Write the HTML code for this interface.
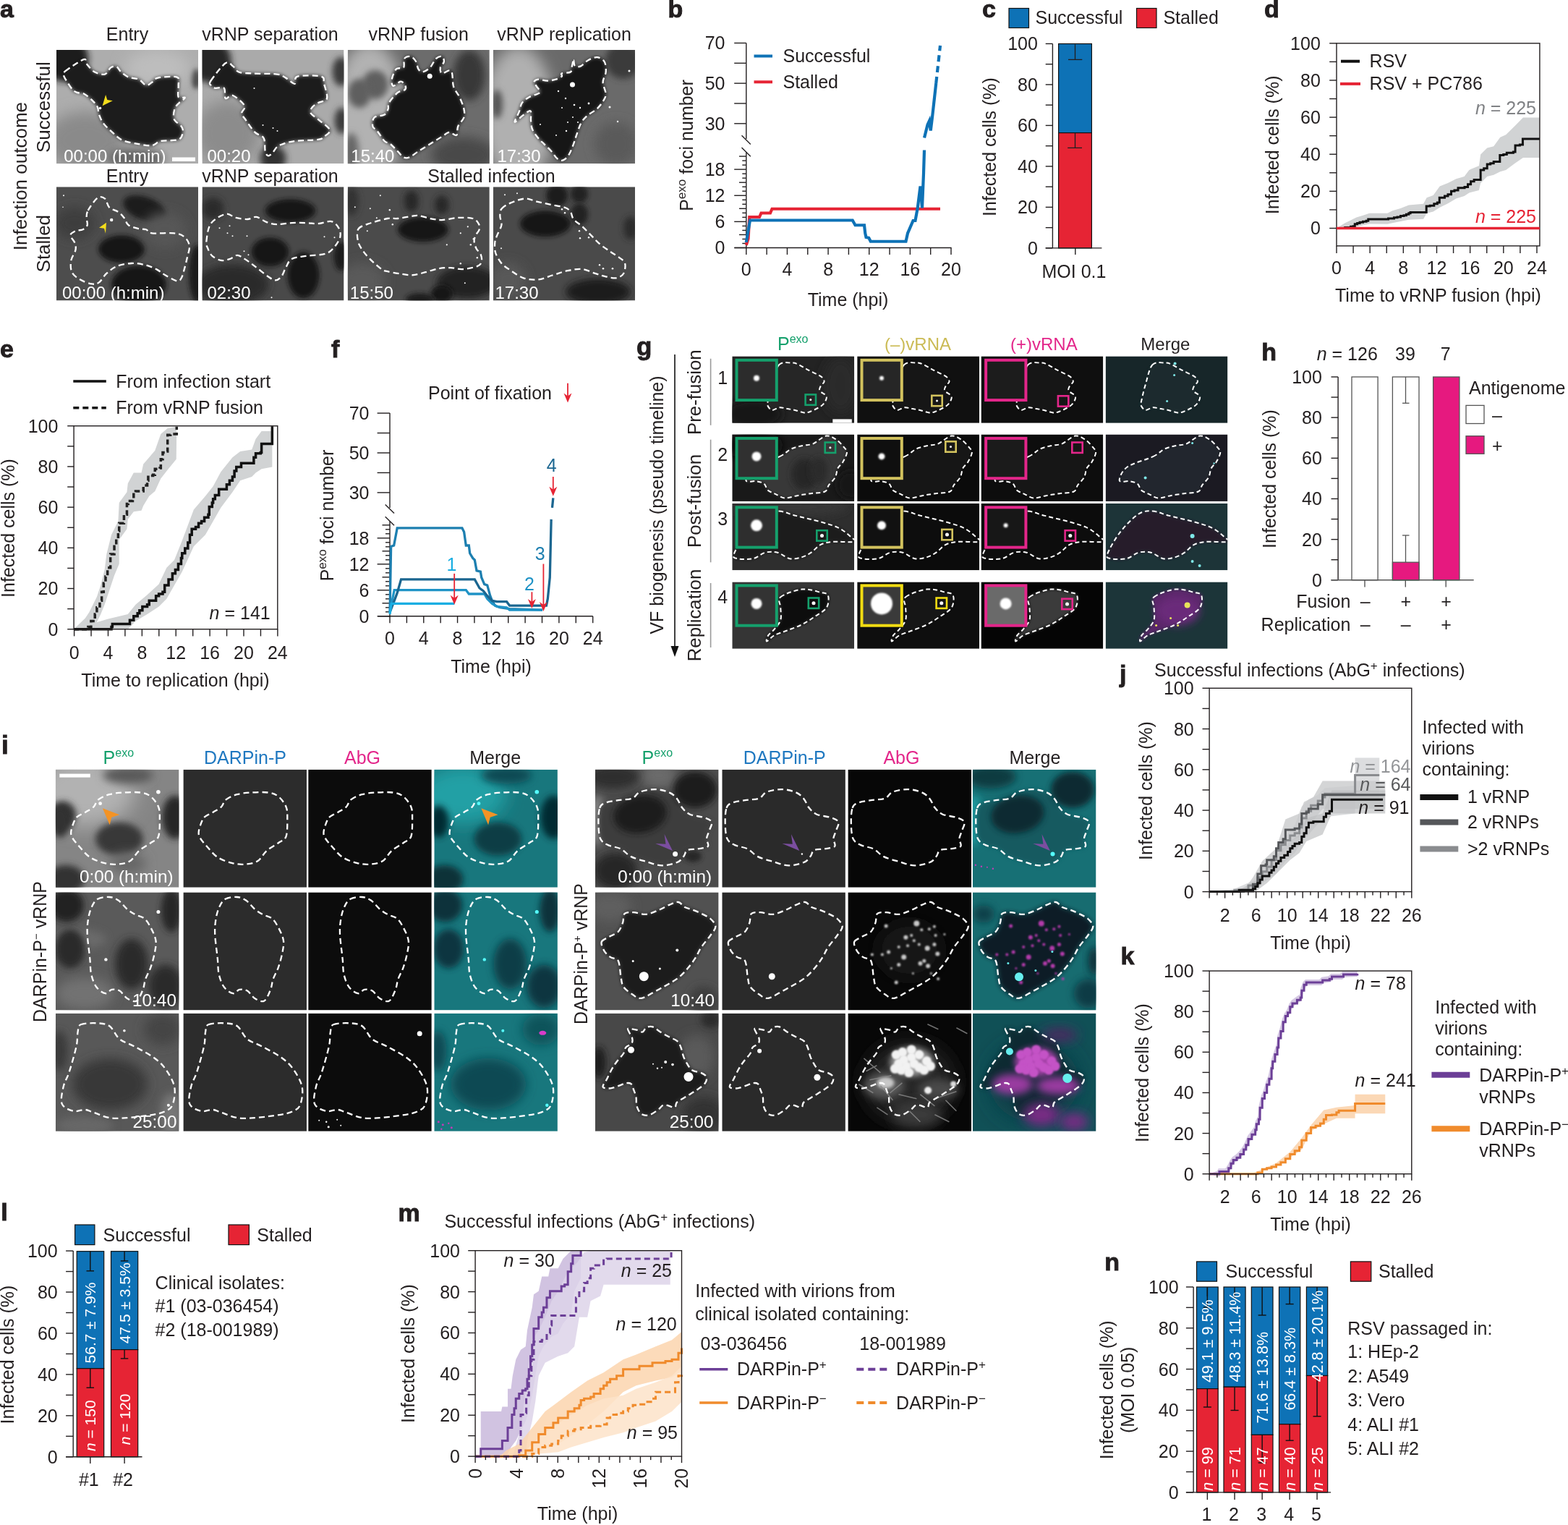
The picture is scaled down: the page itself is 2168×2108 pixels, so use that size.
<!DOCTYPE html>
<html><head><meta charset="utf-8"><title>Figure</title>
<style>html,body{margin:0;padding:0;background:#fff;width:2168px;height:2108px;overflow:hidden}svg{display:block}</style>
</head><body>
<svg width="2168" height="2108" viewBox="0 0 2168 2108" font-family='"Liberation Sans", Arial, Helvetica, sans-serif'><defs><filter id="bl2" x="-50%" y="-50%" width="200%" height="200%"><feGaussianBlur stdDeviation="1.0"/></filter><filter id="bl4" x="-50%" y="-50%" width="200%" height="200%"><feGaussianBlur stdDeviation="2.0"/></filter><filter id="bl5" x="-50%" y="-50%" width="200%" height="200%"><feGaussianBlur stdDeviation="2.5"/></filter><filter id="bl6" x="-50%" y="-50%" width="200%" height="200%"><feGaussianBlur stdDeviation="3.0"/></filter><filter id="bl8" x="-50%" y="-50%" width="200%" height="200%"><feGaussianBlur stdDeviation="4.0"/></filter><filter id="bl10" x="-50%" y="-50%" width="200%" height="200%"><feGaussianBlur stdDeviation="5.0"/></filter><filter id="bl12" x="-50%" y="-50%" width="200%" height="200%"><feGaussianBlur stdDeviation="6.0"/></filter><filter id="bl16" x="-50%" y="-50%" width="200%" height="200%"><feGaussianBlur stdDeviation="8.0"/></filter><filter id="bl20" x="-50%" y="-50%" width="200%" height="200%"><feGaussianBlur stdDeviation="10.0"/></filter><filter id="bl24" x="-50%" y="-50%" width="200%" height="200%"><feGaussianBlur stdDeviation="12.0"/></filter><filter id="bl28" x="-50%" y="-50%" width="200%" height="200%"><feGaussianBlur stdDeviation="14.0"/></filter><clipPath id="c1"><rect x="0" y="0" width="196" height="157.2"/></clipPath><clipPath id="c2"><rect x="0" y="0" width="196" height="157.2"/></clipPath><clipPath id="c3"><rect x="0" y="0" width="196" height="157.2"/></clipPath><clipPath id="c4"><rect x="0" y="0" width="196" height="157.2"/></clipPath><clipPath id="c5"><rect x="0" y="0" width="196" height="157.2"/></clipPath><clipPath id="c6"><rect x="0" y="0" width="196" height="157.2"/></clipPath><clipPath id="c7"><rect x="0" y="0" width="196" height="157.2"/></clipPath><clipPath id="c8"><rect x="0" y="0" width="196" height="157.2"/></clipPath><clipPath id="c9"><rect x="0" y="0" width="168.8" height="92.4"/></clipPath><clipPath id="c10"><rect x="0" y="0" width="168.8" height="92.4"/></clipPath><clipPath id="c11"><rect x="0" y="0" width="168.8" height="92.4"/></clipPath><clipPath id="c12"><rect x="0" y="0" width="168.8" height="92.4"/></clipPath><clipPath id="c13"><rect x="0" y="0" width="168.8" height="92.4"/></clipPath><clipPath id="c14"><rect x="0" y="0" width="168.8" height="92.4"/></clipPath><clipPath id="c15"><rect x="0" y="0" width="168.8" height="92.4"/></clipPath><clipPath id="c16"><rect x="0" y="0" width="168.8" height="92.4"/></clipPath><clipPath id="c17"><rect x="0" y="0" width="168.8" height="92.4"/></clipPath><clipPath id="c18"><rect x="0" y="0" width="168.8" height="92.4"/></clipPath><clipPath id="c19"><rect x="0" y="0" width="168.8" height="92.4"/></clipPath><clipPath id="c20"><rect x="0" y="0" width="168.8" height="92.4"/></clipPath><clipPath id="c21"><rect x="0" y="0" width="168.8" height="92.4"/></clipPath><clipPath id="c22"><rect x="0" y="0" width="168.8" height="92.4"/></clipPath><clipPath id="c23"><rect x="0" y="0" width="168.8" height="92.4"/></clipPath><clipPath id="c24"><rect x="0" y="0" width="168.8" height="92.4"/></clipPath><clipPath id="c25"><rect x="0" y="0" width="170.6" height="163"/></clipPath><clipPath id="c26"><rect x="0" y="0" width="170.6" height="163"/></clipPath><clipPath id="c27"><rect x="0" y="0" width="170.6" height="163"/></clipPath><clipPath id="c28"><rect x="0" y="0" width="170.6" height="163"/></clipPath><clipPath id="c29"><rect x="0" y="0" width="170.6" height="163"/></clipPath><clipPath id="c30"><rect x="0" y="0" width="170.6" height="163"/></clipPath><clipPath id="c31"><rect x="0" y="0" width="170.6" height="163"/></clipPath><clipPath id="c32"><rect x="0" y="0" width="170.6" height="163"/></clipPath><clipPath id="c33"><rect x="0" y="0" width="170.6" height="163"/></clipPath><clipPath id="c34"><rect x="0" y="0" width="170.6" height="163"/></clipPath><clipPath id="c35"><rect x="0" y="0" width="170.6" height="163"/></clipPath><clipPath id="c36"><rect x="0" y="0" width="170.6" height="163"/></clipPath><clipPath id="c37"><rect x="0" y="0" width="170.6" height="163"/></clipPath><clipPath id="c38"><rect x="0" y="0" width="170.6" height="163"/></clipPath><clipPath id="c39"><rect x="0" y="0" width="170.6" height="163"/></clipPath><clipPath id="c40"><rect x="0" y="0" width="170.6" height="163"/></clipPath><clipPath id="c41"><rect x="0" y="0" width="170.6" height="163"/></clipPath><clipPath id="c42"><rect x="0" y="0" width="170.6" height="163"/></clipPath><clipPath id="c43"><rect x="0" y="0" width="170.6" height="163"/></clipPath><clipPath id="c44"><rect x="0" y="0" width="170.6" height="163"/></clipPath><clipPath id="c45"><rect x="0" y="0" width="170.6" height="163"/></clipPath><clipPath id="c46"><rect x="0" y="0" width="170.6" height="163"/></clipPath><clipPath id="c47"><rect x="0" y="0" width="170.6" height="163"/></clipPath><clipPath id="c48"><rect x="0" y="0" width="170.6" height="163"/></clipPath></defs><rect width="2168" height="2108" fill="#fff"/><text x="0" y="24" font-size="34" fill="#231f20" font-weight="bold" stroke="#231f20" stroke-width="0.9">a</text>
<text x="176" y="56.1" font-size="25" fill="#231f20" text-anchor="middle">Entry</text>
<text x="373.5" y="56.1" font-size="25" fill="#231f20" text-anchor="middle">vRNP separation</text>
<text x="578.7" y="56.1" font-size="25" fill="#231f20" text-anchor="middle">vRNP fusion</text>
<text x="780" y="56.1" font-size="25" fill="#231f20" text-anchor="middle">vRNP replication</text>
<text x="176" y="252.2" font-size="25" fill="#231f20" text-anchor="middle">Entry</text>
<text x="373.5" y="252.2" font-size="25" fill="#231f20" text-anchor="middle">vRNP separation</text>
<text x="679.5" y="252.2" font-size="25" fill="#231f20" text-anchor="middle">Stalled infection</text>
<text transform="translate(68.6,148.2) rotate(-90)" x="0" y="0" font-size="26" fill="#231f20" text-anchor="middle">Successful</text>
<text transform="translate(68.6,336.7) rotate(-90)" x="0" y="0" font-size="26" fill="#231f20" text-anchor="middle">Stalled</text>
<text transform="translate(36.6,243.6) rotate(-90)" x="0" y="0" font-size="26" fill="#231f20" text-anchor="middle">Infection outcome</text>
<g transform="translate(78,69)"><g clip-path="url(#c1)">
<rect x="0" y="0" width="196" height="157.2" fill="#adadad"/>
<ellipse cx="40" cy="125" rx="55" ry="40" fill="#8a8a8a" filter="url(#bl20)"/>
<ellipse cx="110" cy="150" rx="40" ry="14" fill="#666" filter="url(#bl12)"/>
<ellipse cx="12" cy="12" rx="32" ry="32" fill="#1e1e1e" filter="url(#bl10)"/>
<ellipse cx="193" cy="40" rx="6" ry="14" fill="#444" filter="url(#bl6)"/>
<ellipse cx="140" cy="25" rx="45" ry="25" fill="#bdbdbd" filter="url(#bl20)"/>
<path d="M12.2,29.47 C16.77,25.75 32.69,14.91 37.6,13.21 C42.51,11.52 39.13,16.43 41.67,19.31 C44.21,22.19 48.61,28.12 52.85,30.49 C57.08,32.86 63.35,34.55 67.07,33.54 C70.8,32.52 72.49,26.08 75.2,24.39 C77.91,22.7 80.96,22.36 83.33,23.37 C85.7,24.39 86.72,28.12 89.43,30.49 C92.14,32.86 95.53,35.91 99.59,37.6 C103.66,39.3 109.76,38.79 113.82,40.65 C117.89,42.51 120.93,48.1 123.98,48.78 C127.03,49.46 129.4,46.41 132.11,44.72 C134.82,43.02 134.49,39.8 140.24,38.62 C146,37.43 161.92,35.91 166.67,37.6 C171.41,39.3 168.36,44.21 168.7,48.78 C169.04,53.35 167.17,62.16 168.7,65.04 C170.22,67.92 177.68,64.7 177.85,66.06 C178.01,67.41 172.09,70.63 169.72,73.17 C167.34,75.71 164.8,77.57 163.62,81.3 C162.43,85.03 161.08,91.46 162.6,95.53 C164.13,99.59 170.73,102.64 172.76,105.69 C174.8,108.74 175.47,110.77 174.8,113.82 C174.12,116.87 173.78,121.95 168.7,123.98 C163.62,126.02 150.41,124.66 144.31,126.02 C138.21,127.37 137.2,131.44 132.11,132.11 C127.03,132.79 120.6,131.27 113.82,130.08 C107.05,128.9 97.56,127.71 91.46,125 C85.37,122.29 81.64,117.72 77.24,113.82 C72.83,109.93 68.09,105.69 65.04,101.63 C61.99,97.56 60.3,93.16 58.94,89.43 C57.59,85.7 58.27,82.32 56.91,79.27 C55.56,76.22 53.86,74.19 50.81,71.14 C47.76,68.09 42.34,63.01 38.62,60.98 C34.89,58.94 31.17,59.96 28.46,58.94 C25.75,57.93 24.56,57.25 22.36,54.88 C20.16,52.51 17.28,47.93 15.24,44.72 C13.21,41.5 10.67,38.11 10.16,35.57 C9.65,33.03 7.62,33.2 12.2,29.47Z" fill="#1a1a1a" filter="url(#bl5)" opacity="1"/>
<path d="M12.2,29.47 C16.77,25.75 32.69,14.91 37.6,13.21 C42.51,11.52 39.13,16.43 41.67,19.31 C44.21,22.19 48.61,28.12 52.85,30.49 C57.08,32.86 63.35,34.55 67.07,33.54 C70.8,32.52 72.49,26.08 75.2,24.39 C77.91,22.7 80.96,22.36 83.33,23.37 C85.7,24.39 86.72,28.12 89.43,30.49 C92.14,32.86 95.53,35.91 99.59,37.6 C103.66,39.3 109.76,38.79 113.82,40.65 C117.89,42.51 120.93,48.1 123.98,48.78 C127.03,49.46 129.4,46.41 132.11,44.72 C134.82,43.02 134.49,39.8 140.24,38.62 C146,37.43 161.92,35.91 166.67,37.6 C171.41,39.3 168.36,44.21 168.7,48.78 C169.04,53.35 167.17,62.16 168.7,65.04 C170.22,67.92 177.68,64.7 177.85,66.06 C178.01,67.41 172.09,70.63 169.72,73.17 C167.34,75.71 164.8,77.57 163.62,81.3 C162.43,85.03 161.08,91.46 162.6,95.53 C164.13,99.59 170.73,102.64 172.76,105.69 C174.8,108.74 175.47,110.77 174.8,113.82 C174.12,116.87 173.78,121.95 168.7,123.98 C163.62,126.02 150.41,124.66 144.31,126.02 C138.21,127.37 137.2,131.44 132.11,132.11 C127.03,132.79 120.6,131.27 113.82,130.08 C107.05,128.9 97.56,127.71 91.46,125 C85.37,122.29 81.64,117.72 77.24,113.82 C72.83,109.93 68.09,105.69 65.04,101.63 C61.99,97.56 60.3,93.16 58.94,89.43 C57.59,85.7 58.27,82.32 56.91,79.27 C55.56,76.22 53.86,74.19 50.81,71.14 C47.76,68.09 42.34,63.01 38.62,60.98 C34.89,58.94 31.17,59.96 28.46,58.94 C25.75,57.93 24.56,57.25 22.36,54.88 C20.16,52.51 17.28,47.93 15.24,44.72 C13.21,41.5 10.67,38.11 10.16,35.57 C9.65,33.03 7.62,33.2 12.2,29.47Z" fill="none" stroke="#fff" stroke-width="2.3" stroke-dasharray="8 5"/>
<circle cx="60.5" cy="80.5" r="1.8" fill="#fff"/>
<path d="M63.6,77.2 L68.1,62 L70.3,69.1 L77.8,70.3 z" fill="#f3dd1c"/>
<text x="10.2" y="154.8" font-size="24" fill="#fff">00:00 (h:min)</text>
<rect x="160" y="148.5" width="32" height="5.5" fill="#fff"/>
</g></g>
<g transform="translate(279.5,69)"><g clip-path="url(#c2)">
<rect x="0" y="0" width="196" height="157.2" fill="#aaaaaa"/>
<ellipse cx="35" cy="115" rx="45" ry="45" fill="#8c8c8c" filter="url(#bl20)"/>
<ellipse cx="10" cy="15" rx="30" ry="30" fill="#262626" filter="url(#bl10)"/>
<ellipse cx="192" cy="30" rx="12" ry="20" fill="#3a3a3a" filter="url(#bl8)"/>
<ellipse cx="193" cy="98" rx="10" ry="18" fill="#3a3a3a" filter="url(#bl8)"/>
<ellipse cx="98" cy="150" rx="18" ry="18" fill="#333" filter="url(#bl10)"/>
<path d="M11.99,42.68 C15.38,37.6 27.24,21.68 32.32,18.29 C37.4,14.91 39.43,20.33 42.48,22.36 C45.53,24.39 46.21,28.79 50.61,30.49 C55.01,32.18 60.09,32.01 68.9,32.52 C77.71,33.03 95.66,32.52 103.46,33.54 C111.25,34.55 111.59,36.42 115.65,38.62 C119.72,40.82 125.14,47.09 127.85,46.75 C130.56,46.41 125.81,38.28 131.91,36.59 C138.01,34.89 158.33,34.89 164.43,36.59 C170.53,38.28 167.14,41.67 168.5,46.75 C169.85,51.83 173.92,62.67 172.56,67.07 C171.21,71.48 163.75,71.14 160.37,73.17 C156.98,75.2 153.93,76.9 152.24,79.27 C150.54,81.64 148.51,84.35 150.2,87.4 C151.9,90.45 157.99,93.67 162.4,97.56 C166.8,101.46 175.61,107.05 176.63,110.77 C177.64,114.5 171.21,117.72 168.5,119.92 C165.79,122.12 167.14,122.97 160.37,123.98 C153.59,125 135.98,125 127.85,126.02 C119.72,127.03 115.65,128.73 111.59,130.08 C107.52,131.44 105.83,132.11 103.46,134.15 C101.08,136.18 99.39,140.24 97.36,142.28 C95.33,144.31 92.95,146.68 91.26,146.34 C89.57,146 88.21,144.31 87.2,140.24 C86.18,136.18 87.53,126.36 85.16,121.95 C82.79,117.55 77.03,117.89 72.97,113.82 C68.9,109.76 63.82,101.96 60.77,97.56 C57.72,93.16 55.01,90.79 54.67,87.4 C54.34,84.01 60.77,81.3 58.74,77.24 C56.71,73.17 46.88,64.7 42.48,63.01 C38.08,61.31 34.35,68.77 32.32,67.07 C30.28,65.38 32.66,55.22 30.28,52.85 C27.91,50.47 21.14,53.52 18.09,52.85 C15.04,52.17 13.01,50.47 11.99,48.78 C10.98,47.09 8.6,47.76 11.99,42.68Z" fill="#1c1c1c" filter="url(#bl5)" opacity="1"/>
<path d="M11.99,42.68 C15.38,37.6 27.24,21.68 32.32,18.29 C37.4,14.91 39.43,20.33 42.48,22.36 C45.53,24.39 46.21,28.79 50.61,30.49 C55.01,32.18 60.09,32.01 68.9,32.52 C77.71,33.03 95.66,32.52 103.46,33.54 C111.25,34.55 111.59,36.42 115.65,38.62 C119.72,40.82 125.14,47.09 127.85,46.75 C130.56,46.41 125.81,38.28 131.91,36.59 C138.01,34.89 158.33,34.89 164.43,36.59 C170.53,38.28 167.14,41.67 168.5,46.75 C169.85,51.83 173.92,62.67 172.56,67.07 C171.21,71.48 163.75,71.14 160.37,73.17 C156.98,75.2 153.93,76.9 152.24,79.27 C150.54,81.64 148.51,84.35 150.2,87.4 C151.9,90.45 157.99,93.67 162.4,97.56 C166.8,101.46 175.61,107.05 176.63,110.77 C177.64,114.5 171.21,117.72 168.5,119.92 C165.79,122.12 167.14,122.97 160.37,123.98 C153.59,125 135.98,125 127.85,126.02 C119.72,127.03 115.65,128.73 111.59,130.08 C107.52,131.44 105.83,132.11 103.46,134.15 C101.08,136.18 99.39,140.24 97.36,142.28 C95.33,144.31 92.95,146.68 91.26,146.34 C89.57,146 88.21,144.31 87.2,140.24 C86.18,136.18 87.53,126.36 85.16,121.95 C82.79,117.55 77.03,117.89 72.97,113.82 C68.9,109.76 63.82,101.96 60.77,97.56 C57.72,93.16 55.01,90.79 54.67,87.4 C54.34,84.01 60.77,81.3 58.74,77.24 C56.71,73.17 46.88,64.7 42.48,63.01 C38.08,61.31 34.35,68.77 32.32,67.07 C30.28,65.38 32.66,55.22 30.28,52.85 C27.91,50.47 21.14,53.52 18.09,52.85 C15.04,52.17 13.01,50.47 11.99,48.78 C10.98,47.09 8.6,47.76 11.99,42.68Z" fill="none" stroke="#fff" stroke-width="2.3" stroke-dasharray="8 5"/>
<circle cx="72" cy="53" r="1" fill="#fff"/>
<circle cx="84" cy="104" r="1" fill="#fff"/>
<circle cx="98" cy="108" r="1" fill="#fff"/>
<circle cx="104" cy="112" r="1" fill="#fff"/>
<text x="7" y="154.8" font-size="24" fill="#fff">00:20</text>
</g></g>
<g transform="translate(480.8,69)"><g clip-path="url(#c3)">
<rect x="0" y="0" width="196" height="157.2" fill="#6c6c6c"/>
<ellipse cx="30" cy="85" rx="50" ry="95" fill="#b2b2b2" filter="url(#bl20)"/>
<ellipse cx="38" cy="48" rx="18" ry="20" fill="#5e5e5e" filter="url(#bl8)"/>
<ellipse cx="16" cy="60" rx="16" ry="20" fill="#5e5e5e" filter="url(#bl8)"/>
<ellipse cx="5" cy="140" rx="10" ry="25" fill="#666" filter="url(#bl10)"/>
<ellipse cx="168" cy="35" rx="22" ry="35" fill="#383838" filter="url(#bl12)"/>
<ellipse cx="160" cy="145" rx="45" ry="25" fill="#4a4a4a" filter="url(#bl16)"/>
<path d="M78.25,12.2 C79.95,9.65 84.69,8.47 87.4,9.15 C90.11,9.82 92.82,13.38 94.51,16.26 C96.21,19.14 96.04,24.05 97.56,26.42 C99.09,28.79 100.95,30.83 103.66,30.49 C106.37,30.15 110.77,27.44 113.82,24.39 C116.87,21.34 119.24,14.74 121.95,12.2 C124.66,9.65 128.22,8.47 130.08,9.15 C131.94,9.82 133.47,13.72 133.13,16.26 C132.79,18.8 128.56,21.68 128.05,24.39 C127.54,27.1 128.05,31.84 130.08,32.52 C132.11,33.2 137.87,28.46 140.24,28.46 C142.62,28.46 143.29,28.79 144.31,32.52 C145.33,36.25 144.65,45.39 146.34,50.81 C148.04,56.23 152.1,59.96 154.47,65.04 C156.84,70.12 159.55,76.56 160.57,81.3 C161.59,86.04 161.92,89.43 160.57,93.5 C159.21,97.56 154.13,101.63 152.44,105.69 C150.75,109.76 152.44,116.53 150.41,117.89 C148.37,119.24 143.63,113.48 140.24,113.82 C136.86,114.16 134.49,117.21 130.08,119.92 C125.68,122.63 119.24,126.69 113.82,130.08 C108.4,133.47 102.3,137.2 97.56,140.24 C92.82,143.29 88.75,147.02 85.37,148.37 C81.98,149.73 79.95,149.73 77.24,148.37 C74.53,147.02 72.15,143.29 69.11,140.24 C66.06,137.2 61.99,132.45 58.94,130.08 C55.89,127.71 53.86,129.07 50.81,126.02 C47.76,122.97 43.36,115.18 40.65,111.79 C37.94,108.4 35.23,108.74 34.55,105.69 C33.88,102.64 33.88,96.21 36.59,93.5 C39.3,90.79 47.59,91.46 50.81,89.43 C54.03,87.4 54.88,84.01 55.89,81.3 C56.91,78.59 54.71,76.9 56.91,73.17 C59.11,69.44 65.38,61.99 69.11,58.94 C72.83,55.89 77.57,56.57 79.27,54.88 C80.96,53.18 80.28,50.64 79.27,48.78 C78.25,46.92 75.88,43.53 73.17,43.7 C70.46,43.87 65.04,50.3 63.01,49.8 C60.98,49.29 60.3,44.55 60.98,40.65 C61.65,36.75 64.36,29.13 67.07,26.42 C69.78,23.71 75.37,26.76 77.24,24.39 C79.1,22.02 76.56,14.74 78.25,12.2Z" fill="#161616" filter="url(#bl5)" opacity="1"/>
<path d="M78.25,12.2 C79.95,9.65 84.69,8.47 87.4,9.15 C90.11,9.82 92.82,13.38 94.51,16.26 C96.21,19.14 96.04,24.05 97.56,26.42 C99.09,28.79 100.95,30.83 103.66,30.49 C106.37,30.15 110.77,27.44 113.82,24.39 C116.87,21.34 119.24,14.74 121.95,12.2 C124.66,9.65 128.22,8.47 130.08,9.15 C131.94,9.82 133.47,13.72 133.13,16.26 C132.79,18.8 128.56,21.68 128.05,24.39 C127.54,27.1 128.05,31.84 130.08,32.52 C132.11,33.2 137.87,28.46 140.24,28.46 C142.62,28.46 143.29,28.79 144.31,32.52 C145.33,36.25 144.65,45.39 146.34,50.81 C148.04,56.23 152.1,59.96 154.47,65.04 C156.84,70.12 159.55,76.56 160.57,81.3 C161.59,86.04 161.92,89.43 160.57,93.5 C159.21,97.56 154.13,101.63 152.44,105.69 C150.75,109.76 152.44,116.53 150.41,117.89 C148.37,119.24 143.63,113.48 140.24,113.82 C136.86,114.16 134.49,117.21 130.08,119.92 C125.68,122.63 119.24,126.69 113.82,130.08 C108.4,133.47 102.3,137.2 97.56,140.24 C92.82,143.29 88.75,147.02 85.37,148.37 C81.98,149.73 79.95,149.73 77.24,148.37 C74.53,147.02 72.15,143.29 69.11,140.24 C66.06,137.2 61.99,132.45 58.94,130.08 C55.89,127.71 53.86,129.07 50.81,126.02 C47.76,122.97 43.36,115.18 40.65,111.79 C37.94,108.4 35.23,108.74 34.55,105.69 C33.88,102.64 33.88,96.21 36.59,93.5 C39.3,90.79 47.59,91.46 50.81,89.43 C54.03,87.4 54.88,84.01 55.89,81.3 C56.91,78.59 54.71,76.9 56.91,73.17 C59.11,69.44 65.38,61.99 69.11,58.94 C72.83,55.89 77.57,56.57 79.27,54.88 C80.96,53.18 80.28,50.64 79.27,48.78 C78.25,46.92 75.88,43.53 73.17,43.7 C70.46,43.87 65.04,50.3 63.01,49.8 C60.98,49.29 60.3,44.55 60.98,40.65 C61.65,36.75 64.36,29.13 67.07,26.42 C69.78,23.71 75.37,26.76 77.24,24.39 C79.1,22.02 76.56,14.74 78.25,12.2Z" fill="none" stroke="#fff" stroke-width="2.3" stroke-dasharray="8 5"/>
<circle cx="113.4" cy="36.2" r="3.5" fill="#fff"/>
<text x="4.5" y="154.8" font-size="24" fill="#fff">15:40</text>
</g></g>
<g transform="translate(682,69)"><g clip-path="url(#c4)">
<rect x="0" y="0" width="196" height="157.2" fill="#6a6a6a"/>
<ellipse cx="35" cy="90" rx="50" ry="95" fill="#b0b0b0" filter="url(#bl20)"/>
<ellipse cx="180" cy="15" rx="25" ry="25" fill="#3a3a3a" filter="url(#bl10)"/>
<ellipse cx="5" cy="75" rx="8" ry="20" fill="#555" filter="url(#bl8)"/>
<ellipse cx="170" cy="130" rx="30" ry="30" fill="#5a5a5a" filter="url(#bl16)"/>
<path d="M110.98,14.23 C111.65,14.23 111.31,21 113.01,22.36 C114.7,23.71 118.09,23.71 121.14,22.36 C124.19,21 127.57,16.26 131.3,14.23 C135.03,12.2 139.77,9.82 143.5,10.16 C147.22,10.5 151.63,12.87 153.66,16.26 C155.69,19.65 156.03,25.75 155.69,30.49 C155.35,35.23 151.63,39.63 151.63,44.72 C151.63,49.8 155.69,56.57 155.69,60.98 C155.69,65.38 153.66,67.75 151.63,71.14 C149.59,74.53 147.22,77.91 143.5,81.3 C139.77,84.69 132.99,88.08 129.27,91.46 C125.54,94.85 123.51,97.22 121.14,101.63 C118.77,106.03 116.73,113.14 115.04,117.89 C113.35,122.63 112.67,125.68 110.98,130.08 C109.28,134.49 107.25,140.58 104.88,144.31 C102.51,148.04 99.46,151.42 96.75,152.44 C94.04,153.46 91.33,152.44 88.62,150.41 C85.91,148.37 83.54,143.63 80.49,140.24 C77.44,136.86 73.37,133.13 70.33,130.08 C67.28,127.03 64.91,125.34 62.2,121.95 C59.49,118.56 55.76,113.82 54.07,109.76 C52.37,105.69 52.37,101.63 52.03,97.56 C51.69,93.5 52.71,87.4 52.03,85.37 C51.36,83.33 50,84.35 47.97,85.37 C45.93,86.38 42.89,89.09 39.84,91.46 C36.79,93.83 30.35,100.61 29.67,99.59 C29,98.58 34.08,89.77 35.77,85.37 C37.47,80.96 37.47,76.56 39.84,73.17 C42.21,69.78 45.93,67.41 50,65.04 C54.07,62.67 62.53,61.31 64.23,58.94 C65.92,56.57 61.52,53.18 60.16,50.81 C58.81,48.44 55.76,46.41 56.1,44.72 C56.44,43.02 59.15,40.99 62.2,40.65 C65.24,40.31 70.33,42.68 74.39,42.68 C78.46,42.68 83.2,41.67 86.59,40.65 C89.97,39.63 93.36,37.94 94.72,36.59 C96.07,35.23 92.68,33.54 94.72,32.52 C96.75,31.5 104.54,32.18 106.91,30.49 C109.28,28.79 108.27,25.07 108.94,22.36 C109.62,19.65 110.3,14.23 110.98,14.23Z" fill="#141414" filter="url(#bl5)" opacity="1"/>
<path d="M110.98,14.23 C111.65,14.23 111.31,21 113.01,22.36 C114.7,23.71 118.09,23.71 121.14,22.36 C124.19,21 127.57,16.26 131.3,14.23 C135.03,12.2 139.77,9.82 143.5,10.16 C147.22,10.5 151.63,12.87 153.66,16.26 C155.69,19.65 156.03,25.75 155.69,30.49 C155.35,35.23 151.63,39.63 151.63,44.72 C151.63,49.8 155.69,56.57 155.69,60.98 C155.69,65.38 153.66,67.75 151.63,71.14 C149.59,74.53 147.22,77.91 143.5,81.3 C139.77,84.69 132.99,88.08 129.27,91.46 C125.54,94.85 123.51,97.22 121.14,101.63 C118.77,106.03 116.73,113.14 115.04,117.89 C113.35,122.63 112.67,125.68 110.98,130.08 C109.28,134.49 107.25,140.58 104.88,144.31 C102.51,148.04 99.46,151.42 96.75,152.44 C94.04,153.46 91.33,152.44 88.62,150.41 C85.91,148.37 83.54,143.63 80.49,140.24 C77.44,136.86 73.37,133.13 70.33,130.08 C67.28,127.03 64.91,125.34 62.2,121.95 C59.49,118.56 55.76,113.82 54.07,109.76 C52.37,105.69 52.37,101.63 52.03,97.56 C51.69,93.5 52.71,87.4 52.03,85.37 C51.36,83.33 50,84.35 47.97,85.37 C45.93,86.38 42.89,89.09 39.84,91.46 C36.79,93.83 30.35,100.61 29.67,99.59 C29,98.58 34.08,89.77 35.77,85.37 C37.47,80.96 37.47,76.56 39.84,73.17 C42.21,69.78 45.93,67.41 50,65.04 C54.07,62.67 62.53,61.31 64.23,58.94 C65.92,56.57 61.52,53.18 60.16,50.81 C58.81,48.44 55.76,46.41 56.1,44.72 C56.44,43.02 59.15,40.99 62.2,40.65 C65.24,40.31 70.33,42.68 74.39,42.68 C78.46,42.68 83.2,41.67 86.59,40.65 C89.97,39.63 93.36,37.94 94.72,36.59 C96.07,35.23 92.68,33.54 94.72,32.52 C96.75,31.5 104.54,32.18 106.91,30.49 C109.28,28.79 108.27,25.07 108.94,22.36 C109.62,19.65 110.3,14.23 110.98,14.23Z" fill="none" stroke="#fff" stroke-width="2.3" stroke-dasharray="8 5"/>
<circle cx="109.5" cy="48" r="3.5" fill="#fff"/>
<circle cx="188" cy="29" r="1.5" fill="#fff"/>
<circle cx="161" cy="79" r="1.5" fill="#fff"/>
<circle cx="172" cy="99" r="1.2" fill="#fff"/>
<circle cx="90" cy="57" r="1.2" fill="#fff"/>
<circle cx="100" cy="67" r="1.2" fill="#fff"/>
<circle cx="112" cy="76" r="1.3" fill="#fff"/>
<circle cx="120" cy="80" r="1.2" fill="#fff"/>
<circle cx="95" cy="80" r="1" fill="#fff"/>
<circle cx="132" cy="74" r="1.4" fill="#fff"/>
<circle cx="110" cy="93" r="1" fill="#fff"/>
<circle cx="103" cy="100" r="1" fill="#fff"/>
<circle cx="117" cy="100" r="1" fill="#fff"/>
<circle cx="65" cy="103" r="1" fill="#fff"/>
<circle cx="101" cy="112" r="1.2" fill="#fff"/>
<circle cx="87" cy="118" r="1" fill="#fff"/>
<text x="5.5" y="154.8" font-size="24" fill="#fff">17:30</text>
</g></g>
<g transform="translate(78,258.3)"><g clip-path="url(#c5)">
<rect x="0" y="0" width="196" height="157.2" fill="#4d4d4d"/>
<ellipse cx="25" cy="50" rx="28" ry="22" fill="#3c3c3c" filter="url(#bl16)"/>
<ellipse cx="122" cy="30" rx="31" ry="16" fill="#1c1c1c" filter="url(#bl6)" transform="rotate(20,122,30)"/>
<ellipse cx="90" cy="86" rx="32" ry="19" fill="#141414" filter="url(#bl6)"/>
<ellipse cx="114" cy="135" rx="38" ry="26" fill="#181818" filter="url(#bl6)"/>
<ellipse cx="195" cy="120" rx="12" ry="40" fill="#1c1c1c" filter="url(#bl6)"/>
<ellipse cx="150" cy="60" rx="30" ry="25" fill="#575757" filter="url(#bl16)"/>
<path d="M43.7,32.52 C46.24,27.95 53.01,17.95 56.91,15.24 C60.81,12.53 64.36,14.06 67.07,16.26 C69.78,18.46 70.12,25.41 73.17,28.46 C76.22,31.5 81.98,32.18 85.37,34.55 C88.75,36.92 91.12,39.63 93.5,42.68 C95.87,45.73 96.21,50.3 99.59,52.85 C102.98,55.39 109.76,56.91 113.82,57.93 C117.89,58.94 120.93,57.93 123.98,58.94 C127.03,59.96 125.68,63.18 132.11,64.02 C138.55,64.87 155.15,63.18 162.6,64.02 C170.05,64.87 173.27,66.23 176.83,69.11 C180.39,71.99 183.27,76.56 183.94,81.3 C184.62,86.04 182.08,92.14 180.89,97.56 C179.71,102.98 178.18,109.08 176.83,113.82 C175.47,118.56 174.46,123.31 172.76,126.02 C171.07,128.73 170.39,130.76 166.67,130.08 C162.94,129.4 155.15,124.66 150.41,121.95 C145.66,119.24 142.95,116.19 138.21,113.82 C133.47,111.45 127.71,109.08 121.95,107.72 C116.19,106.37 110.09,105.35 103.66,105.69 C97.22,106.03 89.09,107.38 83.33,109.76 C77.57,112.13 73.17,116.19 69.11,119.92 C65.04,123.64 62.33,129.74 58.94,132.11 C55.56,134.49 53.18,134.82 48.78,134.15 C44.38,133.47 37.09,130.76 32.52,128.05 C27.95,125.34 23.37,122.29 21.34,117.89 C19.31,113.48 19.48,106.71 20.33,101.63 C21.17,96.54 25.58,91.46 26.42,87.4 C27.27,83.33 26.59,80.62 25.41,77.24 C24.22,73.85 19.14,69.78 19.31,67.07 C19.48,64.36 23.54,62.33 26.42,60.98 C29.3,59.62 33.88,60.3 36.59,58.94 C39.3,57.59 41.84,55.56 42.68,52.85 C43.53,50.14 41.5,46.07 41.67,42.68 C41.84,39.3 41.16,37.09 43.7,32.52Z" fill="none" stroke="#fff" stroke-width="2.3" stroke-dasharray="8 5"/>
<circle cx="76.2" cy="45.7" r="2.2" fill="#fff"/>
<circle cx="10" cy="12" r="1" fill="#fff"/>
<circle cx="9" cy="28" r="0.8" fill="#fff"/>
<path d="M69,49.5 l-10,7 l7,1 l2,7 z" fill="#f3dd1c"/>
<text x="8" y="154.8" font-size="24" fill="#fff">00:00 (h:min)</text>
</g></g>
<g transform="translate(279.5,258.3)"><g clip-path="url(#c6)">
<rect x="0" y="0" width="196" height="157.2" fill="#494949"/>
<ellipse cx="15" cy="30" rx="15" ry="15" fill="#2c2c2c" filter="url(#bl10)"/>
<ellipse cx="122" cy="33" rx="35" ry="16" fill="#171717" filter="url(#bl6)"/>
<ellipse cx="94" cy="90" rx="26" ry="20" fill="#141414" filter="url(#bl6)"/>
<ellipse cx="140" cy="122" rx="22" ry="32" fill="#181818" filter="url(#bl6)"/>
<ellipse cx="42" cy="135" rx="50" ry="28" fill="#2a2a2a" filter="url(#bl12)"/>
<ellipse cx="192" cy="96" rx="10" ry="20" fill="#1a1a1a" filter="url(#bl6)"/>
<path d="M5.89,75.2 C6.57,69.44 7.59,57.08 11.99,50.81 C16.4,44.55 26.56,38.96 32.32,37.6 C38.08,36.25 41.46,41.5 46.54,42.68 C51.63,43.87 58.06,44.88 62.8,44.72 C67.55,44.55 70.6,40.99 75,41.67 C79.4,42.34 84.49,47.09 89.23,48.78 C93.97,50.47 97.7,51.66 103.46,51.83 C109.21,52 117.01,50.14 123.78,49.8 C130.56,49.46 138.01,49.63 144.11,49.8 C150.2,49.97 154.61,51.15 160.37,50.81 C166.12,50.47 173.92,46.75 178.66,47.76 C183.4,48.78 186.79,53.35 188.82,56.91 C190.85,60.47 191.87,64.7 190.85,69.11 C189.84,73.51 186.11,79.44 182.72,83.33 C179.34,87.23 176.96,90.45 170.53,92.48 C164.09,94.51 151.9,94.34 144.11,95.53 C136.31,96.71 128.52,96.88 123.78,99.59 C119.04,102.3 118.02,107.72 115.65,111.79 C113.28,115.85 111.92,121.1 109.55,123.98 C107.18,126.86 104.47,129.07 101.42,129.07 C98.37,129.07 96,127.2 91.26,123.98 C86.52,120.77 78.39,113.82 72.97,109.76 C67.55,105.69 62.8,102.13 58.74,99.59 C54.67,97.05 51.96,94.51 48.58,94.51 C45.19,94.51 42.14,98.41 38.41,99.59 C34.69,100.78 30.28,102.3 26.22,101.63 C22.15,100.95 17.07,98.24 14.02,95.53 C10.98,92.82 9.28,88.75 7.93,85.37 C6.57,81.98 5.22,80.96 5.89,75.2Z" fill="none" stroke="#fff" stroke-width="2.3" stroke-dasharray="8 5"/>
<circle cx="24" cy="57" r="1" fill="#fff"/>
<circle cx="38" cy="54" r="1" fill="#fff"/>
<circle cx="35" cy="64" r="1" fill="#fff"/>
<circle cx="42" cy="68" r="1" fill="#fff"/>
<circle cx="62" cy="68" r="1" fill="#fff"/>
<circle cx="169" cy="69" r="1" fill="#fff"/>
<circle cx="183" cy="70" r="1" fill="#fff"/>
<circle cx="64" cy="94" r="1" fill="#fff"/>
<circle cx="58" cy="89" r="1" fill="#fff"/>
<circle cx="96" cy="153" r="1" fill="#fff"/>
<text x="7" y="154.8" font-size="24" fill="#fff">02:30</text>
</g></g>
<g transform="translate(480.8,258.3)"><g clip-path="url(#c7)">
<rect x="0" y="0" width="196" height="157.2" fill="#4b4b4b"/>
<ellipse cx="20" cy="130" rx="32" ry="25" fill="#5a5a5a" filter="url(#bl16)"/>
<ellipse cx="5" cy="20" rx="10" ry="20" fill="#333" filter="url(#bl10)"/>
<ellipse cx="104" cy="59" rx="35" ry="17" fill="#141414" filter="url(#bl6)"/>
<ellipse cx="88" cy="20" rx="10" ry="15" fill="#262626" filter="url(#bl8)"/>
<ellipse cx="130" cy="25" rx="10" ry="13" fill="#262626" filter="url(#bl8)"/>
<ellipse cx="165" cy="132" rx="42" ry="22" fill="#222" filter="url(#bl10)"/>
<ellipse cx="130" cy="148" rx="15" ry="12" fill="#161616" filter="url(#bl6)"/>
<ellipse cx="100" cy="155" rx="20" ry="8" fill="#1e1e1e" filter="url(#bl6)"/>
<path d="M14.23,58.94 C16.26,55.05 19.65,54.37 26.42,51.83 C33.2,49.29 47.76,45.05 54.88,43.7 C61.99,42.34 63.69,44.21 69.11,43.7 C74.53,43.19 82.66,41.33 87.4,40.65 C92.14,39.97 93.16,39.13 97.56,39.63 C101.96,40.14 108.4,42.68 113.82,43.7 C119.24,44.72 123.64,45.9 130.08,45.73 C136.52,45.56 145.33,43.02 152.44,42.68 C159.55,42.34 168.02,42.34 172.76,43.7 C177.51,45.05 179.37,48.27 180.89,50.81 C182.42,53.35 182.59,56.23 181.91,58.94 C181.23,61.65 178.01,64.36 176.83,67.07 C175.64,69.78 174.63,72.15 174.8,75.2 C174.97,78.25 176.32,82.32 177.85,85.37 C179.37,88.41 182.76,90.45 183.94,93.5 C185.13,96.54 185.81,100.95 184.96,103.66 C184.11,106.37 183.27,108.06 178.86,109.76 C174.46,111.45 164.63,113.48 158.54,113.82 C152.44,114.16 147.7,111.96 142.28,111.79 C136.86,111.62 131.78,111.79 126.02,112.8 C120.26,113.82 113.82,116.36 107.72,117.89 C101.63,119.41 95.53,121.61 89.43,121.95 C83.33,122.29 76.9,120.77 71.14,119.92 C65.38,119.07 58.94,117.89 54.88,116.87 C50.81,115.85 50.81,116.7 46.75,113.82 C42.68,110.94 34.89,104 30.49,99.59 C26.08,95.19 23.04,91.46 20.33,87.4 C17.62,83.33 15.24,79.95 14.23,75.2 C13.21,70.46 12.2,62.84 14.23,58.94Z" fill="none" stroke="#fff" stroke-width="2.3" stroke-dasharray="8 5"/>
<circle cx="45" cy="12" r="1" fill="#fff"/>
<circle cx="10" cy="28" r="1" fill="#fff"/>
<circle cx="31" cy="30" r="1" fill="#fff"/>
<circle cx="58" cy="32" r="1.2" fill="#fff"/>
<circle cx="40" cy="43" r="1" fill="#fff"/>
<circle cx="62" cy="52" r="1.2" fill="#fff"/>
<circle cx="27" cy="61" r="1" fill="#fff"/>
<circle cx="166" cy="55" r="1.1" fill="#fff"/>
<circle cx="156" cy="64" r="1.1" fill="#fff"/>
<circle cx="174" cy="72" r="1.2" fill="#fff"/>
<circle cx="137" cy="80" r="1.1" fill="#fff"/>
<circle cx="170" cy="80" r="1.2" fill="#fff"/>
<circle cx="179" cy="98" r="1.2" fill="#fff"/>
<circle cx="156" cy="106" r="1.2" fill="#fff"/>
<circle cx="162" cy="133" r="1" fill="#fff"/>
<text x="3" y="154.8" font-size="24" fill="#fff">15:50</text>
</g></g>
<g transform="translate(682,258.3)"><g clip-path="url(#c8)">
<rect x="0" y="0" width="196" height="157.2" fill="#4a4a4a"/>
<ellipse cx="20" cy="130" rx="25" ry="25" fill="#595959" filter="url(#bl16)"/>
<ellipse cx="72" cy="51" rx="35" ry="18" fill="#121212" filter="url(#bl6)"/>
<ellipse cx="88" cy="12" rx="15" ry="15" fill="#1e1e1e" filter="url(#bl6)"/>
<ellipse cx="119" cy="10" rx="12" ry="12" fill="#222" filter="url(#bl6)"/>
<ellipse cx="119" cy="38" rx="12" ry="15" fill="#222" filter="url(#bl6)"/>
<ellipse cx="145" cy="145" rx="45" ry="18" fill="#1e1e1e" filter="url(#bl10)"/>
<ellipse cx="190" cy="57" rx="10" ry="16" fill="#2c2c2c" filter="url(#bl8)"/>
<path d="M11.38,30.49 C13.75,27.44 18.16,24.73 23.58,22.36 C29,19.99 37.8,16.6 43.9,16.26 C50,15.92 54.4,18.97 60.16,20.33 C65.92,21.68 72.02,23.04 78.46,24.39 C84.89,25.75 94.04,26.76 98.78,28.46 C103.52,30.15 104.88,31.84 106.91,34.55 C108.94,37.26 108.27,41.33 110.98,44.72 C113.69,48.1 119.11,51.15 123.17,54.88 C127.24,58.6 131.3,63.01 135.37,67.07 C139.43,71.14 143.16,75.54 147.56,79.27 C151.96,82.99 157.38,86.38 161.79,89.43 C166.19,92.48 170.6,94.85 173.98,97.56 C177.37,100.27 181.1,101.96 182.11,105.69 C183.13,109.42 182.11,116.53 180.08,119.92 C178.05,123.31 173.98,125.34 169.92,126.02 C165.85,126.69 160.43,125 155.69,123.98 C150.95,122.97 146.88,121.61 141.46,119.92 C136.04,118.22 129.61,114.5 123.17,113.82 C116.73,113.14 109.62,114.5 102.85,115.85 C96.07,117.21 89.3,119.92 82.52,121.95 C75.75,123.98 68.97,127.37 62.2,128.05 C55.42,128.73 48.64,128.39 41.87,126.02 C35.09,123.64 26.63,117.21 21.54,113.82 C16.46,110.43 14.43,109.42 11.38,105.69 C8.33,101.96 4.78,96.21 3.25,91.46 C1.73,86.72 1.9,81.3 2.24,77.24 C2.57,73.17 3.76,71.14 5.28,67.07 C6.81,63.01 10.7,57.25 11.38,52.85 C12.06,48.44 9.35,44.38 9.35,40.65 C9.35,36.92 9.01,33.54 11.38,30.49Z" fill="none" stroke="#fff" stroke-width="2.3" stroke-dasharray="8 5"/>
<circle cx="16" cy="11" r="1" fill="#fff"/>
<circle cx="33" cy="9" r="1" fill="#fff"/>
<circle cx="95" cy="31" r="1.2" fill="#fff"/>
<circle cx="99" cy="36" r="1.2" fill="#fff"/>
<circle cx="119" cy="61" r="1.2" fill="#fff"/>
<circle cx="120" cy="71" r="1.2" fill="#fff"/>
<circle cx="132" cy="70" r="1.2" fill="#fff"/>
<circle cx="11" cy="85" r="1" fill="#fff"/>
<circle cx="147" cy="108" r="1.2" fill="#fff"/>
<circle cx="152" cy="113" r="1.3" fill="#fff"/>
<circle cx="165" cy="113" r="1.3" fill="#fff"/>
<text x="2.5" y="154.8" font-size="24" fill="#fff">17:30</text>
</g></g>
<text x="923.5" y="23.5" font-size="34" fill="#231f20" font-weight="bold" stroke="#231f20" stroke-width="0.9">b</text>
<line x1="1031.8" y1="59.5" x2="1031.8" y2="192" stroke="#231f20" stroke-width="1.4" />
<line x1="1031.8" y1="210.4" x2="1031.8" y2="343.2" stroke="#231f20" stroke-width="1.4" />
<line x1="1025.5" y1="187.3" x2="1037.8" y2="199.4" stroke="#231f20" stroke-width="1.4" />
<line x1="1025.5" y1="204.1" x2="1037.8" y2="216.2" stroke="#231f20" stroke-width="1.4" />
<line x1="1015.2" y1="59.5" x2="1031.8" y2="59.5" stroke="#231f20" stroke-width="1.4" />
<text x="1002.5" y="68.45" font-size="25" fill="#231f20" text-anchor="end">70</text>
<line x1="1015.2" y1="87.33" x2="1031.8" y2="87.33" stroke="#231f20" stroke-width="1.4" />
<line x1="1015.2" y1="115.15" x2="1031.8" y2="115.15" stroke="#231f20" stroke-width="1.4" />
<text x="1002.5" y="124.1" font-size="25" fill="#231f20" text-anchor="end">50</text>
<line x1="1015.2" y1="142.98" x2="1031.8" y2="142.98" stroke="#231f20" stroke-width="1.4" />
<line x1="1015.2" y1="170.8" x2="1031.8" y2="170.8" stroke="#231f20" stroke-width="1.4" />
<text x="1002.5" y="179.75" font-size="25" fill="#231f20" text-anchor="end">30</text>
<line x1="1015.2" y1="342.5" x2="1031.8" y2="342.5" stroke="#231f20" stroke-width="1.4" />
<text x="1002.5" y="351.45" font-size="25" fill="#231f20" text-anchor="end">0</text>
<line x1="1026.3" y1="336.48" x2="1031.8" y2="336.48" stroke="#231f20" stroke-width="1.4" />
<line x1="1026.3" y1="330.46" x2="1031.8" y2="330.46" stroke="#231f20" stroke-width="1.4" />
<line x1="1022" y1="324.44" x2="1031.8" y2="324.44" stroke="#231f20" stroke-width="1.4" />
<line x1="1026.3" y1="318.42" x2="1031.8" y2="318.42" stroke="#231f20" stroke-width="1.4" />
<line x1="1026.3" y1="312.4" x2="1031.8" y2="312.4" stroke="#231f20" stroke-width="1.4" />
<line x1="1015.2" y1="306.38" x2="1031.8" y2="306.38" stroke="#231f20" stroke-width="1.4" />
<text x="1002.5" y="315.33" font-size="25" fill="#231f20" text-anchor="end">6</text>
<line x1="1026.3" y1="300.36" x2="1031.8" y2="300.36" stroke="#231f20" stroke-width="1.4" />
<line x1="1026.3" y1="294.34" x2="1031.8" y2="294.34" stroke="#231f20" stroke-width="1.4" />
<line x1="1022" y1="288.32" x2="1031.8" y2="288.32" stroke="#231f20" stroke-width="1.4" />
<line x1="1026.3" y1="282.3" x2="1031.8" y2="282.3" stroke="#231f20" stroke-width="1.4" />
<line x1="1026.3" y1="276.28" x2="1031.8" y2="276.28" stroke="#231f20" stroke-width="1.4" />
<line x1="1015.2" y1="270.26" x2="1031.8" y2="270.26" stroke="#231f20" stroke-width="1.4" />
<text x="1002.5" y="279.21" font-size="25" fill="#231f20" text-anchor="end">12</text>
<line x1="1026.3" y1="264.24" x2="1031.8" y2="264.24" stroke="#231f20" stroke-width="1.4" />
<line x1="1026.3" y1="258.22" x2="1031.8" y2="258.22" stroke="#231f20" stroke-width="1.4" />
<line x1="1022" y1="252.2" x2="1031.8" y2="252.2" stroke="#231f20" stroke-width="1.4" />
<line x1="1026.3" y1="246.18" x2="1031.8" y2="246.18" stroke="#231f20" stroke-width="1.4" />
<line x1="1026.3" y1="240.16" x2="1031.8" y2="240.16" stroke="#231f20" stroke-width="1.4" />
<line x1="1015.2" y1="234.14" x2="1031.8" y2="234.14" stroke="#231f20" stroke-width="1.4" />
<text x="1002.5" y="243.09" font-size="25" fill="#231f20" text-anchor="end">18</text>
<line x1="1026.3" y1="228.12" x2="1031.8" y2="228.12" stroke="#231f20" stroke-width="1.4" />
<line x1="1026.3" y1="222.1" x2="1031.8" y2="222.1" stroke="#231f20" stroke-width="1.4" />
<line x1="1022" y1="216.08" x2="1031.8" y2="216.08" stroke="#231f20" stroke-width="1.4" />
<line x1="1015.5" y1="342.5" x2="1315.5" y2="342.5" stroke="#231f20" stroke-width="1.4" />
<line x1="1031.8" y1="342.5" x2="1031.8" y2="352" stroke="#231f20" stroke-width="1.4" />
<text x="1031.8" y="381" font-size="25" fill="#231f20" text-anchor="middle">0</text>
<line x1="1060.12" y1="342.5" x2="1060.12" y2="352" stroke="#231f20" stroke-width="1.4" />
<line x1="1088.44" y1="342.5" x2="1088.44" y2="352" stroke="#231f20" stroke-width="1.4" />
<text x="1088.44" y="381" font-size="25" fill="#231f20" text-anchor="middle">4</text>
<line x1="1116.76" y1="342.5" x2="1116.76" y2="352" stroke="#231f20" stroke-width="1.4" />
<line x1="1145.08" y1="342.5" x2="1145.08" y2="352" stroke="#231f20" stroke-width="1.4" />
<text x="1145.08" y="381" font-size="25" fill="#231f20" text-anchor="middle">8</text>
<line x1="1173.4" y1="342.5" x2="1173.4" y2="352" stroke="#231f20" stroke-width="1.4" />
<line x1="1201.72" y1="342.5" x2="1201.72" y2="352" stroke="#231f20" stroke-width="1.4" />
<text x="1201.72" y="381" font-size="25" fill="#231f20" text-anchor="middle">12</text>
<line x1="1230.04" y1="342.5" x2="1230.04" y2="352" stroke="#231f20" stroke-width="1.4" />
<line x1="1258.36" y1="342.5" x2="1258.36" y2="352" stroke="#231f20" stroke-width="1.4" />
<text x="1258.36" y="381" font-size="25" fill="#231f20" text-anchor="middle">16</text>
<line x1="1286.68" y1="342.5" x2="1286.68" y2="352" stroke="#231f20" stroke-width="1.4" />
<line x1="1315" y1="342.5" x2="1315" y2="352" stroke="#231f20" stroke-width="1.4" />
<text x="1315" y="381" font-size="25" fill="#231f20" text-anchor="middle">20</text>
<text x="1172.5" y="422.5" font-size="25" fill="#231f20" text-anchor="middle">Time (hpi)</text>
<text transform="translate(957.5,201) rotate(-90)" x="0" y="0" font-size="25" fill="#231f20" text-anchor="middle">P<tspan dy="-10" font-size="17">exo</tspan><tspan dy="10"> foci number</tspan></text>
<line x1="1042.5" y1="77.5" x2="1068" y2="77.5" stroke="#0e72b6" stroke-width="4" />
<text x="1082.5" y="86.2" font-size="25" fill="#231f20">Successful</text>
<line x1="1042.5" y1="113.3" x2="1068" y2="113.3" stroke="#e62434" stroke-width="4" />
<text x="1082.5" y="121.8" font-size="25" fill="#231f20">Stalled</text>
<polyline points="1031.75,338.75 1034.5,330 1036.25,300 1050,300 1052.5,294.5 1065,294.5 1067.5,288.75 1300,288.75" stroke="#e62434" stroke-width="4.2" fill="none" stroke-linejoin="miter" stroke-linecap="butt" />
<polyline points="1031.75,335 1037,304.5 1178.75,304.5 1182.5,311.25 1195,311.25 1196.25,322.5 1197.5,328 1201.25,328.75 1203.75,333.75 1252.5,333.75 1255,322.5 1262.5,305 1265.5,305 1268.75,287.5 1272.5,257.5 1275,287.5 1277,240 1278,207.5" stroke="#0e72b6" stroke-width="4.2" fill="none" stroke-linejoin="miter" stroke-linecap="butt" />
<polyline points="1278,190.5 1282.5,172.5 1285,167 1286.75,180.5 1289.25,160 1294.25,115" stroke="#0e72b6" stroke-width="4.2" fill="none" stroke-linejoin="miter" stroke-linecap="butt" />
<polyline points="1294.25,115 1300,63" stroke="#0e72b6" stroke-width="4.2" fill="none" stroke-linejoin="miter" stroke-linecap="butt" stroke-dasharray="9 6" />
<text x="1358" y="23.7" font-size="34" fill="#231f20" font-weight="bold" stroke="#231f20" stroke-width="0.9">c</text>
<rect x="1395" y="11.5" width="27.5" height="27" fill="#0e72b6" stroke="#111" stroke-width="1.2" />
<text x="1431.5" y="33.4" font-size="25" fill="#231f20">Successful</text>
<rect x="1571.5" y="11.5" width="27.5" height="27" fill="#e62434" stroke="#111" stroke-width="1.2" />
<text x="1608.4" y="33.4" font-size="25" fill="#231f20">Stalled</text>
<line x1="1455.4" y1="60.5" x2="1455.4" y2="342.9" stroke="#231f20" stroke-width="1.4" />
<line x1="1445.7" y1="342.9" x2="1455.4" y2="342.9" stroke="#231f20" stroke-width="1.4" />
<text x="1434.9" y="351.85" font-size="25" fill="#231f20" text-anchor="end">0</text>
<line x1="1445.7" y1="314.65" x2="1455.4" y2="314.65" stroke="#231f20" stroke-width="1.4" />
<line x1="1445.7" y1="286.41" x2="1455.4" y2="286.41" stroke="#231f20" stroke-width="1.4" />
<text x="1434.9" y="295.36" font-size="25" fill="#231f20" text-anchor="end">20</text>
<line x1="1445.7" y1="258.16" x2="1455.4" y2="258.16" stroke="#231f20" stroke-width="1.4" />
<line x1="1445.7" y1="229.92" x2="1455.4" y2="229.92" stroke="#231f20" stroke-width="1.4" />
<text x="1434.9" y="238.87" font-size="25" fill="#231f20" text-anchor="end">40</text>
<line x1="1445.7" y1="201.67" x2="1455.4" y2="201.67" stroke="#231f20" stroke-width="1.4" />
<line x1="1445.7" y1="173.43" x2="1455.4" y2="173.43" stroke="#231f20" stroke-width="1.4" />
<text x="1434.9" y="182.38" font-size="25" fill="#231f20" text-anchor="end">60</text>
<line x1="1445.7" y1="145.18" x2="1455.4" y2="145.18" stroke="#231f20" stroke-width="1.4" />
<line x1="1445.7" y1="116.94" x2="1455.4" y2="116.94" stroke="#231f20" stroke-width="1.4" />
<text x="1434.9" y="125.89" font-size="25" fill="#231f20" text-anchor="end">80</text>
<line x1="1445.7" y1="88.69" x2="1455.4" y2="88.69" stroke="#231f20" stroke-width="1.4" />
<line x1="1445.7" y1="60.45" x2="1455.4" y2="60.45" stroke="#231f20" stroke-width="1.4" />
<text x="1434.9" y="69.4" font-size="25" fill="#231f20" text-anchor="end">100</text>
<rect x="1463.6" y="60.5" width="45.8" height="123.1" fill="#0e72b6" stroke="#111" stroke-width="1.2" />
<rect x="1463.6" y="183.6" width="45.8" height="159.3" fill="#e62434" stroke="#111" stroke-width="1.2" />
<line x1="1486.5" y1="61.4" x2="1486.5" y2="82.4" stroke="#231f20" stroke-width="1.3" />
<line x1="1477" y1="82.4" x2="1496.3" y2="82.4" stroke="#231f20" stroke-width="1.3" />
<line x1="1486.5" y1="183.6" x2="1486.5" y2="204.4" stroke="#231f20" stroke-width="1.3" />
<line x1="1476.2" y1="204.4" x2="1496" y2="204.4" stroke="#231f20" stroke-width="1.3" />
<line x1="1445.7" y1="342.9" x2="1523.4" y2="342.9" stroke="#231f20" stroke-width="1.4" />
<line x1="1486.8" y1="342.9" x2="1486.8" y2="352" stroke="#231f20" stroke-width="1.4" />
<text x="1485" y="384" font-size="25" fill="#231f20" text-anchor="middle">MOI 0.1</text>
<text transform="translate(1377,203) rotate(-90)" x="0" y="0" font-size="25" fill="#231f20" text-anchor="middle">Infected cells (%)</text>
<text x="1747.9" y="23.7" font-size="34" fill="#231f20" font-weight="bold" stroke="#231f20" stroke-width="0.9">d</text>
<polygon points="1847.96,315.52 1859.7,308.29 1866.48,304.91 1875.51,300.39 1884.55,297.68 1893.58,294.74 1918.43,294.74 1925.2,291.35 1936.49,287.97 1947.79,283.45 1968.11,281.87 1972.63,273.29 1981.67,269.9 1990.7,257.48 2001.99,252.96 2013.29,247.31 2024.58,243.92 2031.35,234.89 2044.91,229.24 2047.16,213.43 2056.2,204.4 2065.23,202.14 2074.27,189.72 2082.17,186.33 2094.59,173.91 2105.89,162.62 2128.92,162.62 2128.92,217.95 2105.89,217.95 2094.59,225.86 2082.17,234.89 2074.27,237.15 2065.23,241.67 2056.2,243.92 2047.16,252.96 2044.91,263.12 2031.35,266.51 2024.58,271.03 2013.29,274.42 2001.99,281.19 1990.7,286.84 1981.67,292.48 1972.63,294.74 1968.11,302.65 1947.79,303.78 1936.49,306.03 1925.2,308.29 1918.43,309.87 1893.58,309.42 1884.55,311.23 1875.51,313.49 1866.48,315.52 1859.7,315.52 1847.96,315.52" fill="#d1d3d4" />
<rect x="1848" y="59.85" width="280.9" height="280.05" fill="none" stroke="#231f20" stroke-width="1.4" />
<line x1="1838.2" y1="315.5" x2="1848" y2="315.5" stroke="#231f20" stroke-width="1.4" />
<text x="1825.8" y="324.45" font-size="25" fill="#231f20" text-anchor="end">0</text>
<line x1="1838.2" y1="289.94" x2="1848" y2="289.94" stroke="#231f20" stroke-width="1.4" />
<line x1="1838.2" y1="264.37" x2="1848" y2="264.37" stroke="#231f20" stroke-width="1.4" />
<text x="1825.8" y="273.32" font-size="25" fill="#231f20" text-anchor="end">20</text>
<line x1="1838.2" y1="238.81" x2="1848" y2="238.81" stroke="#231f20" stroke-width="1.4" />
<line x1="1838.2" y1="213.24" x2="1848" y2="213.24" stroke="#231f20" stroke-width="1.4" />
<text x="1825.8" y="222.19" font-size="25" fill="#231f20" text-anchor="end">40</text>
<line x1="1838.2" y1="187.67" x2="1848" y2="187.67" stroke="#231f20" stroke-width="1.4" />
<line x1="1838.2" y1="162.11" x2="1848" y2="162.11" stroke="#231f20" stroke-width="1.4" />
<text x="1825.8" y="171.06" font-size="25" fill="#231f20" text-anchor="end">60</text>
<line x1="1838.2" y1="136.54" x2="1848" y2="136.54" stroke="#231f20" stroke-width="1.4" />
<line x1="1838.2" y1="110.98" x2="1848" y2="110.98" stroke="#231f20" stroke-width="1.4" />
<text x="1825.8" y="119.93" font-size="25" fill="#231f20" text-anchor="end">80</text>
<line x1="1838.2" y1="85.41" x2="1848" y2="85.41" stroke="#231f20" stroke-width="1.4" />
<line x1="1838.2" y1="59.85" x2="1848" y2="59.85" stroke="#231f20" stroke-width="1.4" />
<text x="1825.8" y="68.8" font-size="25" fill="#231f20" text-anchor="end">100</text>
<line x1="1848" y1="339.9" x2="1848" y2="350" stroke="#231f20" stroke-width="1.4" />
<text x="1848" y="379.4" font-size="25" fill="#231f20" text-anchor="middle">0</text>
<line x1="1871.08" y1="339.9" x2="1871.08" y2="350" stroke="#231f20" stroke-width="1.4" />
<line x1="1894.16" y1="339.9" x2="1894.16" y2="350" stroke="#231f20" stroke-width="1.4" />
<text x="1894.16" y="379.4" font-size="25" fill="#231f20" text-anchor="middle">4</text>
<line x1="1917.24" y1="339.9" x2="1917.24" y2="350" stroke="#231f20" stroke-width="1.4" />
<line x1="1940.32" y1="339.9" x2="1940.32" y2="350" stroke="#231f20" stroke-width="1.4" />
<text x="1940.32" y="379.4" font-size="25" fill="#231f20" text-anchor="middle">8</text>
<line x1="1963.4" y1="339.9" x2="1963.4" y2="350" stroke="#231f20" stroke-width="1.4" />
<line x1="1986.48" y1="339.9" x2="1986.48" y2="350" stroke="#231f20" stroke-width="1.4" />
<text x="1986.48" y="379.4" font-size="25" fill="#231f20" text-anchor="middle">12</text>
<line x1="2009.56" y1="339.9" x2="2009.56" y2="350" stroke="#231f20" stroke-width="1.4" />
<line x1="2032.64" y1="339.9" x2="2032.64" y2="350" stroke="#231f20" stroke-width="1.4" />
<text x="2032.64" y="379.4" font-size="25" fill="#231f20" text-anchor="middle">16</text>
<line x1="2055.72" y1="339.9" x2="2055.72" y2="350" stroke="#231f20" stroke-width="1.4" />
<line x1="2078.8" y1="339.9" x2="2078.8" y2="350" stroke="#231f20" stroke-width="1.4" />
<text x="2078.8" y="379.4" font-size="25" fill="#231f20" text-anchor="middle">20</text>
<line x1="2101.88" y1="339.9" x2="2101.88" y2="350" stroke="#231f20" stroke-width="1.4" />
<line x1="2124.96" y1="339.9" x2="2124.96" y2="350" stroke="#231f20" stroke-width="1.4" />
<text x="2124.96" y="379.4" font-size="25" fill="#231f20" text-anchor="middle">24</text>
<polyline points="1847.96,315.52 1859.7,315.52 1859.7,315.52 1859.7,315.52 1859.7,314.39 1866.48,314.39 1866.48,314.39 1867.61,314.39 1867.61,313.26 1871,313.26 1871,312.81 1873.26,312.81 1873.26,309.87 1876.64,309.87 1876.64,308.52 1880.03,308.52 1880.03,307.16 1884.55,307.16 1884.55,306.26 1889.06,306.26 1889.06,305.36 1891.78,305.36 1891.78,303.1 1918.43,303.1 1918.43,303.1 1919.56,303.1 1919.56,301.97 1927.46,301.97 1927.46,300.84 1931.98,300.84 1931.98,299.94 1936.49,299.94 1936.49,298.58 1941.01,298.58 1941.01,297.68 1944.4,297.68 1944.4,296.32 1947.79,296.32 1947.79,294.74 1950.05,294.74 1950.05,293.61 1968.11,293.61 1968.11,293.61 1972.18,293.61 1972.18,285.03 1977.15,285.03 1977.15,284.13 1982.8,284.13 1982.8,281.87 1987.31,281.87 1987.31,280.06 1990.25,280.06 1990.25,273.29 1997.48,273.29 1997.48,271.03 2001.99,271.03 2001.99,268.77 2006.51,268.77 2006.51,264.25 2011.03,264.25 2011.03,263.12 2016,263.12 2016,259.73 2025.03,259.73 2025.03,258.61 2029.55,258.61 2029.55,254.77 2033.61,254.77 2033.61,250.7 2038.13,250.7 2038.13,248.44 2044.91,248.44 2044.91,248.44 2047.16,248.44 2047.16,234.89 2051.68,234.89 2051.68,232.63 2056.2,232.63 2056.2,226.99 2060.72,226.99 2060.72,225.86 2065.23,225.86 2065.23,223.6 2072.01,223.6 2072.01,223.6 2073.82,223.6 2073.82,214.56 2078.78,214.56 2078.78,213.43 2083.3,213.43 2083.3,211.18 2092.34,211.18 2092.34,210.05 2095.05,210.05 2095.05,201.01 2101.37,201.01 2101.37,199.88 2105.43,199.88 2105.43,191.98 2128.92,191.98 2128.92,191.98" stroke="#111" stroke-width="3" fill="none" stroke-linejoin="miter" stroke-linecap="butt" />
<line x1="1848" y1="315.5" x2="2128.9" y2="315.5" stroke="#e62434" stroke-width="3.5" />
<text x="1988.4" y="416.5" font-size="25" fill="#231f20" text-anchor="middle">Time to vRNP fusion (hpi)</text>
<text transform="translate(1767.7,200.4) rotate(-90)" x="0" y="0" font-size="25" fill="#231f20" text-anchor="middle">Infected cells (%)</text>
<line x1="1854" y1="84.7" x2="1880" y2="84.7" stroke="#111" stroke-width="4" />
<text x="1893.6" y="92.6" font-size="25" fill="#231f20">RSV</text>
<line x1="1853" y1="115.9" x2="1881" y2="115.9" stroke="#e62434" stroke-width="4" />
<text x="1893.6" y="124" font-size="25" fill="#231f20">RSV + PC786</text>
<text x="2124" y="158" font-size="25" fill="#808285" text-anchor="end"><tspan font-style="italic">n</tspan> = 225</text>
<text x="2124" y="308.3" font-size="25" fill="#e62434" text-anchor="end"><tspan font-style="italic">n</tspan> = 225</text>
<text x="0" y="494.2" font-size="34" fill="#231f20" font-weight="bold" stroke="#231f20" stroke-width="0.9">e</text>
<line x1="101.3" y1="527.1" x2="146.8" y2="527.1" stroke="#111" stroke-width="3.5" />
<text x="160.2" y="535.7" font-size="25" fill="#231f20">From infection start</text>
<line x1="101.3" y1="563.8" x2="146.8" y2="563.8" stroke="#111" stroke-width="3.5" stroke-dasharray="8 5"/>
<text x="160.2" y="572.4" font-size="25" fill="#231f20">From vRNP fusion</text>
<polygon points="102.05,869.74 117.86,854.47 123.22,846.43 128.57,835.72 133.93,825 139.29,808.93 144.64,787.5 147.32,766.07 154.02,739.29 163.39,720.54 164.73,695.09 175.45,680.36 176.79,668.31 184.82,653.57 195.54,653.57 198.22,641.52 206.25,632.14 214.29,622.77 222.32,600 231.7,591.97 244.29,589.82 244.29,589.82 243.75,634.82 231.7,649.56 222.32,661.61 214.29,679.02 206.25,685.72 198.22,699.11 195.54,705.81 184.82,707.15 176.79,717.86 175.45,731.25 164.73,745.98 164.73,779.47 158.04,795.54 150,819.65 144.64,835.72 139.29,849.11 133.93,859.83 128.57,865.18 123.22,869.74 117.86,869.74 102.05,869.74" fill="#d1d3d4" />
<polygon points="102.05,869.74 148.66,855.81 176.79,849.11 187.5,835.72 203.57,822.32 219.64,807.59 230.36,784.82 241.07,774.11 251.79,747.32 267.86,704.47 283.93,685.72 294.65,672.32 305.36,652.23 321.43,632.14 332.15,624.11 348.22,621.43 353.57,606.7 361.61,595.98 376.34,595.98 376.34,589.29 376.34,589.29 376.34,645.54 361.61,648.22 353.57,653.57 348.22,658.93 332.15,664.29 321.43,680.36 305.36,701.79 294.65,720.54 283.93,739.29 267.86,755.36 251.79,790.18 241.07,808.93 230.36,827.68 219.64,838.4 203.57,849.11 187.5,858.49 176.79,869.74 148.66,869.74 102.05,869.74" fill="#d1d3d4" />
<polyline points="102.05,869.74 117.86,869.74 117.86,869.74 121.88,869.74 121.88,866.52 125.89,866.52 125.89,858.49 131.25,858.49 131.25,849.11 133.93,849.11 133.93,839.74 137.95,839.74 137.95,830.36 140.63,830.36 140.63,818.31 143.3,818.31 143.3,806.25 145.98,806.25 145.98,796.88 148.66,796.88 148.66,784.82 152.68,784.82 152.68,766.07 158.04,766.07 158.04,755.36 160.72,755.36 160.72,744.65 163.39,744.65 163.39,733.93 164.73,733.93 164.73,723.22 171.43,723.22 171.43,711.16 175.45,711.16 175.45,696.43 177.32,696.43 177.32,692.41 183.48,692.41 183.48,691.07 184.82,691.07 184.82,680.36 187.5,680.36 187.5,679.02 196.88,679.02 196.88,679.02 198.22,679.02 198.22,670.98 203.57,670.98 203.57,664.29 204.91,664.29 204.91,657.59 211.61,657.59 211.61,656.25 214.29,656.25 214.29,648.22 220.98,648.22 220.98,646.88 222.32,646.88 222.32,634.82 225,634.82 225,625.45 230.36,625.45 230.36,624.11 231.7,624.11 231.7,610.72 231.7,610.72 231.7,601.34 235.72,601.34 235.72,600 243.75,600 243.75,600 244.29,600 244.29,589.82" stroke="#222" stroke-width="3.5" fill="none" stroke-linejoin="miter" stroke-linecap="butt" stroke-dasharray="7 4" />
<polyline points="102.05,869.74 148.66,869.74 148.66,869.74 154.02,869.74 154.02,866.52 155.36,866.52 155.36,862.5 176.79,862.5 176.79,862.5 179.47,862.5 179.47,857.15 184.82,857.15 184.82,851.79 190.18,851.79 190.18,847.77 192.86,847.77 192.86,843.75 196.88,843.75 196.88,838.4 203.57,838.4 203.57,835.72 206.25,835.72 206.25,830.36 214.29,830.36 214.29,830.36 215.63,830.36 215.63,823.66 219.64,823.66 219.64,820.99 225,820.99 225,818.31 227.68,818.31 227.68,808.93 233.04,808.93 233.04,800.9 238.39,800.9 238.39,792.86 242.41,792.86 242.41,787.5 246.43,787.5 246.43,779.47 250.45,779.47 250.45,771.43 251.79,771.43 251.79,764.73 255.81,764.73 255.81,758.04 259.82,758.04 259.82,750 262.5,750 262.5,739.29 265.18,739.29 265.18,731.25 270.54,731.25 270.54,728.57 274.56,728.57 274.56,723.22 278.57,723.22 278.57,720.54 282.59,720.54 282.59,715.18 287.95,715.18 287.95,711.16 289.29,711.16 289.29,700.45 293.31,700.45 293.31,695.09 294.65,695.09 294.65,689.73 297.32,689.73 297.32,684.38 302.68,684.38 302.68,676.34 310.72,676.34 310.72,676.34 313.4,676.34 313.4,669.64 317.41,669.64 317.41,664.29 321.43,664.29 321.43,658.93 324.11,658.93 324.11,650.89 326.79,650.89 326.79,645.54 332.15,645.54 332.15,645.54 333.49,645.54 333.49,640.18 348.22,640.18 348.22,640.18 350.9,640.18 350.9,632.14 353.57,632.14 353.57,626.79 360.27,626.79 360.27,625.45 361.61,625.45 361.61,613.39 376.34,613.39 376.34,613.39 376.34,613.39 376.34,589.29" stroke="#111" stroke-width="3.5" fill="none" stroke-linejoin="miter" stroke-linecap="butt" />
<rect x="102.1" y="588.75" width="281.7" height="280.95" fill="none" stroke="#231f20" stroke-width="1.4" />
<line x1="93.2" y1="869.7" x2="102.1" y2="869.7" stroke="#231f20" stroke-width="1.4" />
<text x="80.4" y="878.65" font-size="25" fill="#231f20" text-anchor="end">0</text>
<line x1="93.2" y1="841.61" x2="102.1" y2="841.61" stroke="#231f20" stroke-width="1.4" />
<line x1="93.2" y1="813.51" x2="102.1" y2="813.51" stroke="#231f20" stroke-width="1.4" />
<text x="80.4" y="822.46" font-size="25" fill="#231f20" text-anchor="end">20</text>
<line x1="93.2" y1="785.42" x2="102.1" y2="785.42" stroke="#231f20" stroke-width="1.4" />
<line x1="93.2" y1="757.32" x2="102.1" y2="757.32" stroke="#231f20" stroke-width="1.4" />
<text x="80.4" y="766.27" font-size="25" fill="#231f20" text-anchor="end">40</text>
<line x1="93.2" y1="729.23" x2="102.1" y2="729.23" stroke="#231f20" stroke-width="1.4" />
<line x1="93.2" y1="701.13" x2="102.1" y2="701.13" stroke="#231f20" stroke-width="1.4" />
<text x="80.4" y="710.08" font-size="25" fill="#231f20" text-anchor="end">60</text>
<line x1="93.2" y1="673.04" x2="102.1" y2="673.04" stroke="#231f20" stroke-width="1.4" />
<line x1="93.2" y1="644.94" x2="102.1" y2="644.94" stroke="#231f20" stroke-width="1.4" />
<text x="80.4" y="653.89" font-size="25" fill="#231f20" text-anchor="end">80</text>
<line x1="93.2" y1="616.85" x2="102.1" y2="616.85" stroke="#231f20" stroke-width="1.4" />
<line x1="93.2" y1="588.75" x2="102.1" y2="588.75" stroke="#231f20" stroke-width="1.4" />
<text x="80.4" y="597.7" font-size="25" fill="#231f20" text-anchor="end">100</text>
<line x1="102.6" y1="869.7" x2="102.6" y2="879.4" stroke="#231f20" stroke-width="1.4" />
<text x="102.6" y="910.7" font-size="25" fill="#231f20" text-anchor="middle">0</text>
<line x1="126.04" y1="869.7" x2="126.04" y2="879.4" stroke="#231f20" stroke-width="1.4" />
<line x1="149.48" y1="869.7" x2="149.48" y2="879.4" stroke="#231f20" stroke-width="1.4" />
<text x="149.48" y="910.7" font-size="25" fill="#231f20" text-anchor="middle">4</text>
<line x1="172.92" y1="869.7" x2="172.92" y2="879.4" stroke="#231f20" stroke-width="1.4" />
<line x1="196.36" y1="869.7" x2="196.36" y2="879.4" stroke="#231f20" stroke-width="1.4" />
<text x="196.36" y="910.7" font-size="25" fill="#231f20" text-anchor="middle">8</text>
<line x1="219.8" y1="869.7" x2="219.8" y2="879.4" stroke="#231f20" stroke-width="1.4" />
<line x1="243.24" y1="869.7" x2="243.24" y2="879.4" stroke="#231f20" stroke-width="1.4" />
<text x="243.24" y="910.7" font-size="25" fill="#231f20" text-anchor="middle">12</text>
<line x1="266.68" y1="869.7" x2="266.68" y2="879.4" stroke="#231f20" stroke-width="1.4" />
<line x1="290.12" y1="869.7" x2="290.12" y2="879.4" stroke="#231f20" stroke-width="1.4" />
<text x="290.12" y="910.7" font-size="25" fill="#231f20" text-anchor="middle">16</text>
<line x1="313.56" y1="869.7" x2="313.56" y2="879.4" stroke="#231f20" stroke-width="1.4" />
<line x1="337" y1="869.7" x2="337" y2="879.4" stroke="#231f20" stroke-width="1.4" />
<text x="337" y="910.7" font-size="25" fill="#231f20" text-anchor="middle">20</text>
<line x1="360.44" y1="869.7" x2="360.44" y2="879.4" stroke="#231f20" stroke-width="1.4" />
<line x1="383.88" y1="869.7" x2="383.88" y2="879.4" stroke="#231f20" stroke-width="1.4" />
<text x="383.88" y="910.7" font-size="25" fill="#231f20" text-anchor="middle">24</text>
<text x="242.5" y="949" font-size="25" fill="#231f20" text-anchor="middle">Time to replication (hpi)</text>
<text x="373.7" y="855.8" font-size="25" fill="#231f20" text-anchor="end"><tspan font-style="italic">n</tspan> = 141</text>
<text transform="translate(19.5,730) rotate(-90)" x="0" y="0" font-size="25" fill="#231f20" text-anchor="middle">Infected cells (%)</text>
<text x="458" y="494.2" font-size="34" fill="#231f20" font-weight="bold" stroke="#231f20" stroke-width="0.9">f</text>
<text x="592" y="552.3" font-size="25" fill="#231f20">Point of fixation</text>
<line x1="785" y1="529.8" x2="785" y2="548.6" stroke="#e62434" stroke-width="1.8" />
<polygon points="779.5,543.6 785,547.6 790.5,543.6 785,556.6" fill="#e62434" />
<line x1="539" y1="571.1" x2="539" y2="702.1" stroke="#231f20" stroke-width="1.4" />
<line x1="539" y1="720.5" x2="539" y2="852.5" stroke="#231f20" stroke-width="1.4" />
<line x1="532.7" y1="697.4" x2="545" y2="709.5" stroke="#231f20" stroke-width="1.4" />
<line x1="532.7" y1="714.2" x2="545" y2="726.3" stroke="#231f20" stroke-width="1.4" />
<line x1="521.6" y1="571.1" x2="539" y2="571.1" stroke="#231f20" stroke-width="1.4" />
<text x="510.5" y="580.05" font-size="25" fill="#231f20" text-anchor="end">70</text>
<line x1="521.6" y1="598.55" x2="539" y2="598.55" stroke="#231f20" stroke-width="1.4" />
<line x1="521.6" y1="626" x2="539" y2="626" stroke="#231f20" stroke-width="1.4" />
<text x="510.5" y="634.95" font-size="25" fill="#231f20" text-anchor="end">50</text>
<line x1="521.6" y1="653.45" x2="539" y2="653.45" stroke="#231f20" stroke-width="1.4" />
<line x1="521.6" y1="680.9" x2="539" y2="680.9" stroke="#231f20" stroke-width="1.4" />
<text x="510.5" y="689.85" font-size="25" fill="#231f20" text-anchor="end">30</text>
<line x1="521.6" y1="851.8" x2="539" y2="851.8" stroke="#231f20" stroke-width="1.4" />
<text x="510.5" y="860.75" font-size="25" fill="#231f20" text-anchor="end">0</text>
<line x1="533" y1="845.8" x2="539" y2="845.8" stroke="#231f20" stroke-width="1.4" />
<line x1="533" y1="839.8" x2="539" y2="839.8" stroke="#231f20" stroke-width="1.4" />
<line x1="528.5" y1="833.8" x2="539" y2="833.8" stroke="#231f20" stroke-width="1.4" />
<line x1="533" y1="827.8" x2="539" y2="827.8" stroke="#231f20" stroke-width="1.4" />
<line x1="533" y1="821.8" x2="539" y2="821.8" stroke="#231f20" stroke-width="1.4" />
<line x1="521.6" y1="815.8" x2="539" y2="815.8" stroke="#231f20" stroke-width="1.4" />
<text x="510.5" y="824.75" font-size="25" fill="#231f20" text-anchor="end">6</text>
<line x1="533" y1="809.8" x2="539" y2="809.8" stroke="#231f20" stroke-width="1.4" />
<line x1="533" y1="803.8" x2="539" y2="803.8" stroke="#231f20" stroke-width="1.4" />
<line x1="528.5" y1="797.8" x2="539" y2="797.8" stroke="#231f20" stroke-width="1.4" />
<line x1="533" y1="791.8" x2="539" y2="791.8" stroke="#231f20" stroke-width="1.4" />
<line x1="533" y1="785.8" x2="539" y2="785.8" stroke="#231f20" stroke-width="1.4" />
<line x1="521.6" y1="779.8" x2="539" y2="779.8" stroke="#231f20" stroke-width="1.4" />
<text x="510.5" y="788.75" font-size="25" fill="#231f20" text-anchor="end">12</text>
<line x1="533" y1="773.8" x2="539" y2="773.8" stroke="#231f20" stroke-width="1.4" />
<line x1="533" y1="767.8" x2="539" y2="767.8" stroke="#231f20" stroke-width="1.4" />
<line x1="528.5" y1="761.8" x2="539" y2="761.8" stroke="#231f20" stroke-width="1.4" />
<line x1="533" y1="755.8" x2="539" y2="755.8" stroke="#231f20" stroke-width="1.4" />
<line x1="533" y1="749.8" x2="539" y2="749.8" stroke="#231f20" stroke-width="1.4" />
<line x1="521.6" y1="743.8" x2="539" y2="743.8" stroke="#231f20" stroke-width="1.4" />
<text x="510.5" y="752.75" font-size="25" fill="#231f20" text-anchor="end">18</text>
<line x1="533" y1="737.8" x2="539" y2="737.8" stroke="#231f20" stroke-width="1.4" />
<line x1="533" y1="731.8" x2="539" y2="731.8" stroke="#231f20" stroke-width="1.4" />
<line x1="528.5" y1="725.8" x2="539" y2="725.8" stroke="#231f20" stroke-width="1.4" />
<line x1="522.4" y1="851.8" x2="819.7" y2="851.8" stroke="#231f20" stroke-width="1.4" />
<line x1="539" y1="851.8" x2="539" y2="861.2" stroke="#231f20" stroke-width="1.4" />
<text x="539" y="890.6" font-size="25" fill="#231f20" text-anchor="middle">0</text>
<line x1="562.39" y1="851.8" x2="562.39" y2="861.2" stroke="#231f20" stroke-width="1.4" />
<line x1="585.78" y1="851.8" x2="585.78" y2="861.2" stroke="#231f20" stroke-width="1.4" />
<text x="585.78" y="890.6" font-size="25" fill="#231f20" text-anchor="middle">4</text>
<line x1="609.17" y1="851.8" x2="609.17" y2="861.2" stroke="#231f20" stroke-width="1.4" />
<line x1="632.56" y1="851.8" x2="632.56" y2="861.2" stroke="#231f20" stroke-width="1.4" />
<text x="632.56" y="890.6" font-size="25" fill="#231f20" text-anchor="middle">8</text>
<line x1="655.95" y1="851.8" x2="655.95" y2="861.2" stroke="#231f20" stroke-width="1.4" />
<line x1="679.34" y1="851.8" x2="679.34" y2="861.2" stroke="#231f20" stroke-width="1.4" />
<text x="679.34" y="890.6" font-size="25" fill="#231f20" text-anchor="middle">12</text>
<line x1="702.73" y1="851.8" x2="702.73" y2="861.2" stroke="#231f20" stroke-width="1.4" />
<line x1="726.12" y1="851.8" x2="726.12" y2="861.2" stroke="#231f20" stroke-width="1.4" />
<text x="726.12" y="890.6" font-size="25" fill="#231f20" text-anchor="middle">16</text>
<line x1="749.51" y1="851.8" x2="749.51" y2="861.2" stroke="#231f20" stroke-width="1.4" />
<line x1="772.9" y1="851.8" x2="772.9" y2="861.2" stroke="#231f20" stroke-width="1.4" />
<text x="772.9" y="890.6" font-size="25" fill="#231f20" text-anchor="middle">20</text>
<line x1="796.29" y1="851.8" x2="796.29" y2="861.2" stroke="#231f20" stroke-width="1.4" />
<line x1="819.68" y1="851.8" x2="819.68" y2="861.2" stroke="#231f20" stroke-width="1.4" />
<text x="819.68" y="890.6" font-size="25" fill="#231f20" text-anchor="middle">24</text>
<text x="679" y="929.5" font-size="25" fill="#231f20" text-anchor="middle">Time (hpi)</text>
<text transform="translate(460.8,712.5) rotate(-90)" x="0" y="0" font-size="25" fill="#231f20" text-anchor="middle">P<tspan dy="-10" font-size="17">exo</tspan><tspan dy="10"> foci number</tspan></text>
<polyline points="539.02,846.43 540.63,755.36 544.64,754.02 549.2,729.91 638.93,729.91 641.61,735.27 644.29,754.02 648.31,754.02 649.64,764.73 653.66,771.43 656.34,774.11 659.02,788.84 664.38,790.18 665.72,798.22 669.73,807.59 673.75,808.93 677.77,823.66 680.45,830.36 684.47,837.06 691.16,839.74 704.56,841.61 750.09,843.22" stroke="#1d7fb0" stroke-width="3.3" fill="none" stroke-linejoin="miter" stroke-linecap="butt" />
<polyline points="539.02,846.43 545.18,815.63 644.29,815.63 648.31,820.99 669.73,820.99 673.75,827.68 680.45,834.38 687.15,838.4 700.54,839.74 704.56,843.22 750.09,843.22" stroke="#1f93c6" stroke-width="3.3" fill="none" stroke-linejoin="miter" stroke-linecap="butt" />
<polyline points="539.02,846.43 545.18,830.36 549.2,819.65 554.55,800.9 656.34,800.9 663.04,812.95 668.39,816.97 673.75,823.66 680.45,830.36 687.15,831.7 700.54,831.7 704.56,837.06 755.45,837.06 757.32,827.68 760.27,798.22 762.15,717.86" stroke="#1b6690" stroke-width="3.3" fill="none" stroke-linejoin="miter" stroke-linecap="butt" />
<polyline points="763.49,701.79 764.82,688.39" stroke="#1b6690" stroke-width="3.3" fill="none" stroke-linejoin="miter" stroke-linecap="butt" />
<polyline points="539.02,849.11 541.16,834.38 628.22,834.38" stroke="#1aaee2" stroke-width="3.3" fill="none" stroke-linejoin="miter" stroke-linecap="butt" />
<text x="624.5" y="788.8" font-size="25" fill="#1aaee2" text-anchor="middle">1</text>
<text x="732" y="815.6" font-size="25" fill="#1f93c6" text-anchor="middle">2</text>
<text x="746.7" y="774" font-size="25" fill="#1d7fb0" text-anchor="middle">3</text>
<text x="762.8" y="652.2" font-size="25" fill="#1b6690" text-anchor="middle">4</text>
<line x1="628.2" y1="792.9" x2="628.2" y2="827.7" stroke="#e62434" stroke-width="1.8" />
<polygon points="622.7,822.7 628.2,826.7 633.7,822.7 628.2,835.7" fill="#e62434" />
<line x1="735.4" y1="818.3" x2="735.4" y2="833" stroke="#e62434" stroke-width="1.8" />
<polygon points="729.9,828 735.4,832 740.9,828 735.4,841" fill="#e62434" />
<line x1="751.4" y1="779.5" x2="751.4" y2="837" stroke="#e62434" stroke-width="1.8" />
<polygon points="745.9,832 751.4,836 756.9,832 751.4,845" fill="#e62434" />
<line x1="764.8" y1="659" x2="764.8" y2="677.7" stroke="#e62434" stroke-width="1.8" />
<polygon points="759.3,672.7 764.8,676.7 770.3,672.7 764.8,685.7" fill="#e62434" />
<text x="880" y="490.5" font-size="35" fill="#231f20" font-weight="bold" stroke="#231f20" stroke-width="0.9">g</text>
<text x="1075" y="483.5" font-size="25" fill="#15a06c">P<tspan dy="-10" font-size="16">exo</tspan></text>
<text x="1223" y="483.5" font-size="24" fill="#cbbb55">(–)vRNA</text>
<text x="1397" y="483.5" font-size="24" fill="#e3268a">(+)vRNA</text>
<text x="1577.3" y="483.5" font-size="24" fill="#231f20">Merge</text>
<line x1="933" y1="490" x2="933" y2="900" stroke="#111" stroke-width="1.6" />
<polygon points="927.5,893 938.5,893 933,908" fill="#111" />
<text transform="translate(917.4,698) rotate(-90)" x="0" y="0" font-size="25" fill="#231f20" text-anchor="middle">VF biogenesis (pseudo timeline)</text>
<text transform="translate(969,542.2) rotate(-90)" x="0" y="0" font-size="25.8" fill="#231f20" text-anchor="middle">Pre-fusion</text>
<text transform="translate(969,692.5) rotate(-90)" x="0" y="0" font-size="25.8" fill="#231f20" text-anchor="middle">Post-fusion</text>
<text transform="translate(969,850.5) rotate(-90)" x="0" y="0" font-size="25.8" fill="#231f20" text-anchor="middle">Replication</text>
<line x1="982.6" y1="495.8" x2="982.6" y2="587.8" stroke="#9a9a9a" stroke-width="1.6" />
<line x1="982.6" y1="607.7" x2="982.6" y2="777.3" stroke="#9a9a9a" stroke-width="1.6" />
<line x1="982.6" y1="806" x2="982.6" y2="895" stroke="#9a9a9a" stroke-width="1.6" />
<text x="999.3" y="530.5" font-size="25" fill="#231f20" text-anchor="middle">1</text>
<text x="999.3" y="636.5" font-size="25" fill="#231f20" text-anchor="middle">2</text>
<text x="999.3" y="725.5" font-size="25" fill="#231f20" text-anchor="middle">3</text>
<text x="999.3" y="833.6" font-size="25" fill="#231f20" text-anchor="middle">4</text>
<g transform="translate(1012.3,492.4)"><g clip-path="url(#c9)">
<rect x="0" y="0" width="168.8" height="92.4" fill="#232323"/>
<ellipse cx="30" cy="80" rx="40" ry="20" fill="#161616" filter="url(#bl12)"/>
<ellipse cx="150" cy="40" rx="25" ry="40" fill="#2a2a2a" filter="url(#bl16)"/>
<path d="M64.7,11.9 C69.15,6.77 77.37,9.35 81.7,9.2 C86.03,9.05 86.82,9.37 90.7,11 C94.58,12.63 99.65,16.17 105,19 C110.35,21.83 119.08,25.32 122.8,28 C126.52,30.68 127.3,33.02 127.3,35.1 C127.3,37.18 123.85,38.4 122.8,40.5 C121.75,42.6 119.8,45.32 121,47.7 C122.2,50.08 128.67,52.42 130,54.8 C131.33,57.18 130.2,59.62 129,62 C127.8,64.38 126.22,66.72 122.8,69.1 C119.38,71.48 112.37,74.82 108.5,76.3 C104.63,77.78 103.18,78.3 99.6,78 C96.02,77.7 90.87,75.38 87,74.5 C83.13,73.62 79.97,73.3 76.4,72.7 C72.83,72.1 69.18,70.6 65.6,70.9 C62.02,71.2 57.73,75.1 54.9,74.5 C52.07,73.9 49.5,69.38 48.6,67.3 C47.7,65.22 48.43,66.55 49.5,62 C50.57,57.45 52.47,48.35 55,40 C57.53,31.65 60.25,17.03 64.7,11.9Z" fill="#262626" filter="url(#bl4)" opacity="1"/>
<path d="M64.7,11.9 C69.15,6.77 77.37,9.35 81.7,9.2 C86.03,9.05 86.82,9.37 90.7,11 C94.58,12.63 99.65,16.17 105,19 C110.35,21.83 119.08,25.32 122.8,28 C126.52,30.68 127.3,33.02 127.3,35.1 C127.3,37.18 123.85,38.4 122.8,40.5 C121.75,42.6 119.8,45.32 121,47.7 C122.2,50.08 128.67,52.42 130,54.8 C131.33,57.18 130.2,59.62 129,62 C127.8,64.38 126.22,66.72 122.8,69.1 C119.38,71.48 112.37,74.82 108.5,76.3 C104.63,77.78 103.18,78.3 99.6,78 C96.02,77.7 90.87,75.38 87,74.5 C83.13,73.62 79.97,73.3 76.4,72.7 C72.83,72.1 69.18,70.6 65.6,70.9 C62.02,71.2 57.73,75.1 54.9,74.5 C52.07,73.9 49.5,69.38 48.6,67.3 C47.7,65.22 48.43,66.55 49.5,62 C50.57,57.45 52.47,48.35 55,40 C57.53,31.65 60.25,17.03 64.7,11.9Z" fill="none" stroke="#fff" stroke-width="2" stroke-dasharray="6 4"/>
<rect x="6.2" y="5.4" width="55.3" height="55.3" fill="#2c2c2c" stroke="#15a06c" stroke-width="4"/>
<circle cx="33.7" cy="30.4" r="4" fill="#fff" filter="url(#bl2)"/>
<rect x="101.3" y="53" width="14.4" height="14.4" fill="none" stroke="#15a06c" stroke-width="2.6"/>
<circle cx="108.5" cy="60.2" r="1.5" fill="#fff"/>
<rect x="139" y="87" width="26.5" height="5.4" fill="#fff"/>
</g></g>
<g transform="translate(1185.2,492.4)"><g clip-path="url(#c10)">
<rect x="0" y="0" width="168.8" height="92.4" fill="#101010"/>
<path d="M64.7,11.9 C69.15,6.77 77.37,9.35 81.7,9.2 C86.03,9.05 86.82,9.37 90.7,11 C94.58,12.63 99.65,16.17 105,19 C110.35,21.83 119.08,25.32 122.8,28 C126.52,30.68 127.3,33.02 127.3,35.1 C127.3,37.18 123.85,38.4 122.8,40.5 C121.75,42.6 119.8,45.32 121,47.7 C122.2,50.08 128.67,52.42 130,54.8 C131.33,57.18 130.2,59.62 129,62 C127.8,64.38 126.22,66.72 122.8,69.1 C119.38,71.48 112.37,74.82 108.5,76.3 C104.63,77.78 103.18,78.3 99.6,78 C96.02,77.7 90.87,75.38 87,74.5 C83.13,73.62 79.97,73.3 76.4,72.7 C72.83,72.1 69.18,70.6 65.6,70.9 C62.02,71.2 57.73,75.1 54.9,74.5 C52.07,73.9 49.5,69.38 48.6,67.3 C47.7,65.22 48.43,66.55 49.5,62 C50.57,57.45 52.47,48.35 55,40 C57.53,31.65 60.25,17.03 64.7,11.9Z" fill="#141414" filter="url(#bl4)" opacity="1"/>
<path d="M64.7,11.9 C69.15,6.77 77.37,9.35 81.7,9.2 C86.03,9.05 86.82,9.37 90.7,11 C94.58,12.63 99.65,16.17 105,19 C110.35,21.83 119.08,25.32 122.8,28 C126.52,30.68 127.3,33.02 127.3,35.1 C127.3,37.18 123.85,38.4 122.8,40.5 C121.75,42.6 119.8,45.32 121,47.7 C122.2,50.08 128.67,52.42 130,54.8 C131.33,57.18 130.2,59.62 129,62 C127.8,64.38 126.22,66.72 122.8,69.1 C119.38,71.48 112.37,74.82 108.5,76.3 C104.63,77.78 103.18,78.3 99.6,78 C96.02,77.7 90.87,75.38 87,74.5 C83.13,73.62 79.97,73.3 76.4,72.7 C72.83,72.1 69.18,70.6 65.6,70.9 C62.02,71.2 57.73,75.1 54.9,74.5 C52.07,73.9 49.5,69.38 48.6,67.3 C47.7,65.22 48.43,66.55 49.5,62 C50.57,57.45 52.47,48.35 55,40 C57.53,31.65 60.25,17.03 64.7,11.9Z" fill="none" stroke="#fff" stroke-width="2" stroke-dasharray="6 4"/>
<rect x="6.3" y="5.4" width="55.3" height="55.3" fill="#262626" stroke="#d2c25e" stroke-width="4"/>
<circle cx="33.8" cy="30.4" r="3" fill="#fff" filter="url(#bl2)"/>
<rect x="103.1" y="54.4" width="14.4" height="14.4" fill="none" stroke="#d2c25e" stroke-width="2.6"/>
<circle cx="110.3" cy="61.6" r="1.5" fill="#fff"/>
</g></g>
<g transform="translate(1356.5,492.4)"><g clip-path="url(#c11)">
<rect x="0" y="0" width="168.8" height="92.4" fill="#0f0f0f"/>
<path d="M64.7,11.9 C69.15,6.77 77.37,9.35 81.7,9.2 C86.03,9.05 86.82,9.37 90.7,11 C94.58,12.63 99.65,16.17 105,19 C110.35,21.83 119.08,25.32 122.8,28 C126.52,30.68 127.3,33.02 127.3,35.1 C127.3,37.18 123.85,38.4 122.8,40.5 C121.75,42.6 119.8,45.32 121,47.7 C122.2,50.08 128.67,52.42 130,54.8 C131.33,57.18 130.2,59.62 129,62 C127.8,64.38 126.22,66.72 122.8,69.1 C119.38,71.48 112.37,74.82 108.5,76.3 C104.63,77.78 103.18,78.3 99.6,78 C96.02,77.7 90.87,75.38 87,74.5 C83.13,73.62 79.97,73.3 76.4,72.7 C72.83,72.1 69.18,70.6 65.6,70.9 C62.02,71.2 57.73,75.1 54.9,74.5 C52.07,73.9 49.5,69.38 48.6,67.3 C47.7,65.22 48.43,66.55 49.5,62 C50.57,57.45 52.47,48.35 55,40 C57.53,31.65 60.25,17.03 64.7,11.9Z" fill="#121212" filter="url(#bl4)" opacity="1"/>
<path d="M64.7,11.9 C69.15,6.77 77.37,9.35 81.7,9.2 C86.03,9.05 86.82,9.37 90.7,11 C94.58,12.63 99.65,16.17 105,19 C110.35,21.83 119.08,25.32 122.8,28 C126.52,30.68 127.3,33.02 127.3,35.1 C127.3,37.18 123.85,38.4 122.8,40.5 C121.75,42.6 119.8,45.32 121,47.7 C122.2,50.08 128.67,52.42 130,54.8 C131.33,57.18 130.2,59.62 129,62 C127.8,64.38 126.22,66.72 122.8,69.1 C119.38,71.48 112.37,74.82 108.5,76.3 C104.63,77.78 103.18,78.3 99.6,78 C96.02,77.7 90.87,75.38 87,74.5 C83.13,73.62 79.97,73.3 76.4,72.7 C72.83,72.1 69.18,70.6 65.6,70.9 C62.02,71.2 57.73,75.1 54.9,74.5 C52.07,73.9 49.5,69.38 48.6,67.3 C47.7,65.22 48.43,66.55 49.5,62 C50.57,57.45 52.47,48.35 55,40 C57.53,31.65 60.25,17.03 64.7,11.9Z" fill="none" stroke="#fff" stroke-width="2" stroke-dasharray="6 4"/>
<rect x="6.6" y="5.4" width="55.3" height="55.3" fill="#1c1c1c" stroke="#e3268a" stroke-width="4"/>
<rect x="106.4" y="54.9" width="14.4" height="14.4" fill="none" stroke="#e3268a" stroke-width="2.6"/>
</g></g>
<g transform="translate(1528.6,492.4)"><g clip-path="url(#c12)">
<rect x="0" y="0" width="168.8" height="92.4" fill="#172629"/>
<path d="M64.7,11.9 C69.15,6.77 77.37,9.35 81.7,9.2 C86.03,9.05 86.82,9.37 90.7,11 C94.58,12.63 99.65,16.17 105,19 C110.35,21.83 119.08,25.32 122.8,28 C126.52,30.68 127.3,33.02 127.3,35.1 C127.3,37.18 123.85,38.4 122.8,40.5 C121.75,42.6 119.8,45.32 121,47.7 C122.2,50.08 128.67,52.42 130,54.8 C131.33,57.18 130.2,59.62 129,62 C127.8,64.38 126.22,66.72 122.8,69.1 C119.38,71.48 112.37,74.82 108.5,76.3 C104.63,77.78 103.18,78.3 99.6,78 C96.02,77.7 90.87,75.38 87,74.5 C83.13,73.62 79.97,73.3 76.4,72.7 C72.83,72.1 69.18,70.6 65.6,70.9 C62.02,71.2 57.73,75.1 54.9,74.5 C52.07,73.9 49.5,69.38 48.6,67.3 C47.7,65.22 48.43,66.55 49.5,62 C50.57,57.45 52.47,48.35 55,40 C57.53,31.65 60.25,17.03 64.7,11.9Z" fill="#1c2a2e" filter="url(#bl4)" opacity="1"/>
<path d="M64.7,11.9 C69.15,6.77 77.37,9.35 81.7,9.2 C86.03,9.05 86.82,9.37 90.7,11 C94.58,12.63 99.65,16.17 105,19 C110.35,21.83 119.08,25.32 122.8,28 C126.52,30.68 127.3,33.02 127.3,35.1 C127.3,37.18 123.85,38.4 122.8,40.5 C121.75,42.6 119.8,45.32 121,47.7 C122.2,50.08 128.67,52.42 130,54.8 C131.33,57.18 130.2,59.62 129,62 C127.8,64.38 126.22,66.72 122.8,69.1 C119.38,71.48 112.37,74.82 108.5,76.3 C104.63,77.78 103.18,78.3 99.6,78 C96.02,77.7 90.87,75.38 87,74.5 C83.13,73.62 79.97,73.3 76.4,72.7 C72.83,72.1 69.18,70.6 65.6,70.9 C62.02,71.2 57.73,75.1 54.9,74.5 C52.07,73.9 49.5,69.38 48.6,67.3 C47.7,65.22 48.43,66.55 49.5,62 C50.57,57.45 52.47,48.35 55,40 C57.53,31.65 60.25,17.03 64.7,11.9Z" fill="none" stroke="#fff" stroke-width="2" stroke-dasharray="6 4"/>
<circle cx="96" cy="10" r="2" fill="#7ee8e8"/>
<circle cx="95" cy="26" r="1.5" fill="#7ee8e8"/>
<circle cx="85" cy="62" r="1.5" fill="#7ee8e8"/>
</g></g>
<g transform="translate(1012.3,600.5)"><g clip-path="url(#c13)">
<rect x="0" y="0" width="168.8" height="92.4" fill="#191919"/>
<ellipse cx="30" cy="15" rx="40" ry="20" fill="#101010" filter="url(#bl12)"/>
<ellipse cx="165" cy="70" rx="20" ry="20" fill="#141414" filter="url(#bl10)"/>
<path d="M65.6,30.7 C74.22,26.53 76.33,22.53 81.7,20 C87.07,17.47 92.73,16.7 97.8,15.5 C102.87,14.3 106.73,15.03 112.1,12.8 C117.47,10.57 124.63,2.98 130,2.1 C135.37,1.22 140.13,4.82 144.3,7.5 C148.47,10.18 152.62,15.22 155,18.2 C157.38,21.18 158.9,22.12 158.6,25.4 C158.3,28.68 155.28,34.33 153.2,37.9 C151.12,41.47 147.88,43.23 146.1,46.8 C144.32,50.37 144.58,55.42 142.5,59.3 C140.42,63.18 135.98,66.82 133.6,70.1 C131.22,73.38 132.38,77.07 128.2,79 C124.02,80.93 114.75,80.8 108.5,81.7 C102.25,82.6 96.65,83.35 90.7,84.4 C84.75,85.45 77.87,88.3 72.8,88 C67.73,87.7 64.18,84.4 60.3,82.6 C56.42,80.8 52.18,79.58 49.5,77.2 C46.82,74.82 46.87,70.38 44.2,68.3 C41.53,66.22 37.67,65.45 33.5,64.7 C29.33,63.95 19.78,67.08 19.2,63.8 C18.62,60.52 22.27,50.52 30,45 C37.73,39.48 56.98,34.87 65.6,30.7Z" fill="#383838" filter="url(#bl4)" opacity="1"/>
<ellipse cx="100" cy="55" rx="18" ry="22" fill="#262626" filter="url(#bl8)"/>
<ellipse cx="120" cy="50" rx="12" ry="18" fill="#2a2a2a" filter="url(#bl8)"/>
<path d="M65.6,30.7 C74.22,26.53 76.33,22.53 81.7,20 C87.07,17.47 92.73,16.7 97.8,15.5 C102.87,14.3 106.73,15.03 112.1,12.8 C117.47,10.57 124.63,2.98 130,2.1 C135.37,1.22 140.13,4.82 144.3,7.5 C148.47,10.18 152.62,15.22 155,18.2 C157.38,21.18 158.9,22.12 158.6,25.4 C158.3,28.68 155.28,34.33 153.2,37.9 C151.12,41.47 147.88,43.23 146.1,46.8 C144.32,50.37 144.58,55.42 142.5,59.3 C140.42,63.18 135.98,66.82 133.6,70.1 C131.22,73.38 132.38,77.07 128.2,79 C124.02,80.93 114.75,80.8 108.5,81.7 C102.25,82.6 96.65,83.35 90.7,84.4 C84.75,85.45 77.87,88.3 72.8,88 C67.73,87.7 64.18,84.4 60.3,82.6 C56.42,80.8 52.18,79.58 49.5,77.2 C46.82,74.82 46.87,70.38 44.2,68.3 C41.53,66.22 37.67,65.45 33.5,64.7 C29.33,63.95 19.78,67.08 19.2,63.8 C18.62,60.52 22.27,50.52 30,45 C37.73,39.48 56.98,34.87 65.6,30.7Z" fill="none" stroke="#fff" stroke-width="2" stroke-dasharray="6 4"/>
<rect x="6.2" y="5.4" width="55.3" height="55.3" fill="#303030" stroke="#15a06c" stroke-width="4"/>
<circle cx="33.7" cy="30.4" r="6.5" fill="#fff" filter="url(#bl2)"/>
<rect x="128.4" y="11" width="14.4" height="14.4" fill="none" stroke="#15a06c" stroke-width="2.6"/>
<circle cx="135.6" cy="18.2" r="1.5" fill="#fff"/>
</g></g>
<g transform="translate(1185.2,600.5)"><g clip-path="url(#c14)">
<rect x="0" y="0" width="168.8" height="92.4" fill="#0b0b0b"/>
<path d="M65.6,30.7 C74.22,26.53 76.33,22.53 81.7,20 C87.07,17.47 92.73,16.7 97.8,15.5 C102.87,14.3 106.73,15.03 112.1,12.8 C117.47,10.57 124.63,2.98 130,2.1 C135.37,1.22 140.13,4.82 144.3,7.5 C148.47,10.18 152.62,15.22 155,18.2 C157.38,21.18 158.9,22.12 158.6,25.4 C158.3,28.68 155.28,34.33 153.2,37.9 C151.12,41.47 147.88,43.23 146.1,46.8 C144.32,50.37 144.58,55.42 142.5,59.3 C140.42,63.18 135.98,66.82 133.6,70.1 C131.22,73.38 132.38,77.07 128.2,79 C124.02,80.93 114.75,80.8 108.5,81.7 C102.25,82.6 96.65,83.35 90.7,84.4 C84.75,85.45 77.87,88.3 72.8,88 C67.73,87.7 64.18,84.4 60.3,82.6 C56.42,80.8 52.18,79.58 49.5,77.2 C46.82,74.82 46.87,70.38 44.2,68.3 C41.53,66.22 37.67,65.45 33.5,64.7 C29.33,63.95 19.78,67.08 19.2,63.8 C18.62,60.52 22.27,50.52 30,45 C37.73,39.48 56.98,34.87 65.6,30.7Z" fill="#171717" filter="url(#bl4)" opacity="1"/>
<path d="M65.6,30.7 C74.22,26.53 76.33,22.53 81.7,20 C87.07,17.47 92.73,16.7 97.8,15.5 C102.87,14.3 106.73,15.03 112.1,12.8 C117.47,10.57 124.63,2.98 130,2.1 C135.37,1.22 140.13,4.82 144.3,7.5 C148.47,10.18 152.62,15.22 155,18.2 C157.38,21.18 158.9,22.12 158.6,25.4 C158.3,28.68 155.28,34.33 153.2,37.9 C151.12,41.47 147.88,43.23 146.1,46.8 C144.32,50.37 144.58,55.42 142.5,59.3 C140.42,63.18 135.98,66.82 133.6,70.1 C131.22,73.38 132.38,77.07 128.2,79 C124.02,80.93 114.75,80.8 108.5,81.7 C102.25,82.6 96.65,83.35 90.7,84.4 C84.75,85.45 77.87,88.3 72.8,88 C67.73,87.7 64.18,84.4 60.3,82.6 C56.42,80.8 52.18,79.58 49.5,77.2 C46.82,74.82 46.87,70.38 44.2,68.3 C41.53,66.22 37.67,65.45 33.5,64.7 C29.33,63.95 19.78,67.08 19.2,63.8 C18.62,60.52 22.27,50.52 30,45 C37.73,39.48 56.98,34.87 65.6,30.7Z" fill="none" stroke="#fff" stroke-width="2" stroke-dasharray="6 4"/>
<rect x="6.3" y="5.4" width="55.3" height="55.3" fill="#0f0f0f" stroke="#d2c25e" stroke-width="4"/>
<circle cx="33.8" cy="30.4" r="4.5" fill="#fff" filter="url(#bl2)"/>
<rect x="122.1" y="9.8" width="14.4" height="14.4" fill="none" stroke="#d2c25e" stroke-width="2.6"/>
<circle cx="129.3" cy="17" r="1.5" fill="#fff"/>
</g></g>
<g transform="translate(1356.5,600.5)"><g clip-path="url(#c15)">
<rect x="0" y="0" width="168.8" height="92.4" fill="#0d0d0d"/>
<path d="M65.6,30.7 C74.22,26.53 76.33,22.53 81.7,20 C87.07,17.47 92.73,16.7 97.8,15.5 C102.87,14.3 106.73,15.03 112.1,12.8 C117.47,10.57 124.63,2.98 130,2.1 C135.37,1.22 140.13,4.82 144.3,7.5 C148.47,10.18 152.62,15.22 155,18.2 C157.38,21.18 158.9,22.12 158.6,25.4 C158.3,28.68 155.28,34.33 153.2,37.9 C151.12,41.47 147.88,43.23 146.1,46.8 C144.32,50.37 144.58,55.42 142.5,59.3 C140.42,63.18 135.98,66.82 133.6,70.1 C131.22,73.38 132.38,77.07 128.2,79 C124.02,80.93 114.75,80.8 108.5,81.7 C102.25,82.6 96.65,83.35 90.7,84.4 C84.75,85.45 77.87,88.3 72.8,88 C67.73,87.7 64.18,84.4 60.3,82.6 C56.42,80.8 52.18,79.58 49.5,77.2 C46.82,74.82 46.87,70.38 44.2,68.3 C41.53,66.22 37.67,65.45 33.5,64.7 C29.33,63.95 19.78,67.08 19.2,63.8 C18.62,60.52 22.27,50.52 30,45 C37.73,39.48 56.98,34.87 65.6,30.7Z" fill="#131313" filter="url(#bl4)" opacity="1"/>
<path d="M65.6,30.7 C74.22,26.53 76.33,22.53 81.7,20 C87.07,17.47 92.73,16.7 97.8,15.5 C102.87,14.3 106.73,15.03 112.1,12.8 C117.47,10.57 124.63,2.98 130,2.1 C135.37,1.22 140.13,4.82 144.3,7.5 C148.47,10.18 152.62,15.22 155,18.2 C157.38,21.18 158.9,22.12 158.6,25.4 C158.3,28.68 155.28,34.33 153.2,37.9 C151.12,41.47 147.88,43.23 146.1,46.8 C144.32,50.37 144.58,55.42 142.5,59.3 C140.42,63.18 135.98,66.82 133.6,70.1 C131.22,73.38 132.38,77.07 128.2,79 C124.02,80.93 114.75,80.8 108.5,81.7 C102.25,82.6 96.65,83.35 90.7,84.4 C84.75,85.45 77.87,88.3 72.8,88 C67.73,87.7 64.18,84.4 60.3,82.6 C56.42,80.8 52.18,79.58 49.5,77.2 C46.82,74.82 46.87,70.38 44.2,68.3 C41.53,66.22 37.67,65.45 33.5,64.7 C29.33,63.95 19.78,67.08 19.2,63.8 C18.62,60.52 22.27,50.52 30,45 C37.73,39.48 56.98,34.87 65.6,30.7Z" fill="none" stroke="#fff" stroke-width="2" stroke-dasharray="6 4"/>
<rect x="6.6" y="5.4" width="55.3" height="55.3" fill="#1b1b1b" stroke="#e3268a" stroke-width="4"/>
<rect x="125.8" y="11" width="14.4" height="14.4" fill="none" stroke="#e3268a" stroke-width="2.6"/>
</g></g>
<g transform="translate(1528.6,600.5)"><g clip-path="url(#c16)">
<rect x="0" y="0" width="168.8" height="92.4" fill="#1b1a22"/>
<path d="M65.6,30.7 C74.22,26.53 76.33,22.53 81.7,20 C87.07,17.47 92.73,16.7 97.8,15.5 C102.87,14.3 106.73,15.03 112.1,12.8 C117.47,10.57 124.63,2.98 130,2.1 C135.37,1.22 140.13,4.82 144.3,7.5 C148.47,10.18 152.62,15.22 155,18.2 C157.38,21.18 158.9,22.12 158.6,25.4 C158.3,28.68 155.28,34.33 153.2,37.9 C151.12,41.47 147.88,43.23 146.1,46.8 C144.32,50.37 144.58,55.42 142.5,59.3 C140.42,63.18 135.98,66.82 133.6,70.1 C131.22,73.38 132.38,77.07 128.2,79 C124.02,80.93 114.75,80.8 108.5,81.7 C102.25,82.6 96.65,83.35 90.7,84.4 C84.75,85.45 77.87,88.3 72.8,88 C67.73,87.7 64.18,84.4 60.3,82.6 C56.42,80.8 52.18,79.58 49.5,77.2 C46.82,74.82 46.87,70.38 44.2,68.3 C41.53,66.22 37.67,65.45 33.5,64.7 C29.33,63.95 19.78,67.08 19.2,63.8 C18.62,60.52 22.27,50.52 30,45 C37.73,39.48 56.98,34.87 65.6,30.7Z" fill="#22282e" filter="url(#bl4)" opacity="1"/>
<path d="M65.6,30.7 C74.22,26.53 76.33,22.53 81.7,20 C87.07,17.47 92.73,16.7 97.8,15.5 C102.87,14.3 106.73,15.03 112.1,12.8 C117.47,10.57 124.63,2.98 130,2.1 C135.37,1.22 140.13,4.82 144.3,7.5 C148.47,10.18 152.62,15.22 155,18.2 C157.38,21.18 158.9,22.12 158.6,25.4 C158.3,28.68 155.28,34.33 153.2,37.9 C151.12,41.47 147.88,43.23 146.1,46.8 C144.32,50.37 144.58,55.42 142.5,59.3 C140.42,63.18 135.98,66.82 133.6,70.1 C131.22,73.38 132.38,77.07 128.2,79 C124.02,80.93 114.75,80.8 108.5,81.7 C102.25,82.6 96.65,83.35 90.7,84.4 C84.75,85.45 77.87,88.3 72.8,88 C67.73,87.7 64.18,84.4 60.3,82.6 C56.42,80.8 52.18,79.58 49.5,77.2 C46.82,74.82 46.87,70.38 44.2,68.3 C41.53,66.22 37.67,65.45 33.5,64.7 C29.33,63.95 19.78,67.08 19.2,63.8 C18.62,60.52 22.27,50.52 30,45 C37.73,39.48 56.98,34.87 65.6,30.7Z" fill="none" stroke="#fff" stroke-width="2" stroke-dasharray="6 4"/>
<circle cx="120" cy="12" r="1.5" fill="#7ee8e8"/>
<circle cx="55" cy="60" r="2" fill="#7ee8e8"/>
<circle cx="150" cy="40" r="1.2" fill="#7ee8e8"/>
</g></g>
<g transform="translate(1012.3,695.9)"><g clip-path="url(#c17)">
<rect x="0" y="0" width="168.8" height="92.4" fill="#2e2e2e"/>
<ellipse cx="80" cy="5" rx="80" ry="12" fill="#383838" filter="url(#bl12)"/>
<path d="M64.9,10.6 C72.1,10.93 78.68,14.53 88.2,17 C97.72,19.47 112.12,22.58 122,25.4 C131.88,28.22 140.42,30.37 147.5,33.9 C154.58,37.43 160.97,43.42 164.5,46.6 C168.03,49.78 172.95,51.93 168.7,53 C164.45,54.07 146.78,52.3 139,53 C131.22,53.7 126.93,54.73 122,57.2 C117.07,59.67 113.62,64.97 109.4,67.8 C105.18,70.63 101.65,72.78 96.7,74.2 C91.75,75.62 85.37,77.37 79.7,76.3 C74.03,75.23 68.35,69.22 62.7,67.8 C57.05,66.38 51.45,66.38 45.8,67.8 C40.15,69.22 35.17,74.88 28.8,76.3 C22.43,77.72 11.98,77.35 7.6,76.3 C3.22,75.25 0.43,76.05 2.5,70 C4.57,63.95 12.92,49.17 20,40 C27.08,30.83 37.52,19.9 45,15 C52.48,10.1 57.7,10.27 64.9,10.6Z" fill="#1a1a1a" filter="url(#bl4)" opacity="1"/>
<path d="M64.9,10.6 C72.1,10.93 78.68,14.53 88.2,17 C97.72,19.47 112.12,22.58 122,25.4 C131.88,28.22 140.42,30.37 147.5,33.9 C154.58,37.43 160.97,43.42 164.5,46.6 C168.03,49.78 172.95,51.93 168.7,53 C164.45,54.07 146.78,52.3 139,53 C131.22,53.7 126.93,54.73 122,57.2 C117.07,59.67 113.62,64.97 109.4,67.8 C105.18,70.63 101.65,72.78 96.7,74.2 C91.75,75.62 85.37,77.37 79.7,76.3 C74.03,75.23 68.35,69.22 62.7,67.8 C57.05,66.38 51.45,66.38 45.8,67.8 C40.15,69.22 35.17,74.88 28.8,76.3 C22.43,77.72 11.98,77.35 7.6,76.3 C3.22,75.25 0.43,76.05 2.5,70 C4.57,63.95 12.92,49.17 20,40 C27.08,30.83 37.52,19.9 45,15 C52.48,10.1 57.7,10.27 64.9,10.6Z" fill="none" stroke="#fff" stroke-width="2" stroke-dasharray="6 4"/>
<rect x="6.2" y="5.4" width="55.3" height="55.3" fill="#2e2e2e" stroke="#15a06c" stroke-width="4"/>
<circle cx="33.7" cy="30.4" r="8" fill="#fff" filter="url(#bl2)"/>
<rect x="117" y="37.3" width="14.4" height="14.4" fill="none" stroke="#15a06c" stroke-width="2.6"/>
<circle cx="124.2" cy="44.5" r="2.5" fill="#fff"/>
</g></g>
<g transform="translate(1185.2,695.9)"><g clip-path="url(#c18)">
<rect x="0" y="0" width="168.8" height="92.4" fill="#0b0b0b"/>
<path d="M64.9,10.6 C72.1,10.93 78.68,14.53 88.2,17 C97.72,19.47 112.12,22.58 122,25.4 C131.88,28.22 140.42,30.37 147.5,33.9 C154.58,37.43 160.97,43.42 164.5,46.6 C168.03,49.78 172.95,51.93 168.7,53 C164.45,54.07 146.78,52.3 139,53 C131.22,53.7 126.93,54.73 122,57.2 C117.07,59.67 113.62,64.97 109.4,67.8 C105.18,70.63 101.65,72.78 96.7,74.2 C91.75,75.62 85.37,77.37 79.7,76.3 C74.03,75.23 68.35,69.22 62.7,67.8 C57.05,66.38 51.45,66.38 45.8,67.8 C40.15,69.22 35.17,74.88 28.8,76.3 C22.43,77.72 11.98,77.35 7.6,76.3 C3.22,75.25 0.43,76.05 2.5,70 C4.57,63.95 12.92,49.17 20,40 C27.08,30.83 37.52,19.9 45,15 C52.48,10.1 57.7,10.27 64.9,10.6Z" fill="#0d0d0d" filter="url(#bl4)" opacity="1"/>
<path d="M64.9,10.6 C72.1,10.93 78.68,14.53 88.2,17 C97.72,19.47 112.12,22.58 122,25.4 C131.88,28.22 140.42,30.37 147.5,33.9 C154.58,37.43 160.97,43.42 164.5,46.6 C168.03,49.78 172.95,51.93 168.7,53 C164.45,54.07 146.78,52.3 139,53 C131.22,53.7 126.93,54.73 122,57.2 C117.07,59.67 113.62,64.97 109.4,67.8 C105.18,70.63 101.65,72.78 96.7,74.2 C91.75,75.62 85.37,77.37 79.7,76.3 C74.03,75.23 68.35,69.22 62.7,67.8 C57.05,66.38 51.45,66.38 45.8,67.8 C40.15,69.22 35.17,74.88 28.8,76.3 C22.43,77.72 11.98,77.35 7.6,76.3 C3.22,75.25 0.43,76.05 2.5,70 C4.57,63.95 12.92,49.17 20,40 C27.08,30.83 37.52,19.9 45,15 C52.48,10.1 57.7,10.27 64.9,10.6Z" fill="none" stroke="#fff" stroke-width="2" stroke-dasharray="6 4"/>
<rect x="6.3" y="5.4" width="55.3" height="55.3" fill="#111111" stroke="#d2c25e" stroke-width="4"/>
<circle cx="33.8" cy="30.4" r="6" fill="#fff" filter="url(#bl2)"/>
<rect x="117.1" y="36" width="14.4" height="14.4" fill="none" stroke="#d2c25e" stroke-width="2.6"/>
<circle cx="124.3" cy="43.2" r="2.5" fill="#fff"/>
</g></g>
<g transform="translate(1356.5,695.9)"><g clip-path="url(#c19)">
<rect x="0" y="0" width="168.8" height="92.4" fill="#0c0c0c"/>
<path d="M64.9,10.6 C72.1,10.93 78.68,14.53 88.2,17 C97.72,19.47 112.12,22.58 122,25.4 C131.88,28.22 140.42,30.37 147.5,33.9 C154.58,37.43 160.97,43.42 164.5,46.6 C168.03,49.78 172.95,51.93 168.7,53 C164.45,54.07 146.78,52.3 139,53 C131.22,53.7 126.93,54.73 122,57.2 C117.07,59.67 113.62,64.97 109.4,67.8 C105.18,70.63 101.65,72.78 96.7,74.2 C91.75,75.62 85.37,77.37 79.7,76.3 C74.03,75.23 68.35,69.22 62.7,67.8 C57.05,66.38 51.45,66.38 45.8,67.8 C40.15,69.22 35.17,74.88 28.8,76.3 C22.43,77.72 11.98,77.35 7.6,76.3 C3.22,75.25 0.43,76.05 2.5,70 C4.57,63.95 12.92,49.17 20,40 C27.08,30.83 37.52,19.9 45,15 C52.48,10.1 57.7,10.27 64.9,10.6Z" fill="#0e0e0e" filter="url(#bl4)" opacity="1"/>
<path d="M64.9,10.6 C72.1,10.93 78.68,14.53 88.2,17 C97.72,19.47 112.12,22.58 122,25.4 C131.88,28.22 140.42,30.37 147.5,33.9 C154.58,37.43 160.97,43.42 164.5,46.6 C168.03,49.78 172.95,51.93 168.7,53 C164.45,54.07 146.78,52.3 139,53 C131.22,53.7 126.93,54.73 122,57.2 C117.07,59.67 113.62,64.97 109.4,67.8 C105.18,70.63 101.65,72.78 96.7,74.2 C91.75,75.62 85.37,77.37 79.7,76.3 C74.03,75.23 68.35,69.22 62.7,67.8 C57.05,66.38 51.45,66.38 45.8,67.8 C40.15,69.22 35.17,74.88 28.8,76.3 C22.43,77.72 11.98,77.35 7.6,76.3 C3.22,75.25 0.43,76.05 2.5,70 C4.57,63.95 12.92,49.17 20,40 C27.08,30.83 37.52,19.9 45,15 C52.48,10.1 57.7,10.27 64.9,10.6Z" fill="none" stroke="#fff" stroke-width="2" stroke-dasharray="6 4"/>
<rect x="6.6" y="5.4" width="55.3" height="55.3" fill="#171717" stroke="#e3268a" stroke-width="4"/>
<circle cx="34.1" cy="30.4" r="3" fill="#fff" filter="url(#bl2)"/>
<rect x="116.1" y="37.3" width="14.4" height="14.4" fill="none" stroke="#e3268a" stroke-width="2.6"/>
<circle cx="123.3" cy="44.5" r="2.5" fill="#fff"/>
</g></g>
<g transform="translate(1528.6,695.9)"><g clip-path="url(#c20)">
<rect x="0" y="0" width="168.8" height="92.4" fill="#1d3438"/>
<path d="M64.9,10.6 C72.1,10.93 78.68,14.53 88.2,17 C97.72,19.47 112.12,22.58 122,25.4 C131.88,28.22 140.42,30.37 147.5,33.9 C154.58,37.43 160.97,43.42 164.5,46.6 C168.03,49.78 172.95,51.93 168.7,53 C164.45,54.07 146.78,52.3 139,53 C131.22,53.7 126.93,54.73 122,57.2 C117.07,59.67 113.62,64.97 109.4,67.8 C105.18,70.63 101.65,72.78 96.7,74.2 C91.75,75.62 85.37,77.37 79.7,76.3 C74.03,75.23 68.35,69.22 62.7,67.8 C57.05,66.38 51.45,66.38 45.8,67.8 C40.15,69.22 35.17,74.88 28.8,76.3 C22.43,77.72 11.98,77.35 7.6,76.3 C3.22,75.25 0.43,76.05 2.5,70 C4.57,63.95 12.92,49.17 20,40 C27.08,30.83 37.52,19.9 45,15 C52.48,10.1 57.7,10.27 64.9,10.6Z" fill="#261d2c" filter="url(#bl4)" opacity="1"/>
<path d="M64.9,10.6 C72.1,10.93 78.68,14.53 88.2,17 C97.72,19.47 112.12,22.58 122,25.4 C131.88,28.22 140.42,30.37 147.5,33.9 C154.58,37.43 160.97,43.42 164.5,46.6 C168.03,49.78 172.95,51.93 168.7,53 C164.45,54.07 146.78,52.3 139,53 C131.22,53.7 126.93,54.73 122,57.2 C117.07,59.67 113.62,64.97 109.4,67.8 C105.18,70.63 101.65,72.78 96.7,74.2 C91.75,75.62 85.37,77.37 79.7,76.3 C74.03,75.23 68.35,69.22 62.7,67.8 C57.05,66.38 51.45,66.38 45.8,67.8 C40.15,69.22 35.17,74.88 28.8,76.3 C22.43,77.72 11.98,77.35 7.6,76.3 C3.22,75.25 0.43,76.05 2.5,70 C4.57,63.95 12.92,49.17 20,40 C27.08,30.83 37.52,19.9 45,15 C52.48,10.1 57.7,10.27 64.9,10.6Z" fill="none" stroke="#fff" stroke-width="2" stroke-dasharray="6 4"/>
<circle cx="120" cy="45" r="3" fill="#7ee8e8"/>
<circle cx="120" cy="80" r="2" fill="#7ee8e8"/>
<circle cx="130" cy="86" r="2" fill="#7ee8e8"/>
</g></g>
<g transform="translate(1012.3,804.4)"><g clip-path="url(#c21)">
<rect x="0" y="0" width="168.8" height="92.4" fill="#353535"/>
<path d="M67,20.8 C71.93,16.57 87.43,11.27 96.6,10.2 C105.77,9.13 116,12.98 122,14.4 C128,15.82 131.18,15.17 132.6,18.7 C134.02,22.23 133.67,30.67 130.5,35.6 C127.33,40.53 119.25,44.42 113.6,48.3 C107.95,52.18 102.97,55.72 96.6,58.9 C90.23,62.08 81.75,64.93 75.4,67.4 C69.05,69.87 63.08,71.23 58.5,73.7 C53.92,76.17 49.32,82.2 47.9,82.2 C46.48,82.2 48.23,76.52 50,73.7 C51.77,70.88 55.67,68.83 58.5,65.3 C61.33,61.77 65.58,57.45 67,52.5 C68.42,47.55 67,40.88 67,35.6 C67,30.32 62.07,25.03 67,20.8Z" fill="#111111" filter="url(#bl4)" opacity="1"/>
<path d="M67,20.8 C71.93,16.57 87.43,11.27 96.6,10.2 C105.77,9.13 116,12.98 122,14.4 C128,15.82 131.18,15.17 132.6,18.7 C134.02,22.23 133.67,30.67 130.5,35.6 C127.33,40.53 119.25,44.42 113.6,48.3 C107.95,52.18 102.97,55.72 96.6,58.9 C90.23,62.08 81.75,64.93 75.4,67.4 C69.05,69.87 63.08,71.23 58.5,73.7 C53.92,76.17 49.32,82.2 47.9,82.2 C46.48,82.2 48.23,76.52 50,73.7 C51.77,70.88 55.67,68.83 58.5,65.3 C61.33,61.77 65.58,57.45 67,52.5 C68.42,47.55 67,40.88 67,35.6 C67,30.32 62.07,25.03 67,20.8Z" fill="none" stroke="#fff" stroke-width="2" stroke-dasharray="6 4"/>
<rect x="6.2" y="5" width="55.3" height="55.3" fill="#333333" stroke="#15a06c" stroke-width="4"/>
<circle cx="33.7" cy="30" r="7.5" fill="#fff" filter="url(#bl2)"/>
<rect x="105.5" y="22.1" width="14.4" height="14.4" fill="none" stroke="#15a06c" stroke-width="2.6"/>
<circle cx="112.7" cy="29.3" r="2.5" fill="#fff"/>
</g></g>
<g transform="translate(1185.2,804.4)"><g clip-path="url(#c22)">
<rect x="0" y="0" width="168.8" height="92.4" fill="#0e0e0e"/>
<path d="M67,20.8 C71.93,16.57 87.43,11.27 96.6,10.2 C105.77,9.13 116,12.98 122,14.4 C128,15.82 131.18,15.17 132.6,18.7 C134.02,22.23 133.67,30.67 130.5,35.6 C127.33,40.53 119.25,44.42 113.6,48.3 C107.95,52.18 102.97,55.72 96.6,58.9 C90.23,62.08 81.75,64.93 75.4,67.4 C69.05,69.87 63.08,71.23 58.5,73.7 C53.92,76.17 49.32,82.2 47.9,82.2 C46.48,82.2 48.23,76.52 50,73.7 C51.77,70.88 55.67,68.83 58.5,65.3 C61.33,61.77 65.58,57.45 67,52.5 C68.42,47.55 67,40.88 67,35.6 C67,30.32 62.07,25.03 67,20.8Z" fill="#181818" filter="url(#bl4)" opacity="1"/>
<path d="M67,20.8 C71.93,16.57 87.43,11.27 96.6,10.2 C105.77,9.13 116,12.98 122,14.4 C128,15.82 131.18,15.17 132.6,18.7 C134.02,22.23 133.67,30.67 130.5,35.6 C127.33,40.53 119.25,44.42 113.6,48.3 C107.95,52.18 102.97,55.72 96.6,58.9 C90.23,62.08 81.75,64.93 75.4,67.4 C69.05,69.87 63.08,71.23 58.5,73.7 C53.92,76.17 49.32,82.2 47.9,82.2 C46.48,82.2 48.23,76.52 50,73.7 C51.77,70.88 55.67,68.83 58.5,65.3 C61.33,61.77 65.58,57.45 67,52.5 C68.42,47.55 67,40.88 67,35.6 C67,30.32 62.07,25.03 67,20.8Z" fill="none" stroke="#fff" stroke-width="2" stroke-dasharray="6 4"/>
<rect x="6.3" y="5" width="55.3" height="55.3" fill="#3a3a3a" stroke="#f1dc12" stroke-width="4"/>
<circle cx="33.8" cy="30" r="15" fill="#fff" filter="url(#bl2)"/>
<rect x="109.4" y="22.1" width="14.4" height="14.4" fill="none" stroke="#f1dc12" stroke-width="2.6"/>
<circle cx="116.6" cy="29.3" r="2.5" fill="#fff"/>
</g></g>
<g transform="translate(1356.5,804.4)"><g clip-path="url(#c23)">
<rect x="0" y="0" width="168.8" height="92.4" fill="#050505"/>
<path d="M67,20.8 C71.93,16.57 87.43,11.27 96.6,10.2 C105.77,9.13 116,12.98 122,14.4 C128,15.82 131.18,15.17 132.6,18.7 C134.02,22.23 133.67,30.67 130.5,35.6 C127.33,40.53 119.25,44.42 113.6,48.3 C107.95,52.18 102.97,55.72 96.6,58.9 C90.23,62.08 81.75,64.93 75.4,67.4 C69.05,69.87 63.08,71.23 58.5,73.7 C53.92,76.17 49.32,82.2 47.9,82.2 C46.48,82.2 48.23,76.52 50,73.7 C51.77,70.88 55.67,68.83 58.5,65.3 C61.33,61.77 65.58,57.45 67,52.5 C68.42,47.55 67,40.88 67,35.6 C67,30.32 62.07,25.03 67,20.8Z" fill="#3a3a3a" filter="url(#bl4)" opacity="1"/>
<path d="M67,20.8 C71.93,16.57 87.43,11.27 96.6,10.2 C105.77,9.13 116,12.98 122,14.4 C128,15.82 131.18,15.17 132.6,18.7 C134.02,22.23 133.67,30.67 130.5,35.6 C127.33,40.53 119.25,44.42 113.6,48.3 C107.95,52.18 102.97,55.72 96.6,58.9 C90.23,62.08 81.75,64.93 75.4,67.4 C69.05,69.87 63.08,71.23 58.5,73.7 C53.92,76.17 49.32,82.2 47.9,82.2 C46.48,82.2 48.23,76.52 50,73.7 C51.77,70.88 55.67,68.83 58.5,65.3 C61.33,61.77 65.58,57.45 67,52.5 C68.42,47.55 67,40.88 67,35.6 C67,30.32 62.07,25.03 67,20.8Z" fill="none" stroke="#fff" stroke-width="2" stroke-dasharray="6 4"/>
<rect x="6.6" y="5" width="55.3" height="55.3" fill="#6a6a6a" stroke="#e3268a" stroke-width="4"/>
<circle cx="34.1" cy="30" r="8" fill="#fff" filter="url(#bl2)"/>
<rect x="111.8" y="23.3" width="14.4" height="14.4" fill="none" stroke="#e3268a" stroke-width="2.6"/>
<circle cx="119" cy="30.5" r="2.5" fill="#fff"/>
</g></g>
<g transform="translate(1528.6,804.4)"><g clip-path="url(#c24)">
<rect x="0" y="0" width="168.8" height="92.4" fill="#1c3539"/>
<path d="M67,20.8 C71.93,16.57 87.43,11.27 96.6,10.2 C105.77,9.13 116,12.98 122,14.4 C128,15.82 131.18,15.17 132.6,18.7 C134.02,22.23 133.67,30.67 130.5,35.6 C127.33,40.53 119.25,44.42 113.6,48.3 C107.95,52.18 102.97,55.72 96.6,58.9 C90.23,62.08 81.75,64.93 75.4,67.4 C69.05,69.87 63.08,71.23 58.5,73.7 C53.92,76.17 49.32,82.2 47.9,82.2 C46.48,82.2 48.23,76.52 50,73.7 C51.77,70.88 55.67,68.83 58.5,65.3 C61.33,61.77 65.58,57.45 67,52.5 C68.42,47.55 67,40.88 67,35.6 C67,30.32 62.07,25.03 67,20.8Z" fill="#5a2569" filter="url(#bl4)" opacity="1"/>
<ellipse cx="100" cy="40" rx="30" ry="20" fill="#6a2a7a" filter="url(#bl12)"/>
<path d="M67,20.8 C71.93,16.57 87.43,11.27 96.6,10.2 C105.77,9.13 116,12.98 122,14.4 C128,15.82 131.18,15.17 132.6,18.7 C134.02,22.23 133.67,30.67 130.5,35.6 C127.33,40.53 119.25,44.42 113.6,48.3 C107.95,52.18 102.97,55.72 96.6,58.9 C90.23,62.08 81.75,64.93 75.4,67.4 C69.05,69.87 63.08,71.23 58.5,73.7 C53.92,76.17 49.32,82.2 47.9,82.2 C46.48,82.2 48.23,76.52 50,73.7 C51.77,70.88 55.67,68.83 58.5,65.3 C61.33,61.77 65.58,57.45 67,52.5 C68.42,47.55 67,40.88 67,35.6 C67,30.32 62.07,25.03 67,20.8Z" fill="none" stroke="#fff" stroke-width="2" stroke-dasharray="6 4"/>
<circle cx="113" cy="32" r="4" fill="#e8e35a"/>
<circle cx="90" cy="50" r="1.5" fill="#e8e35a"/>
<circle cx="100" cy="60" r="1.5" fill="#e8e35a"/>
<circle cx="70" cy="60" r="1.5" fill="#e8e35a"/>
</g></g>
<text x="1744.2" y="498.2" font-size="34" fill="#231f20" font-weight="bold" stroke="#231f20" stroke-width="0.9">h</text>
<text x="1820.7" y="498.2" font-size="25" fill="#231f20"><tspan font-style="italic">n</tspan> = 126</text>
<text x="1943" y="498.2" font-size="25" fill="#231f20" text-anchor="middle">39</text>
<text x="1998.7" y="498.2" font-size="25" fill="#231f20" text-anchor="middle">7</text>
<line x1="1850.1" y1="521" x2="1850.1" y2="801.8" stroke="#231f20" stroke-width="1.4" />
<line x1="1840.5" y1="801.8" x2="1850.1" y2="801.8" stroke="#231f20" stroke-width="1.4" />
<text x="1827.9" y="810.75" font-size="25" fill="#231f20" text-anchor="end">0</text>
<line x1="1840.5" y1="773.72" x2="1850.1" y2="773.72" stroke="#231f20" stroke-width="1.4" />
<line x1="1840.5" y1="745.64" x2="1850.1" y2="745.64" stroke="#231f20" stroke-width="1.4" />
<text x="1827.9" y="754.59" font-size="25" fill="#231f20" text-anchor="end">20</text>
<line x1="1840.5" y1="717.56" x2="1850.1" y2="717.56" stroke="#231f20" stroke-width="1.4" />
<line x1="1840.5" y1="689.48" x2="1850.1" y2="689.48" stroke="#231f20" stroke-width="1.4" />
<text x="1827.9" y="698.43" font-size="25" fill="#231f20" text-anchor="end">40</text>
<line x1="1840.5" y1="661.4" x2="1850.1" y2="661.4" stroke="#231f20" stroke-width="1.4" />
<line x1="1840.5" y1="633.32" x2="1850.1" y2="633.32" stroke="#231f20" stroke-width="1.4" />
<text x="1827.9" y="642.27" font-size="25" fill="#231f20" text-anchor="end">60</text>
<line x1="1840.5" y1="605.24" x2="1850.1" y2="605.24" stroke="#231f20" stroke-width="1.4" />
<line x1="1840.5" y1="577.16" x2="1850.1" y2="577.16" stroke="#231f20" stroke-width="1.4" />
<text x="1827.9" y="586.11" font-size="25" fill="#231f20" text-anchor="end">80</text>
<line x1="1840.5" y1="549.08" x2="1850.1" y2="549.08" stroke="#231f20" stroke-width="1.4" />
<line x1="1840.5" y1="521" x2="1850.1" y2="521" stroke="#231f20" stroke-width="1.4" />
<text x="1827.9" y="529.95" font-size="25" fill="#231f20" text-anchor="end">100</text>
<rect x="1869" y="521" width="36.1" height="280.8" fill="#fff" stroke="#555" stroke-width="1.3" />
<rect x="1925.4" y="521" width="36.6" height="280.8" fill="#fff" stroke="#555" stroke-width="1.3" />
<rect x="1925.4" y="777.2" width="36.6" height="24.6" fill="#e6197f" stroke="#555" stroke-width="1.3" />
<rect x="1981.6" y="521" width="36.3" height="280.8" fill="#e6197f" stroke="#555" stroke-width="1.3" />
<line x1="1943.5" y1="521" x2="1943.5" y2="557.3" stroke="#555" stroke-width="1.3" />
<line x1="1939" y1="557.3" x2="1948.5" y2="557.3" stroke="#555" stroke-width="1.3" />
<line x1="1943.5" y1="777.2" x2="1943.5" y2="740" stroke="#555" stroke-width="1.3" />
<line x1="1939" y1="740" x2="1948.5" y2="740" stroke="#555" stroke-width="1.3" />
<line x1="1840.5" y1="801.8" x2="2037.7" y2="801.8" stroke="#555" stroke-width="1.4" />
<line x1="1887" y1="801.8" x2="1887" y2="811.4" stroke="#555" stroke-width="1.4" />
<line x1="1943.3" y1="801.8" x2="1943.3" y2="811.4" stroke="#555" stroke-width="1.4" />
<line x1="1999.2" y1="801.8" x2="1999.2" y2="811.4" stroke="#555" stroke-width="1.4" />
<text x="2031" y="545" font-size="25" fill="#231f20">Antigenome</text>
<rect x="2027" y="560.4" width="25" height="25.1" fill="#fff" stroke="#555" stroke-width="1.3" />
<text x="2063" y="582.5" font-size="25" fill="#231f20">–</text>
<rect x="2027" y="602.7" width="25" height="24.6" fill="#e6197f" stroke="#555" stroke-width="1.3" />
<text x="2063" y="625" font-size="25" fill="#231f20">+</text>
<text x="1867.3" y="840" font-size="25" fill="#231f20" text-anchor="end">Fusion</text>
<text x="1867.3" y="871.5" font-size="25" fill="#231f20" text-anchor="end">Replication</text>
<text x="1887.7" y="840" font-size="25" fill="#231f20" text-anchor="middle">–</text>
<text x="1887.7" y="871.5" font-size="25" fill="#231f20" text-anchor="middle">–</text>
<text x="1943.8" y="840" font-size="25" fill="#231f20" text-anchor="middle">+</text>
<text x="1943.8" y="871.5" font-size="25" fill="#231f20" text-anchor="middle">–</text>
<text x="1999.5" y="840" font-size="25" fill="#231f20" text-anchor="middle">+</text>
<text x="1999.5" y="871.5" font-size="25" fill="#231f20" text-anchor="middle">+</text>
<text transform="translate(1764.3,662) rotate(-90)" x="0" y="0" font-size="25" fill="#231f20" text-anchor="middle">Infected cells (%)</text>
<text x="2" y="1041.8" font-size="35" fill="#231f20" font-weight="bold" stroke="#231f20" stroke-width="0.9">i</text>
<text x="142.6" y="1056.4" font-size="25" fill="#15a06c">P<tspan dy="-10" font-size="16">exo</tspan></text>
<text x="282" y="1056.4" font-size="25" fill="#1f78c0">DARPin-P</text>
<text x="476" y="1056.4" font-size="25" fill="#e3268a">AbG</text>
<text x="649.3" y="1056.4" font-size="25" fill="#231f20">Merge</text>
<text x="887.6" y="1056.4" font-size="25" fill="#15a06c">P<tspan dy="-10" font-size="16">exo</tspan></text>
<text x="1027.8" y="1056.4" font-size="25" fill="#1f78c0">DARPin-P</text>
<text x="1221.4" y="1056.4" font-size="25" fill="#e3268a">AbG</text>
<text x="1395.5" y="1056.4" font-size="25" fill="#231f20">Merge</text>
<text transform="translate(63.7,1315.5) rotate(-90)" x="0" y="0" font-size="25" fill="#231f20" text-anchor="middle">DARPin-P<tspan dy="-9" font-size="15">−</tspan><tspan dy="9"> vRNP</tspan></text>
<text transform="translate(811.9,1318.5) rotate(-90)" x="0" y="0" font-size="25" fill="#231f20" text-anchor="middle">DARPin-P<tspan dy="-9" font-size="15">+</tspan><tspan dy="9"> vRNP</tspan></text>
<g transform="translate(76.9,1063.7)"><g clip-path="url(#c25)">
<rect x="0" y="0" width="170.6" height="163" fill="#858585"/>
<ellipse cx="40" cy="30" rx="70" ry="48" fill="#b2b2b2" filter="url(#bl28)"/>
<ellipse cx="10" cy="63" rx="18" ry="19" fill="#303030" filter="url(#bl10)"/>
<ellipse cx="100" cy="8" rx="35" ry="12" fill="#5a5a5a" filter="url(#bl12)"/>
<ellipse cx="6" cy="72" rx="14" ry="22" fill="#303030" filter="url(#bl10)"/>
<ellipse cx="165" cy="66" rx="18" ry="30" fill="#282828" filter="url(#bl10)"/>
<ellipse cx="14" cy="152" rx="26" ry="20" fill="#333" filter="url(#bl10)"/>
<ellipse cx="88" cy="96" rx="33" ry="23" fill="#383838" filter="url(#bl10)"/>
<ellipse cx="100" cy="130" rx="25" ry="15" fill="#666" filter="url(#bl16)"/>
<path d="M59,41.7 C62.58,38.87 68.38,36.15 74.2,34.5 C80.02,32.85 86.75,32.25 93.9,31.8 C101.05,31.35 110.85,30.9 117.1,31.8 C123.35,32.7 127.23,33.92 131.4,37.2 C135.57,40.48 140.02,46.43 142.1,51.5 C144.18,56.57 143.9,60.75 143.9,67.6 C143.9,74.45 144.18,86.95 142.1,92.6 C140.02,98.25 135.87,98.22 131.4,101.5 C126.93,104.78 120.07,108.12 115.3,112.3 C110.53,116.48 107.87,123.48 102.8,126.6 C97.73,129.72 90.87,130.57 84.9,131 C78.93,131.43 73.25,130.83 67,129.2 C60.75,127.57 53.05,124.92 47.4,121.2 C41.75,117.48 37.13,111.37 33.1,106.9 C29.07,102.43 25.15,97.97 23.2,94.4 C21.25,90.83 20.95,89.38 21.4,85.5 C21.85,81.62 24.4,74.53 25.9,71.1 C27.4,67.67 27.72,66.98 30.4,64.9 C33.08,62.82 38.28,60.83 42,58.6 C45.72,56.37 49.87,54.32 52.7,51.5 C55.53,48.68 55.42,44.53 59,41.7Z" fill="none" stroke="#fff" stroke-width="2.3" stroke-dasharray="8 5"/>
<circle cx="61.7" cy="47" r="2.4" fill="#fff"/>
<circle cx="142" cy="31" r="2.8" fill="#fff"/>
<path d="M65,53.5 L88.3,62.6 L77.4,66.1 L74.8,76.5 z" fill="#f39325"/>
<text x="162.7" y="156.5" font-size="24.3" fill="#fff" text-anchor="end">0:00 (h:min)</text>
<rect x="5.4" y="5.9" width="42.5" height="5" fill="#fff"/>
</g></g>
<g transform="translate(253.4,1063.7)"><g clip-path="url(#c26)">
<rect x="0" y="0" width="170.6" height="163" fill="#2c2c2c"/>
<path d="M59,41.7 C62.58,38.87 68.38,36.15 74.2,34.5 C80.02,32.85 86.75,32.25 93.9,31.8 C101.05,31.35 110.85,30.9 117.1,31.8 C123.35,32.7 127.23,33.92 131.4,37.2 C135.57,40.48 140.02,46.43 142.1,51.5 C144.18,56.57 143.9,60.75 143.9,67.6 C143.9,74.45 144.18,86.95 142.1,92.6 C140.02,98.25 135.87,98.22 131.4,101.5 C126.93,104.78 120.07,108.12 115.3,112.3 C110.53,116.48 107.87,123.48 102.8,126.6 C97.73,129.72 90.87,130.57 84.9,131 C78.93,131.43 73.25,130.83 67,129.2 C60.75,127.57 53.05,124.92 47.4,121.2 C41.75,117.48 37.13,111.37 33.1,106.9 C29.07,102.43 25.15,97.97 23.2,94.4 C21.25,90.83 20.95,89.38 21.4,85.5 C21.85,81.62 24.4,74.53 25.9,71.1 C27.4,67.67 27.72,66.98 30.4,64.9 C33.08,62.82 38.28,60.83 42,58.6 C45.72,56.37 49.87,54.32 52.7,51.5 C55.53,48.68 55.42,44.53 59,41.7Z" fill="none" stroke="#fff" stroke-width="2.3" stroke-dasharray="8 5"/>
</g></g>
<g transform="translate(426.2,1063.7)"><g clip-path="url(#c27)">
<rect x="0" y="0" width="170.6" height="163" fill="#0c0c0c"/>
<path d="M59,41.7 C62.58,38.87 68.38,36.15 74.2,34.5 C80.02,32.85 86.75,32.25 93.9,31.8 C101.05,31.35 110.85,30.9 117.1,31.8 C123.35,32.7 127.23,33.92 131.4,37.2 C135.57,40.48 140.02,46.43 142.1,51.5 C144.18,56.57 143.9,60.75 143.9,67.6 C143.9,74.45 144.18,86.95 142.1,92.6 C140.02,98.25 135.87,98.22 131.4,101.5 C126.93,104.78 120.07,108.12 115.3,112.3 C110.53,116.48 107.87,123.48 102.8,126.6 C97.73,129.72 90.87,130.57 84.9,131 C78.93,131.43 73.25,130.83 67,129.2 C60.75,127.57 53.05,124.92 47.4,121.2 C41.75,117.48 37.13,111.37 33.1,106.9 C29.07,102.43 25.15,97.97 23.2,94.4 C21.25,90.83 20.95,89.38 21.4,85.5 C21.85,81.62 24.4,74.53 25.9,71.1 C27.4,67.67 27.72,66.98 30.4,64.9 C33.08,62.82 38.28,60.83 42,58.6 C45.72,56.37 49.87,54.32 52.7,51.5 C55.53,48.68 55.42,44.53 59,41.7Z" fill="none" stroke="#fff" stroke-width="2.3" stroke-dasharray="8 5"/>
</g></g>
<g transform="translate(600.3,1063.7)"><g clip-path="url(#c28)">
<rect x="0" y="0" width="170.6" height="163" fill="#18777d"/>
<ellipse cx="40" cy="35" rx="60" ry="40" fill="#22a0a5" filter="url(#bl24)"/>
<ellipse cx="88" cy="96" rx="33" ry="23" fill="#0a3c44" filter="url(#bl10)"/>
<ellipse cx="6" cy="72" rx="14" ry="22" fill="#062c33" filter="url(#bl10)"/>
<ellipse cx="165" cy="66" rx="18" ry="30" fill="#062c33" filter="url(#bl10)"/>
<ellipse cx="14" cy="152" rx="26" ry="20" fill="#083038" filter="url(#bl10)"/>
<ellipse cx="100" cy="8" rx="35" ry="12" fill="#0c4a52" filter="url(#bl12)"/>
<path d="M59,41.7 C62.58,38.87 68.38,36.15 74.2,34.5 C80.02,32.85 86.75,32.25 93.9,31.8 C101.05,31.35 110.85,30.9 117.1,31.8 C123.35,32.7 127.23,33.92 131.4,37.2 C135.57,40.48 140.02,46.43 142.1,51.5 C144.18,56.57 143.9,60.75 143.9,67.6 C143.9,74.45 144.18,86.95 142.1,92.6 C140.02,98.25 135.87,98.22 131.4,101.5 C126.93,104.78 120.07,108.12 115.3,112.3 C110.53,116.48 107.87,123.48 102.8,126.6 C97.73,129.72 90.87,130.57 84.9,131 C78.93,131.43 73.25,130.83 67,129.2 C60.75,127.57 53.05,124.92 47.4,121.2 C41.75,117.48 37.13,111.37 33.1,106.9 C29.07,102.43 25.15,97.97 23.2,94.4 C21.25,90.83 20.95,89.38 21.4,85.5 C21.85,81.62 24.4,74.53 25.9,71.1 C27.4,67.67 27.72,66.98 30.4,64.9 C33.08,62.82 38.28,60.83 42,58.6 C45.72,56.37 49.87,54.32 52.7,51.5 C55.53,48.68 55.42,44.53 59,41.7Z" fill="none" stroke="#fff" stroke-width="2.3" stroke-dasharray="8 5"/>
<circle cx="61.7" cy="47" r="2.4" fill="#5ff"/>
<circle cx="142" cy="31" r="2.8" fill="#5ff"/>
<path d="M65,53.5 L88.3,62.6 L77.4,66.1 L74.8,76.5 z" fill="#f39325"/>
</g></g>
<g transform="translate(76.9,1233.4)"><g clip-path="url(#c29)">
<rect x="0" y="0" width="170.6" height="163" fill="#5a5a5a"/>
<ellipse cx="30" cy="65" rx="40" ry="14" fill="#6a6a6a" filter="url(#bl12)"/>
<ellipse cx="15" cy="18" rx="24" ry="23" fill="#232323" filter="url(#bl10)"/>
<ellipse cx="20" cy="78" rx="21" ry="27" fill="#2a2a2a" filter="url(#bl10)"/>
<ellipse cx="105" cy="99" rx="23" ry="35" fill="#2b2b2b" filter="url(#bl12)"/>
<ellipse cx="160" cy="25" rx="14" ry="30" fill="#262626" filter="url(#bl10)"/>
<ellipse cx="152" cy="130" rx="24" ry="30" fill="#2a2a2a" filter="url(#bl12)"/>
<ellipse cx="40" cy="140" rx="40" ry="22" fill="#727272" filter="url(#bl16)"/>
<path d="M58.1,9.3 C62.27,6.77 69.43,6.3 74.2,6.6 C78.97,6.9 82.53,8.27 86.7,11.1 C90.87,13.93 95.32,20.33 99.2,23.6 C103.08,26.87 106.12,28.62 110,30.7 C113.88,32.78 118.93,33.12 122.5,36.1 C126.07,39.08 128.73,43.53 131.4,48.6 C134.07,53.67 137.6,60.53 138.5,66.5 C139.4,72.47 137.98,78.15 136.8,84.4 C135.62,90.65 133.5,98.05 131.4,104 C129.3,109.95 125.98,115.03 124.2,120.1 C122.42,125.17 122.73,129.42 120.7,134.4 C118.67,139.38 115.58,147.92 112,150 C108.42,152.08 103.12,149.2 99.2,146.9 C95.28,144.6 92.07,138.28 88.5,136.2 C84.93,134.12 81.08,133.8 77.8,134.4 C74.52,135 72.38,140.38 68.8,139.8 C65.22,139.22 59.57,135.37 56.3,130.9 C53.03,126.43 50.68,119.57 49.2,113 C47.72,106.43 48.28,100.45 47.4,91.5 C46.52,82.55 44.35,67.93 43.9,59.3 C43.45,50.67 43.82,45.95 44.7,39.7 C45.58,33.45 46.97,26.87 49.2,21.8 C51.43,16.73 53.93,11.83 58.1,9.3Z" fill="none" stroke="#fff" stroke-width="2.3" stroke-dasharray="8 5"/>
<circle cx="142" cy="27" r="2.5" fill="#fff"/>
<circle cx="69.5" cy="93" r="2.2" fill="#fff"/>
<text x="167" y="158" font-size="24.3" fill="#fff" text-anchor="end">10:40</text>
</g></g>
<g transform="translate(253.4,1233.4)"><g clip-path="url(#c30)">
<rect x="0" y="0" width="170.6" height="163" fill="#2c2c2c"/>
<path d="M58.1,9.3 C62.27,6.77 69.43,6.3 74.2,6.6 C78.97,6.9 82.53,8.27 86.7,11.1 C90.87,13.93 95.32,20.33 99.2,23.6 C103.08,26.87 106.12,28.62 110,30.7 C113.88,32.78 118.93,33.12 122.5,36.1 C126.07,39.08 128.73,43.53 131.4,48.6 C134.07,53.67 137.6,60.53 138.5,66.5 C139.4,72.47 137.98,78.15 136.8,84.4 C135.62,90.65 133.5,98.05 131.4,104 C129.3,109.95 125.98,115.03 124.2,120.1 C122.42,125.17 122.73,129.42 120.7,134.4 C118.67,139.38 115.58,147.92 112,150 C108.42,152.08 103.12,149.2 99.2,146.9 C95.28,144.6 92.07,138.28 88.5,136.2 C84.93,134.12 81.08,133.8 77.8,134.4 C74.52,135 72.38,140.38 68.8,139.8 C65.22,139.22 59.57,135.37 56.3,130.9 C53.03,126.43 50.68,119.57 49.2,113 C47.72,106.43 48.28,100.45 47.4,91.5 C46.52,82.55 44.35,67.93 43.9,59.3 C43.45,50.67 43.82,45.95 44.7,39.7 C45.58,33.45 46.97,26.87 49.2,21.8 C51.43,16.73 53.93,11.83 58.1,9.3Z" fill="none" stroke="#fff" stroke-width="2.3" stroke-dasharray="8 5"/>
</g></g>
<g transform="translate(426.2,1233.4)"><g clip-path="url(#c31)">
<rect x="0" y="0" width="170.6" height="163" fill="#0c0c0c"/>
<path d="M58.1,9.3 C62.27,6.77 69.43,6.3 74.2,6.6 C78.97,6.9 82.53,8.27 86.7,11.1 C90.87,13.93 95.32,20.33 99.2,23.6 C103.08,26.87 106.12,28.62 110,30.7 C113.88,32.78 118.93,33.12 122.5,36.1 C126.07,39.08 128.73,43.53 131.4,48.6 C134.07,53.67 137.6,60.53 138.5,66.5 C139.4,72.47 137.98,78.15 136.8,84.4 C135.62,90.65 133.5,98.05 131.4,104 C129.3,109.95 125.98,115.03 124.2,120.1 C122.42,125.17 122.73,129.42 120.7,134.4 C118.67,139.38 115.58,147.92 112,150 C108.42,152.08 103.12,149.2 99.2,146.9 C95.28,144.6 92.07,138.28 88.5,136.2 C84.93,134.12 81.08,133.8 77.8,134.4 C74.52,135 72.38,140.38 68.8,139.8 C65.22,139.22 59.57,135.37 56.3,130.9 C53.03,126.43 50.68,119.57 49.2,113 C47.72,106.43 48.28,100.45 47.4,91.5 C46.52,82.55 44.35,67.93 43.9,59.3 C43.45,50.67 43.82,45.95 44.7,39.7 C45.58,33.45 46.97,26.87 49.2,21.8 C51.43,16.73 53.93,11.83 58.1,9.3Z" fill="none" stroke="#fff" stroke-width="2.3" stroke-dasharray="8 5"/>
</g></g>
<g transform="translate(600.3,1233.4)"><g clip-path="url(#c32)">
<rect x="0" y="0" width="170.6" height="163" fill="#18777d"/>
<ellipse cx="15" cy="18" rx="24" ry="23" fill="#07323a" filter="url(#bl10)"/>
<ellipse cx="20" cy="78" rx="21" ry="27" fill="#083640" filter="url(#bl10)"/>
<ellipse cx="105" cy="99" rx="23" ry="35" fill="#0a3e46" filter="url(#bl12)"/>
<ellipse cx="160" cy="25" rx="14" ry="30" fill="#07323a" filter="url(#bl10)"/>
<ellipse cx="152" cy="130" rx="24" ry="30" fill="#083640" filter="url(#bl12)"/>
<path d="M58.1,9.3 C62.27,6.77 69.43,6.3 74.2,6.6 C78.97,6.9 82.53,8.27 86.7,11.1 C90.87,13.93 95.32,20.33 99.2,23.6 C103.08,26.87 106.12,28.62 110,30.7 C113.88,32.78 118.93,33.12 122.5,36.1 C126.07,39.08 128.73,43.53 131.4,48.6 C134.07,53.67 137.6,60.53 138.5,66.5 C139.4,72.47 137.98,78.15 136.8,84.4 C135.62,90.65 133.5,98.05 131.4,104 C129.3,109.95 125.98,115.03 124.2,120.1 C122.42,125.17 122.73,129.42 120.7,134.4 C118.67,139.38 115.58,147.92 112,150 C108.42,152.08 103.12,149.2 99.2,146.9 C95.28,144.6 92.07,138.28 88.5,136.2 C84.93,134.12 81.08,133.8 77.8,134.4 C74.52,135 72.38,140.38 68.8,139.8 C65.22,139.22 59.57,135.37 56.3,130.9 C53.03,126.43 50.68,119.57 49.2,113 C47.72,106.43 48.28,100.45 47.4,91.5 C46.52,82.55 44.35,67.93 43.9,59.3 C43.45,50.67 43.82,45.95 44.7,39.7 C45.58,33.45 46.97,26.87 49.2,21.8 C51.43,16.73 53.93,11.83 58.1,9.3Z" fill="none" stroke="#fff" stroke-width="2.3" stroke-dasharray="8 5"/>
<circle cx="142" cy="27" r="2.5" fill="#5ff"/>
<circle cx="69.5" cy="93" r="2.2" fill="#5ff"/>
</g></g>
<g transform="translate(76.9,1400.8)"><g clip-path="url(#c33)">
<rect x="0" y="0" width="170.6" height="163" fill="#585858"/>
<ellipse cx="75" cy="98" rx="52" ry="36" fill="#383838" filter="url(#bl16)"/>
<ellipse cx="148" cy="22" rx="26" ry="22" fill="#444" filter="url(#bl16)"/>
<ellipse cx="5" cy="52" rx="12" ry="28" fill="#3a3a3a" filter="url(#bl12)"/>
<ellipse cx="160" cy="140" rx="15" ry="30" fill="#777" filter="url(#bl12)"/>
<ellipse cx="40" cy="155" rx="40" ry="12" fill="#686868" filter="url(#bl12)"/>
<path d="M34.7,15.5 C39.02,13.5 49.97,13.17 56.6,13.5 C63.23,13.83 69.2,13.83 74.5,17.5 C79.8,21.17 82.75,30.85 88.4,35.5 C94.05,40.15 100.43,41.08 108.4,45.4 C116.37,49.72 128.9,56.08 136.2,61.4 C143.5,66.72 147.53,70.67 152.2,77.3 C156.87,83.93 162.55,93.23 164.2,101.2 C165.85,109.17 164.1,119.45 162.1,125.1 C160.1,130.75 157.83,132.45 152.2,135.1 C146.57,137.75 140.25,139.35 128.3,141 C116.35,142.65 93.12,145.67 80.5,145 C67.88,144.33 59.25,138.98 52.6,137 C45.95,135.02 45.25,133.42 40.6,133.1 C35.95,132.78 30,136.43 24.7,135.1 C19.4,133.77 11.12,130.75 8.8,125.1 C6.48,119.45 9.15,108.5 10.8,101.2 C12.45,93.9 15.72,90.6 18.7,81.3 C21.68,72 26.7,54.7 28.7,45.4 C30.7,36.1 29.7,30.48 30.7,25.5 C31.7,20.52 30.38,17.5 34.7,15.5Z" fill="none" stroke="#fff" stroke-width="2.3" stroke-dasharray="8 5"/>
<circle cx="95" cy="24" r="1.8" fill="#fff"/>
<circle cx="156" cy="127" r="2" fill="#fff"/>
<text x="167.5" y="158.5" font-size="24.3" fill="#fff" text-anchor="end">25:00</text>
</g></g>
<g transform="translate(253.4,1400.8)"><g clip-path="url(#c34)">
<rect x="0" y="0" width="170.6" height="163" fill="#2c2c2c"/>
<path d="M34.7,15.5 C39.02,13.5 49.97,13.17 56.6,13.5 C63.23,13.83 69.2,13.83 74.5,17.5 C79.8,21.17 82.75,30.85 88.4,35.5 C94.05,40.15 100.43,41.08 108.4,45.4 C116.37,49.72 128.9,56.08 136.2,61.4 C143.5,66.72 147.53,70.67 152.2,77.3 C156.87,83.93 162.55,93.23 164.2,101.2 C165.85,109.17 164.1,119.45 162.1,125.1 C160.1,130.75 157.83,132.45 152.2,135.1 C146.57,137.75 140.25,139.35 128.3,141 C116.35,142.65 93.12,145.67 80.5,145 C67.88,144.33 59.25,138.98 52.6,137 C45.95,135.02 45.25,133.42 40.6,133.1 C35.95,132.78 30,136.43 24.7,135.1 C19.4,133.77 11.12,130.75 8.8,125.1 C6.48,119.45 9.15,108.5 10.8,101.2 C12.45,93.9 15.72,90.6 18.7,81.3 C21.68,72 26.7,54.7 28.7,45.4 C30.7,36.1 29.7,30.48 30.7,25.5 C31.7,20.52 30.38,17.5 34.7,15.5Z" fill="none" stroke="#fff" stroke-width="2.3" stroke-dasharray="8 5"/>
</g></g>
<g transform="translate(426.2,1400.8)"><g clip-path="url(#c35)">
<rect x="0" y="0" width="170.6" height="163" fill="#0c0c0c"/>
<path d="M34.7,15.5 C39.02,13.5 49.97,13.17 56.6,13.5 C63.23,13.83 69.2,13.83 74.5,17.5 C79.8,21.17 82.75,30.85 88.4,35.5 C94.05,40.15 100.43,41.08 108.4,45.4 C116.37,49.72 128.9,56.08 136.2,61.4 C143.5,66.72 147.53,70.67 152.2,77.3 C156.87,83.93 162.55,93.23 164.2,101.2 C165.85,109.17 164.1,119.45 162.1,125.1 C160.1,130.75 157.83,132.45 152.2,135.1 C146.57,137.75 140.25,139.35 128.3,141 C116.35,142.65 93.12,145.67 80.5,145 C67.88,144.33 59.25,138.98 52.6,137 C45.95,135.02 45.25,133.42 40.6,133.1 C35.95,132.78 30,136.43 24.7,135.1 C19.4,133.77 11.12,130.75 8.8,125.1 C6.48,119.45 9.15,108.5 10.8,101.2 C12.45,93.9 15.72,90.6 18.7,81.3 C21.68,72 26.7,54.7 28.7,45.4 C30.7,36.1 29.7,30.48 30.7,25.5 C31.7,20.52 30.38,17.5 34.7,15.5Z" fill="none" stroke="#fff" stroke-width="2.3" stroke-dasharray="8 5"/>
<circle cx="154" cy="28" r="3.5" fill="#fff"/>
<circle cx="15" cy="148" r="1" fill="#fff"/>
<circle cx="25" cy="150" r="1.2" fill="#fff"/>
<circle cx="40" cy="147" r="1" fill="#fff"/>
<circle cx="28" cy="157" r="1.5" fill="#fff"/>
<circle cx="45" cy="155" r="1" fill="#fff"/>
</g></g>
<g transform="translate(600.3,1400.8)"><g clip-path="url(#c36)">
<rect x="0" y="0" width="170.6" height="163" fill="#18777d"/>
<ellipse cx="75" cy="98" rx="52" ry="36" fill="#0d4a52" filter="url(#bl16)"/>
<ellipse cx="148" cy="22" rx="26" ry="22" fill="#0f525a" filter="url(#bl16)"/>
<ellipse cx="5" cy="52" rx="12" ry="28" fill="#0d4a52" filter="url(#bl12)"/>
<path d="M34.7,15.5 C39.02,13.5 49.97,13.17 56.6,13.5 C63.23,13.83 69.2,13.83 74.5,17.5 C79.8,21.17 82.75,30.85 88.4,35.5 C94.05,40.15 100.43,41.08 108.4,45.4 C116.37,49.72 128.9,56.08 136.2,61.4 C143.5,66.72 147.53,70.67 152.2,77.3 C156.87,83.93 162.55,93.23 164.2,101.2 C165.85,109.17 164.1,119.45 162.1,125.1 C160.1,130.75 157.83,132.45 152.2,135.1 C146.57,137.75 140.25,139.35 128.3,141 C116.35,142.65 93.12,145.67 80.5,145 C67.88,144.33 59.25,138.98 52.6,137 C45.95,135.02 45.25,133.42 40.6,133.1 C35.95,132.78 30,136.43 24.7,135.1 C19.4,133.77 11.12,130.75 8.8,125.1 C6.48,119.45 9.15,108.5 10.8,101.2 C12.45,93.9 15.72,90.6 18.7,81.3 C21.68,72 26.7,54.7 28.7,45.4 C30.7,36.1 29.7,30.48 30.7,25.5 C31.7,20.52 30.38,17.5 34.7,15.5Z" fill="none" stroke="#fff" stroke-width="2.3" stroke-dasharray="8 5"/>
<circle cx="95" cy="24" r="2" fill="#5ff"/>
<circle cx="156" cy="127" r="2.2" fill="#5ff"/>
<ellipse cx="150" cy="27" rx="5" ry="3" fill="#d63cc8"/>
<circle cx="6" cy="150" r="1.5" fill="#c03cb8"/>
<circle cx="12" cy="154" r="1.5" fill="#c03cb8"/>
<circle cx="20" cy="152" r="1.2" fill="#c03cb8"/>
<circle cx="24" cy="158" r="1.5" fill="#c03cb8"/>
<circle cx="10" cy="160" r="1.2" fill="#c03cb8"/>
</g></g>
<g transform="translate(823,1063.7)"><g clip-path="url(#c37)">
<rect x="0" y="0" width="170.6" height="163" fill="#4c4c4c"/>
<ellipse cx="88" cy="8" rx="25" ry="20" fill="#6a6a6a" filter="url(#bl16)"/>
<ellipse cx="3" cy="70" rx="10" ry="35" fill="#8a8a8a" filter="url(#bl12)"/>
<ellipse cx="25" cy="10" rx="35" ry="16" fill="#2e2e2e" filter="url(#bl12)"/>
<ellipse cx="28" cy="140" rx="30" ry="25" fill="#262626" filter="url(#bl12)"/>
<path d="M6.2,53.1 C7.83,48.38 9.92,47.77 14.2,46 C18.48,44.23 25.72,43.53 31.9,42.5 C38.08,41.47 46.3,41.72 51.3,39.8 C56.3,37.88 56.58,33.07 61.9,31 C67.22,28.93 76.4,27.25 83.2,27.4 C90,27.55 97.68,29.68 102.7,31.9 C107.72,34.12 110.35,37.17 113.3,40.7 C116.25,44.23 117.45,49.55 120.4,53.1 C123.35,56.65 126,59.78 131,62 C136,64.22 145.4,64.63 150.4,66.4 C155.4,68.17 159.82,69.5 161,72.6 C162.18,75.7 158.67,81.17 157.5,85 C156.33,88.83 154.28,92.07 154,95.6 C153.72,99.13 157.87,103.85 155.8,106.2 C153.73,108.55 146.33,108.82 141.6,109.7 C136.87,110.58 130.65,109.72 127.4,111.5 C124.15,113.28 124.45,117.6 122.1,120.4 C119.75,123.2 118.32,126.25 113.3,128.3 C108.28,130.35 99.08,132.85 92,132.7 C84.92,132.55 77.87,129.45 70.8,127.4 C63.73,125.35 55.5,123.35 49.6,120.4 C43.7,117.45 40.72,112.37 35.4,109.7 C30.08,107.03 22.42,106.75 17.7,104.4 C12.98,102.05 9.32,100.62 7.1,95.6 C4.88,90.58 4.55,81.38 4.4,74.3 C4.25,67.22 4.57,57.82 6.2,53.1Z" fill="#3c3c3c" filter="url(#bl6)" opacity="1"/>
<ellipse cx="138" cy="28" rx="30" ry="25" fill="#1a1a1a" filter="url(#bl8)"/>
<ellipse cx="62" cy="62" rx="37" ry="26" fill="#1c1c1c" filter="url(#bl8)" transform="rotate(-10,62,62)"/>
<ellipse cx="135" cy="120" rx="12" ry="8" fill="#262626" filter="url(#bl6)"/>
<path d="M6.2,53.1 C7.83,48.38 9.92,47.77 14.2,46 C18.48,44.23 25.72,43.53 31.9,42.5 C38.08,41.47 46.3,41.72 51.3,39.8 C56.3,37.88 56.58,33.07 61.9,31 C67.22,28.93 76.4,27.25 83.2,27.4 C90,27.55 97.68,29.68 102.7,31.9 C107.72,34.12 110.35,37.17 113.3,40.7 C116.25,44.23 117.45,49.55 120.4,53.1 C123.35,56.65 126,59.78 131,62 C136,64.22 145.4,64.63 150.4,66.4 C155.4,68.17 159.82,69.5 161,72.6 C162.18,75.7 158.67,81.17 157.5,85 C156.33,88.83 154.28,92.07 154,95.6 C153.72,99.13 157.87,103.85 155.8,106.2 C153.73,108.55 146.33,108.82 141.6,109.7 C136.87,110.58 130.65,109.72 127.4,111.5 C124.15,113.28 124.45,117.6 122.1,120.4 C119.75,123.2 118.32,126.25 113.3,128.3 C108.28,130.35 99.08,132.85 92,132.7 C84.92,132.55 77.87,129.45 70.8,127.4 C63.73,125.35 55.5,123.35 49.6,120.4 C43.7,117.45 40.72,112.37 35.4,109.7 C30.08,107.03 22.42,106.75 17.7,104.4 C12.98,102.05 9.32,100.62 7.1,95.6 C4.88,90.58 4.55,81.38 4.4,74.3 C4.25,67.22 4.57,57.82 6.2,53.1Z" fill="none" stroke="#fff" stroke-width="2.3" stroke-dasharray="8 5"/>
<circle cx="110.6" cy="116.8" r="3.5" fill="#fff"/>
<path d="M107,112.4 L95.6,89.4 L97.5,103 L83.2,102.3 z" fill="#7b4ea0"/>
<text x="161" y="156.5" font-size="24.3" fill="#fff" text-anchor="end">0:00 (h:min)</text>
</g></g>
<g transform="translate(998.3,1063.7)"><g clip-path="url(#c38)">
<rect x="0" y="0" width="170.6" height="163" fill="#2a2a2a"/>
<path d="M6.2,53.1 C7.83,48.38 9.92,47.77 14.2,46 C18.48,44.23 25.72,43.53 31.9,42.5 C38.08,41.47 46.3,41.72 51.3,39.8 C56.3,37.88 56.58,33.07 61.9,31 C67.22,28.93 76.4,27.25 83.2,27.4 C90,27.55 97.68,29.68 102.7,31.9 C107.72,34.12 110.35,37.17 113.3,40.7 C116.25,44.23 117.45,49.55 120.4,53.1 C123.35,56.65 126,59.78 131,62 C136,64.22 145.4,64.63 150.4,66.4 C155.4,68.17 159.82,69.5 161,72.6 C162.18,75.7 158.67,81.17 157.5,85 C156.33,88.83 154.28,92.07 154,95.6 C153.72,99.13 157.87,103.85 155.8,106.2 C153.73,108.55 146.33,108.82 141.6,109.7 C136.87,110.58 130.65,109.72 127.4,111.5 C124.15,113.28 124.45,117.6 122.1,120.4 C119.75,123.2 118.32,126.25 113.3,128.3 C108.28,130.35 99.08,132.85 92,132.7 C84.92,132.55 77.87,129.45 70.8,127.4 C63.73,125.35 55.5,123.35 49.6,120.4 C43.7,117.45 40.72,112.37 35.4,109.7 C30.08,107.03 22.42,106.75 17.7,104.4 C12.98,102.05 9.32,100.62 7.1,95.6 C4.88,90.58 4.55,81.38 4.4,74.3 C4.25,67.22 4.57,57.82 6.2,53.1Z" fill="none" stroke="#fff" stroke-width="2.3" stroke-dasharray="8 5"/>
<circle cx="110.6" cy="116.8" r="1.2" fill="#fff"/>
<path d="M107,112.4 L95.6,89.4 L97.5,103 L83.2,102.3 z" fill="#7b4ea0"/>
</g></g>
<g transform="translate(1172.4,1063.7)"><g clip-path="url(#c39)">
<rect x="0" y="0" width="170.6" height="163" fill="#070707"/>
<path d="M6.2,53.1 C7.83,48.38 9.92,47.77 14.2,46 C18.48,44.23 25.72,43.53 31.9,42.5 C38.08,41.47 46.3,41.72 51.3,39.8 C56.3,37.88 56.58,33.07 61.9,31 C67.22,28.93 76.4,27.25 83.2,27.4 C90,27.55 97.68,29.68 102.7,31.9 C107.72,34.12 110.35,37.17 113.3,40.7 C116.25,44.23 117.45,49.55 120.4,53.1 C123.35,56.65 126,59.78 131,62 C136,64.22 145.4,64.63 150.4,66.4 C155.4,68.17 159.82,69.5 161,72.6 C162.18,75.7 158.67,81.17 157.5,85 C156.33,88.83 154.28,92.07 154,95.6 C153.72,99.13 157.87,103.85 155.8,106.2 C153.73,108.55 146.33,108.82 141.6,109.7 C136.87,110.58 130.65,109.72 127.4,111.5 C124.15,113.28 124.45,117.6 122.1,120.4 C119.75,123.2 118.32,126.25 113.3,128.3 C108.28,130.35 99.08,132.85 92,132.7 C84.92,132.55 77.87,129.45 70.8,127.4 C63.73,125.35 55.5,123.35 49.6,120.4 C43.7,117.45 40.72,112.37 35.4,109.7 C30.08,107.03 22.42,106.75 17.7,104.4 C12.98,102.05 9.32,100.62 7.1,95.6 C4.88,90.58 4.55,81.38 4.4,74.3 C4.25,67.22 4.57,57.82 6.2,53.1Z" fill="none" stroke="#fff" stroke-width="2.3" stroke-dasharray="8 5"/>
</g></g>
<g transform="translate(1344.9,1063.7)"><g clip-path="url(#c40)">
<rect x="0" y="0" width="170.6" height="163" fill="#177075"/>
<ellipse cx="3" cy="70" rx="10" ry="35" fill="#22a0a5" filter="url(#bl12)"/>
<ellipse cx="25" cy="10" rx="35" ry="16" fill="#0c3a40" filter="url(#bl12)"/>
<path d="M6.2,53.1 C7.83,48.38 9.92,47.77 14.2,46 C18.48,44.23 25.72,43.53 31.9,42.5 C38.08,41.47 46.3,41.72 51.3,39.8 C56.3,37.88 56.58,33.07 61.9,31 C67.22,28.93 76.4,27.25 83.2,27.4 C90,27.55 97.68,29.68 102.7,31.9 C107.72,34.12 110.35,37.17 113.3,40.7 C116.25,44.23 117.45,49.55 120.4,53.1 C123.35,56.65 126,59.78 131,62 C136,64.22 145.4,64.63 150.4,66.4 C155.4,68.17 159.82,69.5 161,72.6 C162.18,75.7 158.67,81.17 157.5,85 C156.33,88.83 154.28,92.07 154,95.6 C153.72,99.13 157.87,103.85 155.8,106.2 C153.73,108.55 146.33,108.82 141.6,109.7 C136.87,110.58 130.65,109.72 127.4,111.5 C124.15,113.28 124.45,117.6 122.1,120.4 C119.75,123.2 118.32,126.25 113.3,128.3 C108.28,130.35 99.08,132.85 92,132.7 C84.92,132.55 77.87,129.45 70.8,127.4 C63.73,125.35 55.5,123.35 49.6,120.4 C43.7,117.45 40.72,112.37 35.4,109.7 C30.08,107.03 22.42,106.75 17.7,104.4 C12.98,102.05 9.32,100.62 7.1,95.6 C4.88,90.58 4.55,81.38 4.4,74.3 C4.25,67.22 4.57,57.82 6.2,53.1Z" fill="#135a60" filter="url(#bl6)" opacity="1"/>
<ellipse cx="138" cy="28" rx="30" ry="25" fill="#072a30" filter="url(#bl8)"/>
<ellipse cx="62" cy="62" rx="37" ry="26" fill="#072a30" filter="url(#bl8)" transform="rotate(-10,62,62)"/>
<path d="M6.2,53.1 C7.83,48.38 9.92,47.77 14.2,46 C18.48,44.23 25.72,43.53 31.9,42.5 C38.08,41.47 46.3,41.72 51.3,39.8 C56.3,37.88 56.58,33.07 61.9,31 C67.22,28.93 76.4,27.25 83.2,27.4 C90,27.55 97.68,29.68 102.7,31.9 C107.72,34.12 110.35,37.17 113.3,40.7 C116.25,44.23 117.45,49.55 120.4,53.1 C123.35,56.65 126,59.78 131,62 C136,64.22 145.4,64.63 150.4,66.4 C155.4,68.17 159.82,69.5 161,72.6 C162.18,75.7 158.67,81.17 157.5,85 C156.33,88.83 154.28,92.07 154,95.6 C153.72,99.13 157.87,103.85 155.8,106.2 C153.73,108.55 146.33,108.82 141.6,109.7 C136.87,110.58 130.65,109.72 127.4,111.5 C124.15,113.28 124.45,117.6 122.1,120.4 C119.75,123.2 118.32,126.25 113.3,128.3 C108.28,130.35 99.08,132.85 92,132.7 C84.92,132.55 77.87,129.45 70.8,127.4 C63.73,125.35 55.5,123.35 49.6,120.4 C43.7,117.45 40.72,112.37 35.4,109.7 C30.08,107.03 22.42,106.75 17.7,104.4 C12.98,102.05 9.32,100.62 7.1,95.6 C4.88,90.58 4.55,81.38 4.4,74.3 C4.25,67.22 4.57,57.82 6.2,53.1Z" fill="none" stroke="#fff" stroke-width="2.3" stroke-dasharray="8 5"/>
<circle cx="110.6" cy="116.8" r="3" fill="#5ff"/>
<path d="M107,112.4 L95.6,89.4 L97.5,103 L83.2,102.3 z" fill="#7b4ea0"/>
<circle cx="4" cy="132" r="1.2" fill="#c03cb8"/>
<circle cx="12" cy="134" r="1.2" fill="#c03cb8"/>
<circle cx="20" cy="135" r="1" fill="#c03cb8"/>
<circle cx="28" cy="137" r="1.2" fill="#c03cb8"/>
</g></g>
<g transform="translate(823,1233.4)"><g clip-path="url(#c41)">
<rect x="0" y="0" width="170.6" height="163" fill="#515151"/>
<ellipse cx="20" cy="20" rx="30" ry="20" fill="#5e5e5e" filter="url(#bl16)"/>
<ellipse cx="150" cy="150" rx="20" ry="20" fill="#3e3e3e" filter="url(#bl12)"/>
<path d="M8.8,68.5 C9.98,65.25 15.65,63.77 19.5,61.4 C23.35,59.03 28.8,57.55 31.9,54.3 C35,51.05 36.63,46.03 38.1,41.9 C39.57,37.77 38.2,31.85 40.7,29.5 C43.2,27.15 48.08,27.65 53.1,27.8 C58.12,27.95 64.9,31 70.8,30.4 C76.7,29.8 83.18,26.4 88.5,24.2 C93.82,22 98.28,18.97 102.7,17.2 C107.12,15.43 111.47,13.02 115,13.6 C118.53,14.18 120.65,18.93 123.9,20.7 C127.15,22.47 130.67,22.73 134.5,24.2 C138.33,25.67 142.77,27.43 146.9,29.5 C151.03,31.57 156.05,33.63 159.3,36.6 C162.55,39.57 166.4,43.47 166.4,47.3 C166.4,51.13 162.55,54.88 159.3,59.6 C156.05,64.32 150.45,70.28 146.9,75.6 C143.35,80.92 141.25,86.48 138,91.5 C134.75,96.52 131.23,101.27 127.4,105.7 C123.57,110.13 119.42,114.55 115,118.1 C110.58,121.65 105.9,124.05 100.9,127 C95.9,129.95 91.2,132.57 85,135.8 C78.8,139.03 69.32,145.52 63.7,146.4 C58.08,147.28 55.43,143.77 51.3,141.1 C47.17,138.43 41.55,134.53 38.9,130.4 C36.25,126.27 36.57,122.2 35.4,116.3 C34.23,110.4 34.27,99.43 31.9,95 C29.53,90.57 24.45,92.05 21.2,89.7 C17.95,87.35 14.47,84.43 12.4,80.9 C10.33,77.37 7.62,71.75 8.8,68.5Z" fill="#1c1c1c" filter="url(#bl5)" opacity="1"/>
<path d="M8.8,68.5 C9.98,65.25 15.65,63.77 19.5,61.4 C23.35,59.03 28.8,57.55 31.9,54.3 C35,51.05 36.63,46.03 38.1,41.9 C39.57,37.77 38.2,31.85 40.7,29.5 C43.2,27.15 48.08,27.65 53.1,27.8 C58.12,27.95 64.9,31 70.8,30.4 C76.7,29.8 83.18,26.4 88.5,24.2 C93.82,22 98.28,18.97 102.7,17.2 C107.12,15.43 111.47,13.02 115,13.6 C118.53,14.18 120.65,18.93 123.9,20.7 C127.15,22.47 130.67,22.73 134.5,24.2 C138.33,25.67 142.77,27.43 146.9,29.5 C151.03,31.57 156.05,33.63 159.3,36.6 C162.55,39.57 166.4,43.47 166.4,47.3 C166.4,51.13 162.55,54.88 159.3,59.6 C156.05,64.32 150.45,70.28 146.9,75.6 C143.35,80.92 141.25,86.48 138,91.5 C134.75,96.52 131.23,101.27 127.4,105.7 C123.57,110.13 119.42,114.55 115,118.1 C110.58,121.65 105.9,124.05 100.9,127 C95.9,129.95 91.2,132.57 85,135.8 C78.8,139.03 69.32,145.52 63.7,146.4 C58.08,147.28 55.43,143.77 51.3,141.1 C47.17,138.43 41.55,134.53 38.9,130.4 C36.25,126.27 36.57,122.2 35.4,116.3 C34.23,110.4 34.27,99.43 31.9,95 C29.53,90.57 24.45,92.05 21.2,89.7 C17.95,87.35 14.47,84.43 12.4,80.9 C10.33,77.37 7.62,71.75 8.8,68.5Z" fill="none" stroke="#fff" stroke-width="2.3" stroke-dasharray="8 5"/>
<circle cx="67.3" cy="116.3" r="6.5" fill="#fff"/>
<circle cx="52.2" cy="95" r="1.5" fill="#fff"/>
<circle cx="89.4" cy="105.7" r="1.5" fill="#fff"/>
<circle cx="113.3" cy="80" r="2" fill="#fff"/>
<text x="165" y="158" font-size="24.3" fill="#fff" text-anchor="end">10:40</text>
</g></g>
<g transform="translate(998.3,1233.4)"><g clip-path="url(#c42)">
<rect x="0" y="0" width="170.6" height="163" fill="#2a2a2a"/>
<path d="M8.8,68.5 C9.98,65.25 15.65,63.77 19.5,61.4 C23.35,59.03 28.8,57.55 31.9,54.3 C35,51.05 36.63,46.03 38.1,41.9 C39.57,37.77 38.2,31.85 40.7,29.5 C43.2,27.15 48.08,27.65 53.1,27.8 C58.12,27.95 64.9,31 70.8,30.4 C76.7,29.8 83.18,26.4 88.5,24.2 C93.82,22 98.28,18.97 102.7,17.2 C107.12,15.43 111.47,13.02 115,13.6 C118.53,14.18 120.65,18.93 123.9,20.7 C127.15,22.47 130.67,22.73 134.5,24.2 C138.33,25.67 142.77,27.43 146.9,29.5 C151.03,31.57 156.05,33.63 159.3,36.6 C162.55,39.57 166.4,43.47 166.4,47.3 C166.4,51.13 162.55,54.88 159.3,59.6 C156.05,64.32 150.45,70.28 146.9,75.6 C143.35,80.92 141.25,86.48 138,91.5 C134.75,96.52 131.23,101.27 127.4,105.7 C123.57,110.13 119.42,114.55 115,118.1 C110.58,121.65 105.9,124.05 100.9,127 C95.9,129.95 91.2,132.57 85,135.8 C78.8,139.03 69.32,145.52 63.7,146.4 C58.08,147.28 55.43,143.77 51.3,141.1 C47.17,138.43 41.55,134.53 38.9,130.4 C36.25,126.27 36.57,122.2 35.4,116.3 C34.23,110.4 34.27,99.43 31.9,95 C29.53,90.57 24.45,92.05 21.2,89.7 C17.95,87.35 14.47,84.43 12.4,80.9 C10.33,77.37 7.62,71.75 8.8,68.5Z" fill="none" stroke="#fff" stroke-width="2.3" stroke-dasharray="8 5"/>
<circle cx="69" cy="116.3" r="4.5" fill="#fff"/>
</g></g>
<g transform="translate(1172.4,1233.4)"><g clip-path="url(#c43)">
<rect x="0" y="0" width="170.6" height="163" fill="#070707"/>
<ellipse cx="85" cy="80" rx="45" ry="40" fill="#141414" filter="url(#bl20)"/>
<ellipse cx="94.9" cy="43" rx="4" ry="4" fill="#c8c8c8" filter="url(#bl2)"/>
<ellipse cx="52.7" cy="46.6" rx="2.5" ry="2.5" fill="#c8c8c8" filter="url(#bl2)"/>
<ellipse cx="80" cy="62.4" rx="3" ry="3" fill="#c8c8c8" filter="url(#bl2)"/>
<ellipse cx="109.8" cy="77.3" rx="3.5" ry="3.5" fill="#c8c8c8" filter="url(#bl2)"/>
<ellipse cx="77.3" cy="89.6" rx="3.5" ry="3.5" fill="#c8c8c8" filter="url(#bl2)"/>
<ellipse cx="123.9" cy="85.2" rx="3" ry="3" fill="#c8c8c8" filter="url(#bl2)"/>
<ellipse cx="56.2" cy="82.6" rx="2.5" ry="2.5" fill="#c8c8c8" filter="url(#bl2)"/>
<ellipse cx="100.1" cy="98.4" rx="3" ry="3" fill="#c8c8c8" filter="url(#bl2)"/>
<ellipse cx="110.7" cy="101.9" rx="3" ry="3" fill="#c8c8c8" filter="url(#bl2)"/>
<ellipse cx="70.3" cy="100.1" rx="2.5" ry="2.5" fill="#c8c8c8" filter="url(#bl2)"/>
<ellipse cx="66.8" cy="124.7" rx="2.5" ry="2.5" fill="#c8c8c8" filter="url(#bl2)"/>
<ellipse cx="124.7" cy="119.5" rx="2" ry="2" fill="#c8c8c8" filter="url(#bl2)"/>
<ellipse cx="119.5" cy="47.4" rx="2" ry="2" fill="#c8c8c8" filter="url(#bl2)"/>
<ellipse cx="87.8" cy="59.7" rx="2" ry="2" fill="#c8c8c8" filter="url(#bl2)"/>
<ellipse cx="91.4" cy="66.8" rx="2" ry="2" fill="#c8c8c8" filter="url(#bl2)"/>
<ellipse cx="70.3" cy="75.5" rx="2" ry="2" fill="#c8c8c8" filter="url(#bl2)"/>
<ellipse cx="82.6" cy="73.8" rx="2" ry="2" fill="#c8c8c8" filter="url(#bl2)"/>
<ellipse cx="98.4" cy="72" rx="2" ry="2" fill="#c8c8c8" filter="url(#bl2)"/>
<ellipse cx="119.5" cy="72" rx="2.5" ry="2.5" fill="#c8c8c8" filter="url(#bl2)"/>
<ellipse cx="47.4" cy="86.1" rx="2" ry="2" fill="#c8c8c8" filter="url(#bl2)"/>
<ellipse cx="33.4" cy="86.1" rx="2" ry="2" fill="#c8c8c8" filter="url(#bl2)"/>
<ellipse cx="105.4" cy="94.9" rx="2.5" ry="2.5" fill="#c8c8c8" filter="url(#bl2)"/>
<ellipse cx="121.2" cy="59.7" rx="2" ry="2" fill="#c8c8c8" filter="url(#bl2)"/>
<ellipse cx="133.5" cy="58" rx="1.5" ry="1.5" fill="#c8c8c8" filter="url(#bl2)"/>
<ellipse cx="101.9" cy="51.8" rx="2" ry="2" fill="#c8c8c8" filter="url(#bl2)"/>
<ellipse cx="112.4" cy="50.9" rx="2" ry="2" fill="#c8c8c8" filter="url(#bl2)"/>
<ellipse cx="60" cy="105" rx="1.5" ry="1.5" fill="#c8c8c8" filter="url(#bl2)"/>
<ellipse cx="90" cy="112" rx="1.5" ry="1.5" fill="#c8c8c8" filter="url(#bl2)"/>
<ellipse cx="115" cy="112" rx="1.5" ry="1.5" fill="#c8c8c8" filter="url(#bl2)"/>
<path d="M8.8,68.5 C9.98,65.25 15.65,63.77 19.5,61.4 C23.35,59.03 28.8,57.55 31.9,54.3 C35,51.05 36.63,46.03 38.1,41.9 C39.57,37.77 38.2,31.85 40.7,29.5 C43.2,27.15 48.08,27.65 53.1,27.8 C58.12,27.95 64.9,31 70.8,30.4 C76.7,29.8 83.18,26.4 88.5,24.2 C93.82,22 98.28,18.97 102.7,17.2 C107.12,15.43 111.47,13.02 115,13.6 C118.53,14.18 120.65,18.93 123.9,20.7 C127.15,22.47 130.67,22.73 134.5,24.2 C138.33,25.67 142.77,27.43 146.9,29.5 C151.03,31.57 156.05,33.63 159.3,36.6 C162.55,39.57 166.4,43.47 166.4,47.3 C166.4,51.13 162.55,54.88 159.3,59.6 C156.05,64.32 150.45,70.28 146.9,75.6 C143.35,80.92 141.25,86.48 138,91.5 C134.75,96.52 131.23,101.27 127.4,105.7 C123.57,110.13 119.42,114.55 115,118.1 C110.58,121.65 105.9,124.05 100.9,127 C95.9,129.95 91.2,132.57 85,135.8 C78.8,139.03 69.32,145.52 63.7,146.4 C58.08,147.28 55.43,143.77 51.3,141.1 C47.17,138.43 41.55,134.53 38.9,130.4 C36.25,126.27 36.57,122.2 35.4,116.3 C34.23,110.4 34.27,99.43 31.9,95 C29.53,90.57 24.45,92.05 21.2,89.7 C17.95,87.35 14.47,84.43 12.4,80.9 C10.33,77.37 7.62,71.75 8.8,68.5Z" fill="none" stroke="#fff" stroke-width="2.3" stroke-dasharray="8 5"/>
</g></g>
<g transform="translate(1344.9,1233.4)"><g clip-path="url(#c44)">
<rect x="0" y="0" width="170.6" height="163" fill="#176c70"/>
<path d="M8.8,68.5 C9.98,65.25 15.65,63.77 19.5,61.4 C23.35,59.03 28.8,57.55 31.9,54.3 C35,51.05 36.63,46.03 38.1,41.9 C39.57,37.77 38.2,31.85 40.7,29.5 C43.2,27.15 48.08,27.65 53.1,27.8 C58.12,27.95 64.9,31 70.8,30.4 C76.7,29.8 83.18,26.4 88.5,24.2 C93.82,22 98.28,18.97 102.7,17.2 C107.12,15.43 111.47,13.02 115,13.6 C118.53,14.18 120.65,18.93 123.9,20.7 C127.15,22.47 130.67,22.73 134.5,24.2 C138.33,25.67 142.77,27.43 146.9,29.5 C151.03,31.57 156.05,33.63 159.3,36.6 C162.55,39.57 166.4,43.47 166.4,47.3 C166.4,51.13 162.55,54.88 159.3,59.6 C156.05,64.32 150.45,70.28 146.9,75.6 C143.35,80.92 141.25,86.48 138,91.5 C134.75,96.52 131.23,101.27 127.4,105.7 C123.57,110.13 119.42,114.55 115,118.1 C110.58,121.65 105.9,124.05 100.9,127 C95.9,129.95 91.2,132.57 85,135.8 C78.8,139.03 69.32,145.52 63.7,146.4 C58.08,147.28 55.43,143.77 51.3,141.1 C47.17,138.43 41.55,134.53 38.9,130.4 C36.25,126.27 36.57,122.2 35.4,116.3 C34.23,110.4 34.27,99.43 31.9,95 C29.53,90.57 24.45,92.05 21.2,89.7 C17.95,87.35 14.47,84.43 12.4,80.9 C10.33,77.37 7.62,71.75 8.8,68.5Z" fill="#0b1c26" filter="url(#bl6)" opacity="1"/>
<ellipse cx="160" cy="140" rx="20" ry="20" fill="#0e3a44" filter="url(#bl12)"/>
<ellipse cx="168" cy="95" rx="8" ry="20" fill="#0a2a34" filter="url(#bl12)"/>
<ellipse cx="15" cy="30" rx="15" ry="12" fill="#0e4048" filter="url(#bl12)"/>
<ellipse cx="94.9" cy="43" rx="4" ry="4" fill="#b23aaa" filter="url(#bl2)"/>
<ellipse cx="52.7" cy="46.6" rx="2.5" ry="2.5" fill="#b23aaa" filter="url(#bl2)"/>
<ellipse cx="80" cy="62.4" rx="3" ry="3" fill="#b23aaa" filter="url(#bl2)"/>
<ellipse cx="109.8" cy="77.3" rx="3.5" ry="3.5" fill="#b23aaa" filter="url(#bl2)"/>
<ellipse cx="77.3" cy="89.6" rx="3.5" ry="3.5" fill="#b23aaa" filter="url(#bl2)"/>
<ellipse cx="123.9" cy="85.2" rx="3" ry="3" fill="#b23aaa" filter="url(#bl2)"/>
<ellipse cx="56.2" cy="82.6" rx="2.5" ry="2.5" fill="#b23aaa" filter="url(#bl2)"/>
<ellipse cx="100.1" cy="98.4" rx="3" ry="3" fill="#b23aaa" filter="url(#bl2)"/>
<ellipse cx="110.7" cy="101.9" rx="3" ry="3" fill="#b23aaa" filter="url(#bl2)"/>
<ellipse cx="70.3" cy="100.1" rx="2.5" ry="2.5" fill="#b23aaa" filter="url(#bl2)"/>
<ellipse cx="66.8" cy="124.7" rx="2.5" ry="2.5" fill="#b23aaa" filter="url(#bl2)"/>
<ellipse cx="124.7" cy="119.5" rx="2" ry="2" fill="#b23aaa" filter="url(#bl2)"/>
<ellipse cx="119.5" cy="47.4" rx="2" ry="2" fill="#b23aaa" filter="url(#bl2)"/>
<ellipse cx="87.8" cy="59.7" rx="2" ry="2" fill="#b23aaa" filter="url(#bl2)"/>
<ellipse cx="91.4" cy="66.8" rx="2" ry="2" fill="#b23aaa" filter="url(#bl2)"/>
<ellipse cx="70.3" cy="75.5" rx="2" ry="2" fill="#b23aaa" filter="url(#bl2)"/>
<ellipse cx="82.6" cy="73.8" rx="2" ry="2" fill="#b23aaa" filter="url(#bl2)"/>
<ellipse cx="98.4" cy="72" rx="2" ry="2" fill="#b23aaa" filter="url(#bl2)"/>
<ellipse cx="119.5" cy="72" rx="2.5" ry="2.5" fill="#b23aaa" filter="url(#bl2)"/>
<ellipse cx="47.4" cy="86.1" rx="2" ry="2" fill="#b23aaa" filter="url(#bl2)"/>
<ellipse cx="33.4" cy="86.1" rx="2" ry="2" fill="#b23aaa" filter="url(#bl2)"/>
<ellipse cx="105.4" cy="94.9" rx="2.5" ry="2.5" fill="#b23aaa" filter="url(#bl2)"/>
<ellipse cx="121.2" cy="59.7" rx="2" ry="2" fill="#b23aaa" filter="url(#bl2)"/>
<ellipse cx="133.5" cy="58" rx="1.5" ry="1.5" fill="#b23aaa" filter="url(#bl2)"/>
<ellipse cx="101.9" cy="51.8" rx="2" ry="2" fill="#b23aaa" filter="url(#bl2)"/>
<ellipse cx="112.4" cy="50.9" rx="2" ry="2" fill="#b23aaa" filter="url(#bl2)"/>
<ellipse cx="60" cy="105" rx="1.5" ry="1.5" fill="#b23aaa" filter="url(#bl2)"/>
<ellipse cx="90" cy="112" rx="1.5" ry="1.5" fill="#b23aaa" filter="url(#bl2)"/>
<ellipse cx="115" cy="112" rx="1.5" ry="1.5" fill="#b23aaa" filter="url(#bl2)"/>
<path d="M8.8,68.5 C9.98,65.25 15.65,63.77 19.5,61.4 C23.35,59.03 28.8,57.55 31.9,54.3 C35,51.05 36.63,46.03 38.1,41.9 C39.57,37.77 38.2,31.85 40.7,29.5 C43.2,27.15 48.08,27.65 53.1,27.8 C58.12,27.95 64.9,31 70.8,30.4 C76.7,29.8 83.18,26.4 88.5,24.2 C93.82,22 98.28,18.97 102.7,17.2 C107.12,15.43 111.47,13.02 115,13.6 C118.53,14.18 120.65,18.93 123.9,20.7 C127.15,22.47 130.67,22.73 134.5,24.2 C138.33,25.67 142.77,27.43 146.9,29.5 C151.03,31.57 156.05,33.63 159.3,36.6 C162.55,39.57 166.4,43.47 166.4,47.3 C166.4,51.13 162.55,54.88 159.3,59.6 C156.05,64.32 150.45,70.28 146.9,75.6 C143.35,80.92 141.25,86.48 138,91.5 C134.75,96.52 131.23,101.27 127.4,105.7 C123.57,110.13 119.42,114.55 115,118.1 C110.58,121.65 105.9,124.05 100.9,127 C95.9,129.95 91.2,132.57 85,135.8 C78.8,139.03 69.32,145.52 63.7,146.4 C58.08,147.28 55.43,143.77 51.3,141.1 C47.17,138.43 41.55,134.53 38.9,130.4 C36.25,126.27 36.57,122.2 35.4,116.3 C34.23,110.4 34.27,99.43 31.9,95 C29.53,90.57 24.45,92.05 21.2,89.7 C17.95,87.35 14.47,84.43 12.4,80.9 C10.33,77.37 7.62,71.75 8.8,68.5Z" fill="none" stroke="#fff" stroke-width="2.3" stroke-dasharray="8 5"/>
<circle cx="64.1" cy="116.8" r="6" fill="#6ee"/>
<circle cx="110" cy="82" r="1.5" fill="#6ee"/>
<circle cx="49" cy="98" r="1.5" fill="#6ee"/>
<circle cx="87" cy="108" r="1.5" fill="#6ee"/>
</g></g>
<g transform="translate(823,1400.8)"><g clip-path="url(#c45)">
<rect x="0" y="0" width="170.6" height="163" fill="#484848"/>
<ellipse cx="5" cy="68" rx="10" ry="22" fill="#1e1e1e" filter="url(#bl10)"/>
<ellipse cx="160" cy="8" rx="14" ry="12" fill="#2a2a2a" filter="url(#bl10)"/>
<ellipse cx="140" cy="60" rx="25" ry="30" fill="#5a5a5a" filter="url(#bl16)"/>
<ellipse cx="150" cy="140" rx="30" ry="25" fill="#333" filter="url(#bl16)"/>
<path d="M45,21.3 C44.7,22.33 46.67,25.3 47.7,27.5 C48.73,29.7 50.75,32.15 51.2,34.5 C51.65,36.85 51.87,39.53 50.4,41.6 C48.93,43.67 44.32,44.55 42.4,46.9 C40.48,49.25 40.97,52.45 38.9,55.7 C36.83,58.95 32.65,62.85 30,66.4 C27.35,69.95 25.35,72.88 23,77 C20.65,81.12 17.97,86.98 15.9,91.1 C13.83,95.22 9.72,99.63 10.6,101.7 C11.48,103.77 17.08,103.95 21.2,103.5 C25.32,103.05 31.77,100.18 35.3,99 C38.83,97.82 40.03,96.68 42.4,96.4 C44.77,96.12 47.73,95.83 49.5,97.3 C51.27,98.77 51.83,102.12 53,105.2 C54.17,108.28 55.77,111.97 56.5,115.8 C57.23,119.63 56.22,124.37 57.4,128.2 C58.58,132.03 60.8,136.73 63.6,138.8 C66.4,140.87 70.37,141.48 74.2,140.6 C78.03,139.72 83.07,135.87 86.6,133.5 C90.13,131.13 91.57,126.98 95.4,126.4 C99.23,125.82 106.65,130.58 109.6,130 C112.55,129.42 110.17,125.55 113.1,122.9 C116.03,120.25 122.48,117.05 127.2,114.1 C131.92,111.15 137.27,108.15 141.4,105.2 C145.53,102.25 149.95,99.33 152,96.4 C154.05,93.47 154.58,89.95 153.7,87.6 C152.82,85.25 149.93,83.78 146.7,82.3 C143.47,80.82 137.55,80.77 134.3,78.7 C131.05,76.63 129.27,73.13 127.2,69.9 C125.13,66.67 123.37,63.13 121.9,59.3 C120.43,55.47 119.87,50.43 118.4,46.9 C116.93,43.37 115.75,40.45 113.1,38.1 C110.45,35.75 106.33,34.87 102.5,32.8 C98.67,30.73 93.93,28.07 90.1,25.7 C86.27,23.33 82.73,19.63 79.5,18.6 C76.27,17.57 73.05,18.32 70.7,19.5 C68.35,20.68 67.47,25.1 65.4,25.7 C63.33,26.3 60.95,23.83 58.3,23.1 C55.65,22.37 51.72,21.6 49.5,21.3 C47.28,21 45.3,20.27 45,21.3Z" fill="#1a1a1a" filter="url(#bl5)" opacity="1"/>
<path d="M45,21.3 C44.7,22.33 46.67,25.3 47.7,27.5 C48.73,29.7 50.75,32.15 51.2,34.5 C51.65,36.85 51.87,39.53 50.4,41.6 C48.93,43.67 44.32,44.55 42.4,46.9 C40.48,49.25 40.97,52.45 38.9,55.7 C36.83,58.95 32.65,62.85 30,66.4 C27.35,69.95 25.35,72.88 23,77 C20.65,81.12 17.97,86.98 15.9,91.1 C13.83,95.22 9.72,99.63 10.6,101.7 C11.48,103.77 17.08,103.95 21.2,103.5 C25.32,103.05 31.77,100.18 35.3,99 C38.83,97.82 40.03,96.68 42.4,96.4 C44.77,96.12 47.73,95.83 49.5,97.3 C51.27,98.77 51.83,102.12 53,105.2 C54.17,108.28 55.77,111.97 56.5,115.8 C57.23,119.63 56.22,124.37 57.4,128.2 C58.58,132.03 60.8,136.73 63.6,138.8 C66.4,140.87 70.37,141.48 74.2,140.6 C78.03,139.72 83.07,135.87 86.6,133.5 C90.13,131.13 91.57,126.98 95.4,126.4 C99.23,125.82 106.65,130.58 109.6,130 C112.55,129.42 110.17,125.55 113.1,122.9 C116.03,120.25 122.48,117.05 127.2,114.1 C131.92,111.15 137.27,108.15 141.4,105.2 C145.53,102.25 149.95,99.33 152,96.4 C154.05,93.47 154.58,89.95 153.7,87.6 C152.82,85.25 149.93,83.78 146.7,82.3 C143.47,80.82 137.55,80.77 134.3,78.7 C131.05,76.63 129.27,73.13 127.2,69.9 C125.13,66.67 123.37,63.13 121.9,59.3 C120.43,55.47 119.87,50.43 118.4,46.9 C116.93,43.37 115.75,40.45 113.1,38.1 C110.45,35.75 106.33,34.87 102.5,32.8 C98.67,30.73 93.93,28.07 90.1,25.7 C86.27,23.33 82.73,19.63 79.5,18.6 C76.27,17.57 73.05,18.32 70.7,19.5 C68.35,20.68 67.47,25.1 65.4,25.7 C63.33,26.3 60.95,23.83 58.3,23.1 C55.65,22.37 51.72,21.6 49.5,21.3 C47.28,21 45.3,20.27 45,21.3Z" fill="none" stroke="#fff" stroke-width="2.3" stroke-dasharray="8 5"/>
<circle cx="49.5" cy="50.4" r="4.5" fill="#fff"/>
<circle cx="129" cy="87.6" r="6.5" fill="#fff"/>
<circle cx="97.2" cy="67.2" r="2" fill="#fff"/>
<circle cx="107" cy="70.8" r="1.8" fill="#fff"/>
<circle cx="86" cy="76" r="1.2" fill="#fff"/>
<circle cx="80" cy="70" r="1" fill="#fff"/>
<circle cx="92" cy="75" r="1" fill="#fff"/>
<text x="163.5" y="158.5" font-size="24.3" fill="#fff" text-anchor="end">25:00</text>
</g></g>
<g transform="translate(998.3,1400.8)"><g clip-path="url(#c46)">
<rect x="0" y="0" width="170.6" height="163" fill="#2a2a2a"/>
<path d="M45,21.3 C44.7,22.33 46.67,25.3 47.7,27.5 C48.73,29.7 50.75,32.15 51.2,34.5 C51.65,36.85 51.87,39.53 50.4,41.6 C48.93,43.67 44.32,44.55 42.4,46.9 C40.48,49.25 40.97,52.45 38.9,55.7 C36.83,58.95 32.65,62.85 30,66.4 C27.35,69.95 25.35,72.88 23,77 C20.65,81.12 17.97,86.98 15.9,91.1 C13.83,95.22 9.72,99.63 10.6,101.7 C11.48,103.77 17.08,103.95 21.2,103.5 C25.32,103.05 31.77,100.18 35.3,99 C38.83,97.82 40.03,96.68 42.4,96.4 C44.77,96.12 47.73,95.83 49.5,97.3 C51.27,98.77 51.83,102.12 53,105.2 C54.17,108.28 55.77,111.97 56.5,115.8 C57.23,119.63 56.22,124.37 57.4,128.2 C58.58,132.03 60.8,136.73 63.6,138.8 C66.4,140.87 70.37,141.48 74.2,140.6 C78.03,139.72 83.07,135.87 86.6,133.5 C90.13,131.13 91.57,126.98 95.4,126.4 C99.23,125.82 106.65,130.58 109.6,130 C112.55,129.42 110.17,125.55 113.1,122.9 C116.03,120.25 122.48,117.05 127.2,114.1 C131.92,111.15 137.27,108.15 141.4,105.2 C145.53,102.25 149.95,99.33 152,96.4 C154.05,93.47 154.58,89.95 153.7,87.6 C152.82,85.25 149.93,83.78 146.7,82.3 C143.47,80.82 137.55,80.77 134.3,78.7 C131.05,76.63 129.27,73.13 127.2,69.9 C125.13,66.67 123.37,63.13 121.9,59.3 C120.43,55.47 119.87,50.43 118.4,46.9 C116.93,43.37 115.75,40.45 113.1,38.1 C110.45,35.75 106.33,34.87 102.5,32.8 C98.67,30.73 93.93,28.07 90.1,25.7 C86.27,23.33 82.73,19.63 79.5,18.6 C76.27,17.57 73.05,18.32 70.7,19.5 C68.35,20.68 67.47,25.1 65.4,25.7 C63.33,26.3 60.95,23.83 58.3,23.1 C55.65,22.37 51.72,21.6 49.5,21.3 C47.28,21 45.3,20.27 45,21.3Z" fill="none" stroke="#fff" stroke-width="2.3" stroke-dasharray="8 5"/>
<circle cx="51.8" cy="51.9" r="3" fill="#fff"/>
<circle cx="131.6" cy="88.4" r="4.5" fill="#fff"/>
</g></g>
<g transform="translate(1172.4,1400.8)"><g clip-path="url(#c47)">
<rect x="0" y="0" width="170.6" height="163" fill="#070707"/>
<ellipse cx="85" cy="95" rx="62" ry="55" fill="#262626" filter="url(#bl28)"/>
<ellipse cx="50" cy="100" rx="28" ry="18" fill="#5a5a5a" filter="url(#bl12)"/>
<ellipse cx="125" cy="105" rx="28" ry="14" fill="#4a4a4a" filter="url(#bl12)"/>
<ellipse cx="95" cy="140" rx="35" ry="18" fill="#3a3a3a" filter="url(#bl16)"/>
<ellipse cx="88" cy="67" rx="30" ry="20" fill="#9a9a9a" filter="url(#bl8)"/>
<ellipse cx="66.8" cy="57.2" rx="6.5" ry="6.5" fill="#f2f2f2" filter="url(#bl2)"/>
<ellipse cx="75.5" cy="53.7" rx="6.5" ry="6.5" fill="#f2f2f2" filter="url(#bl2)"/>
<ellipse cx="87.8" cy="50.1" rx="6.5" ry="6.5" fill="#f2f2f2" filter="url(#bl2)"/>
<ellipse cx="98.4" cy="57.2" rx="6.5" ry="6.5" fill="#f2f2f2" filter="url(#bl2)"/>
<ellipse cx="108.9" cy="66" rx="6.5" ry="6.5" fill="#f2f2f2" filter="url(#bl2)"/>
<ellipse cx="114.2" cy="73" rx="6.5" ry="6.5" fill="#f2f2f2" filter="url(#bl2)"/>
<ellipse cx="70.3" cy="69.5" rx="6.5" ry="6.5" fill="#f2f2f2" filter="url(#bl2)"/>
<ellipse cx="80.8" cy="73" rx="6.5" ry="6.5" fill="#f2f2f2" filter="url(#bl2)"/>
<ellipse cx="91.4" cy="69.5" rx="6.5" ry="6.5" fill="#f2f2f2" filter="url(#bl2)"/>
<ellipse cx="98.4" cy="74.7" rx="6.5" ry="6.5" fill="#f2f2f2" filter="url(#bl2)"/>
<ellipse cx="84.3" cy="81.8" rx="6.5" ry="6.5" fill="#f2f2f2" filter="url(#bl2)"/>
<ellipse cx="73.8" cy="78.3" rx="6.5" ry="6.5" fill="#f2f2f2" filter="url(#bl2)"/>
<ellipse cx="65" cy="76.5" rx="6.5" ry="6.5" fill="#f2f2f2" filter="url(#bl2)"/>
<ellipse cx="105.4" cy="78.3" rx="6.5" ry="6.5" fill="#f2f2f2" filter="url(#bl2)"/>
<ellipse cx="87.8" cy="60.7" rx="6.5" ry="6.5" fill="#f2f2f2" filter="url(#bl2)"/>
<ellipse cx="77.3" cy="64.2" rx="6.5" ry="6.5" fill="#f2f2f2" filter="url(#bl2)"/>
<ellipse cx="52" cy="96" rx="12" ry="8" fill="#c8c8c8" filter="url(#bl4)"/>
<ellipse cx="110.7" cy="106.4" rx="5" ry="5" fill="#eee" filter="url(#bl2)"/>
<ellipse cx="145.8" cy="97.6" rx="4" ry="4" fill="#ddd" filter="url(#bl2)"/>
<g stroke="#8a8a8a" stroke-width="1.6" fill="none" opacity="0.8"><path d="M22,62 L45,82 M25,80 L40,72 M30,92 L60,86 M45,100 L62,120 M58,110 L75,96 M70,112 L95,118 M100,112 L120,128 M120,118 L150,108 M135,120 L150,135 M15,98 L35,110 M40,130 L55,140 M85,135 L100,150 M120,140 L140,150 M150,20 L165,28 M110,15 L125,22"/></g>
<path d="M45,21.3 C44.7,22.33 46.67,25.3 47.7,27.5 C48.73,29.7 50.75,32.15 51.2,34.5 C51.65,36.85 51.87,39.53 50.4,41.6 C48.93,43.67 44.32,44.55 42.4,46.9 C40.48,49.25 40.97,52.45 38.9,55.7 C36.83,58.95 32.65,62.85 30,66.4 C27.35,69.95 25.35,72.88 23,77 C20.65,81.12 17.97,86.98 15.9,91.1 C13.83,95.22 9.72,99.63 10.6,101.7 C11.48,103.77 17.08,103.95 21.2,103.5 C25.32,103.05 31.77,100.18 35.3,99 C38.83,97.82 40.03,96.68 42.4,96.4 C44.77,96.12 47.73,95.83 49.5,97.3 C51.27,98.77 51.83,102.12 53,105.2 C54.17,108.28 55.77,111.97 56.5,115.8 C57.23,119.63 56.22,124.37 57.4,128.2 C58.58,132.03 60.8,136.73 63.6,138.8 C66.4,140.87 70.37,141.48 74.2,140.6 C78.03,139.72 83.07,135.87 86.6,133.5 C90.13,131.13 91.57,126.98 95.4,126.4 C99.23,125.82 106.65,130.58 109.6,130 C112.55,129.42 110.17,125.55 113.1,122.9 C116.03,120.25 122.48,117.05 127.2,114.1 C131.92,111.15 137.27,108.15 141.4,105.2 C145.53,102.25 149.95,99.33 152,96.4 C154.05,93.47 154.58,89.95 153.7,87.6 C152.82,85.25 149.93,83.78 146.7,82.3 C143.47,80.82 137.55,80.77 134.3,78.7 C131.05,76.63 129.27,73.13 127.2,69.9 C125.13,66.67 123.37,63.13 121.9,59.3 C120.43,55.47 119.87,50.43 118.4,46.9 C116.93,43.37 115.75,40.45 113.1,38.1 C110.45,35.75 106.33,34.87 102.5,32.8 C98.67,30.73 93.93,28.07 90.1,25.7 C86.27,23.33 82.73,19.63 79.5,18.6 C76.27,17.57 73.05,18.32 70.7,19.5 C68.35,20.68 67.47,25.1 65.4,25.7 C63.33,26.3 60.95,23.83 58.3,23.1 C55.65,22.37 51.72,21.6 49.5,21.3 C47.28,21 45.3,20.27 45,21.3Z" fill="none" stroke="#fff" stroke-width="2.3" stroke-dasharray="8 5"/>
</g></g>
<g transform="translate(1344.9,1400.8)"><g clip-path="url(#c48)">
<rect x="0" y="0" width="170.6" height="163" fill="#105056"/>
<ellipse cx="85" cy="95" rx="62" ry="55" fill="#0f3e46" filter="url(#bl28)"/>
<path d="M45,21.3 C44.7,22.33 46.67,25.3 47.7,27.5 C48.73,29.7 50.75,32.15 51.2,34.5 C51.65,36.85 51.87,39.53 50.4,41.6 C48.93,43.67 44.32,44.55 42.4,46.9 C40.48,49.25 40.97,52.45 38.9,55.7 C36.83,58.95 32.65,62.85 30,66.4 C27.35,69.95 25.35,72.88 23,77 C20.65,81.12 17.97,86.98 15.9,91.1 C13.83,95.22 9.72,99.63 10.6,101.7 C11.48,103.77 17.08,103.95 21.2,103.5 C25.32,103.05 31.77,100.18 35.3,99 C38.83,97.82 40.03,96.68 42.4,96.4 C44.77,96.12 47.73,95.83 49.5,97.3 C51.27,98.77 51.83,102.12 53,105.2 C54.17,108.28 55.77,111.97 56.5,115.8 C57.23,119.63 56.22,124.37 57.4,128.2 C58.58,132.03 60.8,136.73 63.6,138.8 C66.4,140.87 70.37,141.48 74.2,140.6 C78.03,139.72 83.07,135.87 86.6,133.5 C90.13,131.13 91.57,126.98 95.4,126.4 C99.23,125.82 106.65,130.58 109.6,130 C112.55,129.42 110.17,125.55 113.1,122.9 C116.03,120.25 122.48,117.05 127.2,114.1 C131.92,111.15 137.27,108.15 141.4,105.2 C145.53,102.25 149.95,99.33 152,96.4 C154.05,93.47 154.58,89.95 153.7,87.6 C152.82,85.25 149.93,83.78 146.7,82.3 C143.47,80.82 137.55,80.77 134.3,78.7 C131.05,76.63 129.27,73.13 127.2,69.9 C125.13,66.67 123.37,63.13 121.9,59.3 C120.43,55.47 119.87,50.43 118.4,46.9 C116.93,43.37 115.75,40.45 113.1,38.1 C110.45,35.75 106.33,34.87 102.5,32.8 C98.67,30.73 93.93,28.07 90.1,25.7 C86.27,23.33 82.73,19.63 79.5,18.6 C76.27,17.57 73.05,18.32 70.7,19.5 C68.35,20.68 67.47,25.1 65.4,25.7 C63.33,26.3 60.95,23.83 58.3,23.1 C55.65,22.37 51.72,21.6 49.5,21.3 C47.28,21 45.3,20.27 45,21.3Z" fill="#0e2a32" filter="url(#bl6)" opacity="1"/>
<ellipse cx="88" cy="67" rx="30" ry="20" fill="#a543a8" filter="url(#bl8)"/>
<ellipse cx="55" cy="98" rx="28" ry="14" fill="#9a3aa0" filter="url(#bl12)"/>
<ellipse cx="118" cy="100" rx="30" ry="12" fill="#9a3aa0" filter="url(#bl12)"/>
<ellipse cx="95" cy="140" rx="25" ry="16" fill="#7a2a85" filter="url(#bl16)"/>
<ellipse cx="140" cy="150" rx="20" ry="12" fill="#7a2a85" filter="url(#bl16)"/>
<ellipse cx="120" cy="30" rx="25" ry="10" fill="#4a2a60" filter="url(#bl16)"/>
<ellipse cx="66.8" cy="57.2" rx="6.5" ry="6.5" fill="#c452c6" filter="url(#bl2)"/>
<ellipse cx="75.5" cy="53.7" rx="6.5" ry="6.5" fill="#c452c6" filter="url(#bl2)"/>
<ellipse cx="87.8" cy="50.1" rx="6.5" ry="6.5" fill="#c452c6" filter="url(#bl2)"/>
<ellipse cx="98.4" cy="57.2" rx="6.5" ry="6.5" fill="#c452c6" filter="url(#bl2)"/>
<ellipse cx="108.9" cy="66" rx="6.5" ry="6.5" fill="#c452c6" filter="url(#bl2)"/>
<ellipse cx="114.2" cy="73" rx="6.5" ry="6.5" fill="#c452c6" filter="url(#bl2)"/>
<ellipse cx="70.3" cy="69.5" rx="6.5" ry="6.5" fill="#c452c6" filter="url(#bl2)"/>
<ellipse cx="80.8" cy="73" rx="6.5" ry="6.5" fill="#c452c6" filter="url(#bl2)"/>
<ellipse cx="91.4" cy="69.5" rx="6.5" ry="6.5" fill="#c452c6" filter="url(#bl2)"/>
<ellipse cx="98.4" cy="74.7" rx="6.5" ry="6.5" fill="#c452c6" filter="url(#bl2)"/>
<ellipse cx="84.3" cy="81.8" rx="6.5" ry="6.5" fill="#c452c6" filter="url(#bl2)"/>
<ellipse cx="73.8" cy="78.3" rx="6.5" ry="6.5" fill="#c452c6" filter="url(#bl2)"/>
<ellipse cx="65" cy="76.5" rx="6.5" ry="6.5" fill="#c452c6" filter="url(#bl2)"/>
<ellipse cx="105.4" cy="78.3" rx="6.5" ry="6.5" fill="#c452c6" filter="url(#bl2)"/>
<ellipse cx="87.8" cy="60.7" rx="6.5" ry="6.5" fill="#c452c6" filter="url(#bl2)"/>
<ellipse cx="77.3" cy="64.2" rx="6.5" ry="6.5" fill="#c452c6" filter="url(#bl2)"/>
<path d="M45,21.3 C44.7,22.33 46.67,25.3 47.7,27.5 C48.73,29.7 50.75,32.15 51.2,34.5 C51.65,36.85 51.87,39.53 50.4,41.6 C48.93,43.67 44.32,44.55 42.4,46.9 C40.48,49.25 40.97,52.45 38.9,55.7 C36.83,58.95 32.65,62.85 30,66.4 C27.35,69.95 25.35,72.88 23,77 C20.65,81.12 17.97,86.98 15.9,91.1 C13.83,95.22 9.72,99.63 10.6,101.7 C11.48,103.77 17.08,103.95 21.2,103.5 C25.32,103.05 31.77,100.18 35.3,99 C38.83,97.82 40.03,96.68 42.4,96.4 C44.77,96.12 47.73,95.83 49.5,97.3 C51.27,98.77 51.83,102.12 53,105.2 C54.17,108.28 55.77,111.97 56.5,115.8 C57.23,119.63 56.22,124.37 57.4,128.2 C58.58,132.03 60.8,136.73 63.6,138.8 C66.4,140.87 70.37,141.48 74.2,140.6 C78.03,139.72 83.07,135.87 86.6,133.5 C90.13,131.13 91.57,126.98 95.4,126.4 C99.23,125.82 106.65,130.58 109.6,130 C112.55,129.42 110.17,125.55 113.1,122.9 C116.03,120.25 122.48,117.05 127.2,114.1 C131.92,111.15 137.27,108.15 141.4,105.2 C145.53,102.25 149.95,99.33 152,96.4 C154.05,93.47 154.58,89.95 153.7,87.6 C152.82,85.25 149.93,83.78 146.7,82.3 C143.47,80.82 137.55,80.77 134.3,78.7 C131.05,76.63 129.27,73.13 127.2,69.9 C125.13,66.67 123.37,63.13 121.9,59.3 C120.43,55.47 119.87,50.43 118.4,46.9 C116.93,43.37 115.75,40.45 113.1,38.1 C110.45,35.75 106.33,34.87 102.5,32.8 C98.67,30.73 93.93,28.07 90.1,25.7 C86.27,23.33 82.73,19.63 79.5,18.6 C76.27,17.57 73.05,18.32 70.7,19.5 C68.35,20.68 67.47,25.1 65.4,25.7 C63.33,26.3 60.95,23.83 58.3,23.1 C55.65,22.37 51.72,21.6 49.5,21.3 C47.28,21 45.3,20.27 45,21.3Z" fill="none" stroke="#fff" stroke-width="2.3" stroke-dasharray="8 5"/>
<circle cx="51" cy="52.7" r="5" fill="#6ee"/>
<circle cx="130.9" cy="89.6" r="6.5" fill="#6ee"/>
</g></g>
<text x="1548" y="943" font-size="34" fill="#231f20" font-weight="bold" stroke="#231f20" stroke-width="0.9">j</text>
<text x="1596.1" y="935.3" font-size="25" fill="#231f20">Successful infections (AbG<tspan dy="-9" font-size="17">+</tspan><tspan dy="9"> infections)</tspan></text>
<polygon points="1672.14,1232.61 1706.78,1228.76 1732.44,1217.53 1745.27,1199.89 1764.52,1179.04 1777.35,1156.59 1790.18,1140.55 1799.8,1114.9 1809.42,1105.27 1822.25,1098.86 1831.87,1089.24 1873.57,1086.03 1873.57,1047.54 1907.25,1047.54 1907.25,1105.27 1873.57,1105.27 1873.57,1124.52 1831.87,1129.33 1822.25,1138.95 1809.42,1153.38 1799.8,1163.01 1790.18,1179.04 1777.35,1190.27 1764.52,1207.91 1745.27,1220.74 1732.44,1230.36 1706.78,1232.61 1672.14,1232.61" fill="#dcdddf" />
<polygon points="1672.14,1232.61 1719.61,1230.36 1732.44,1212.72 1745.27,1190.27 1764.52,1172.63 1777.35,1132.54 1796.59,1124.52 1803.01,1108.48 1815.84,1102.07 1828.67,1079.61 1915.26,1079.61 1915.26,1118.1 1828.67,1118.1 1815.84,1134.14 1803.01,1140.55 1796.59,1156.59 1777.35,1167.82 1764.52,1201.49 1745.27,1215.93 1732.44,1230.36 1719.61,1232.61 1672.14,1232.61" fill="#c9cacc" opacity="0.8"/>
<polygon points="1672.14,1232.61 1713.2,1230.36 1735.65,1217.53 1751.69,1201.49 1764.52,1182.25 1783.76,1163.01 1796.59,1153.38 1806.21,1130.93 1828.67,1124.52 1841.49,1092.44 1915.26,1092.44 1915.26,1124.52 1841.49,1124.52 1828.67,1153.38 1806.21,1163.01 1796.59,1179.04 1783.76,1188.67 1764.52,1207.91 1751.69,1220.74 1735.65,1232.61 1713.2,1232.61 1672.14,1232.61" fill="#bfc0c2" opacity="0.7"/>
<polyline points="1672.14,1232.61 1706.78,1232.61 1706.78,1230.36 1726.03,1230.36 1726.03,1223.95 1738.86,1223.95 1738.86,1212.72 1745.27,1212.72 1745.27,1204.7 1751.69,1204.7 1751.69,1198.29 1758.1,1198.29 1758.1,1188.67 1764.52,1188.67 1764.52,1175.84 1770.93,1175.84 1770.93,1167.82 1777.35,1167.82 1777.35,1161.4 1783.76,1161.4 1783.76,1154.99 1790.18,1154.99 1790.18,1151.78 1796.59,1151.78 1796.59,1143.76 1799.8,1143.76 1799.8,1130.93 1806.21,1130.93 1806.21,1121.31 1812.63,1121.31 1812.63,1113.29 1822.25,1113.29 1822.25,1106.88 1828.67,1106.88 1828.67,1102.07 1831.87,1102.07 1831.87,1097.25 1873.57,1097.25 1873.57,1097.25 1873.57,1097.25 1873.57,1071.6 1907.25,1071.6 1907.25,1071.6" stroke="#8a8c8f" stroke-width="3" fill="none" stroke-linejoin="miter" stroke-linecap="butt" />
<polyline points="1672.14,1232.61 1719.61,1232.61 1719.61,1231.96 1732.44,1231.96 1732.44,1222.34 1738.86,1222.34 1738.86,1207.91 1743.67,1207.91 1743.67,1196.68 1750.08,1196.68 1750.08,1195.08 1751.69,1195.08 1751.69,1188.67 1761.31,1188.67 1761.31,1183.85 1764.52,1183.85 1764.52,1172.63 1767.72,1172.63 1767.72,1164.61 1774.14,1164.61 1774.14,1159.8 1777.35,1159.8 1777.35,1146.97 1783.76,1146.97 1783.76,1146.97 1790.18,1146.97 1790.18,1145.37 1796.59,1145.37 1796.59,1138.95 1799.8,1138.95 1799.8,1124.52 1806.21,1124.52 1806.21,1122.91 1809.42,1122.91 1809.42,1118.1 1815.84,1118.1 1815.84,1118.1 1822.25,1118.1 1822.25,1111.69 1828.67,1111.69 1828.67,1098.86 1915.26,1098.86 1915.26,1098.86" stroke="#55575a" stroke-width="3" fill="none" stroke-linejoin="miter" stroke-linecap="butt" />
<polyline points="1672.14,1232.61 1709.99,1232.61 1709.99,1232.61 1713.2,1232.61 1713.2,1230.36 1732.44,1230.36 1732.44,1228.76 1735.65,1228.76 1735.65,1225.55 1738.86,1225.55 1738.86,1220.74 1742.07,1220.74 1742.07,1215.93 1745.27,1215.93 1745.27,1211.12 1751.69,1211.12 1751.69,1211.12 1754.9,1211.12 1754.9,1206.31 1758.1,1206.31 1758.1,1203.1 1761.31,1203.1 1761.31,1198.29 1764.52,1198.29 1764.52,1193.48 1767.72,1193.48 1767.72,1190.27 1770.93,1190.27 1770.93,1185.46 1775.74,1185.46 1775.74,1182.25 1780.55,1182.25 1780.55,1177.44 1783.76,1177.44 1783.76,1172.63 1786.97,1172.63 1786.97,1169.42 1790.18,1169.42 1790.18,1166.21 1796.59,1166.21 1796.59,1164.61 1799.8,1164.61 1799.8,1156.59 1803.01,1156.59 1803.01,1151.78 1806.21,1151.78 1806.21,1143.76 1809.42,1143.76 1809.42,1137.35 1815.84,1137.35 1815.84,1135.74 1828.67,1135.74 1828.67,1135.74 1830.27,1135.74 1830.27,1129.33 1833.48,1129.33 1833.48,1124.52 1838.29,1124.52 1838.29,1121.31 1841.49,1121.31 1841.49,1105.27 1912.06,1105.27 1912.06,1105.27" stroke="#111" stroke-width="3" fill="none" stroke-linejoin="miter" stroke-linecap="butt" />
<rect x="1672.1" y="951.3" width="279.7" height="281.3" fill="none" stroke="#231f20" stroke-width="1.4" />
<line x1="1662.5" y1="1232.6" x2="1672.1" y2="1232.6" stroke="#231f20" stroke-width="1.4" />
<text x="1650.7" y="1241.55" font-size="25" fill="#231f20" text-anchor="end">0</text>
<line x1="1662.5" y1="1204.47" x2="1672.1" y2="1204.47" stroke="#231f20" stroke-width="1.4" />
<line x1="1662.5" y1="1176.34" x2="1672.1" y2="1176.34" stroke="#231f20" stroke-width="1.4" />
<text x="1650.7" y="1185.29" font-size="25" fill="#231f20" text-anchor="end">20</text>
<line x1="1662.5" y1="1148.21" x2="1672.1" y2="1148.21" stroke="#231f20" stroke-width="1.4" />
<line x1="1662.5" y1="1120.08" x2="1672.1" y2="1120.08" stroke="#231f20" stroke-width="1.4" />
<text x="1650.7" y="1129.03" font-size="25" fill="#231f20" text-anchor="end">40</text>
<line x1="1662.5" y1="1091.95" x2="1672.1" y2="1091.95" stroke="#231f20" stroke-width="1.4" />
<line x1="1662.5" y1="1063.82" x2="1672.1" y2="1063.82" stroke="#231f20" stroke-width="1.4" />
<text x="1650.7" y="1072.77" font-size="25" fill="#231f20" text-anchor="end">60</text>
<line x1="1662.5" y1="1035.69" x2="1672.1" y2="1035.69" stroke="#231f20" stroke-width="1.4" />
<line x1="1662.5" y1="1007.56" x2="1672.1" y2="1007.56" stroke="#231f20" stroke-width="1.4" />
<text x="1650.7" y="1016.51" font-size="25" fill="#231f20" text-anchor="end">80</text>
<line x1="1662.5" y1="979.43" x2="1672.1" y2="979.43" stroke="#231f20" stroke-width="1.4" />
<line x1="1662.5" y1="951.3" x2="1672.1" y2="951.3" stroke="#231f20" stroke-width="1.4" />
<text x="1650.7" y="960.25" font-size="25" fill="#231f20" text-anchor="end">100</text>
<line x1="1672.1" y1="1232.6" x2="1672.1" y2="1241.6" stroke="#231f20" stroke-width="1.4" />
<line x1="1682.86" y1="1232.6" x2="1682.86" y2="1237.6" stroke="#231f20" stroke-width="1.4" />
<line x1="1693.62" y1="1232.6" x2="1693.62" y2="1241.6" stroke="#231f20" stroke-width="1.4" />
<line x1="1704.37" y1="1232.6" x2="1704.37" y2="1237.6" stroke="#231f20" stroke-width="1.4" />
<line x1="1715.13" y1="1232.6" x2="1715.13" y2="1241.6" stroke="#231f20" stroke-width="1.4" />
<line x1="1725.89" y1="1232.6" x2="1725.89" y2="1237.6" stroke="#231f20" stroke-width="1.4" />
<line x1="1736.65" y1="1232.6" x2="1736.65" y2="1241.6" stroke="#231f20" stroke-width="1.4" />
<line x1="1747.41" y1="1232.6" x2="1747.41" y2="1237.6" stroke="#231f20" stroke-width="1.4" />
<line x1="1758.16" y1="1232.6" x2="1758.16" y2="1241.6" stroke="#231f20" stroke-width="1.4" />
<line x1="1768.92" y1="1232.6" x2="1768.92" y2="1237.6" stroke="#231f20" stroke-width="1.4" />
<line x1="1779.68" y1="1232.6" x2="1779.68" y2="1241.6" stroke="#231f20" stroke-width="1.4" />
<line x1="1790.44" y1="1232.6" x2="1790.44" y2="1237.6" stroke="#231f20" stroke-width="1.4" />
<line x1="1801.2" y1="1232.6" x2="1801.2" y2="1241.6" stroke="#231f20" stroke-width="1.4" />
<line x1="1811.95" y1="1232.6" x2="1811.95" y2="1237.6" stroke="#231f20" stroke-width="1.4" />
<line x1="1822.71" y1="1232.6" x2="1822.71" y2="1241.6" stroke="#231f20" stroke-width="1.4" />
<line x1="1833.47" y1="1232.6" x2="1833.47" y2="1237.6" stroke="#231f20" stroke-width="1.4" />
<line x1="1844.23" y1="1232.6" x2="1844.23" y2="1241.6" stroke="#231f20" stroke-width="1.4" />
<line x1="1854.99" y1="1232.6" x2="1854.99" y2="1237.6" stroke="#231f20" stroke-width="1.4" />
<line x1="1865.74" y1="1232.6" x2="1865.74" y2="1241.6" stroke="#231f20" stroke-width="1.4" />
<line x1="1876.5" y1="1232.6" x2="1876.5" y2="1237.6" stroke="#231f20" stroke-width="1.4" />
<line x1="1887.26" y1="1232.6" x2="1887.26" y2="1241.6" stroke="#231f20" stroke-width="1.4" />
<line x1="1898.02" y1="1232.6" x2="1898.02" y2="1237.6" stroke="#231f20" stroke-width="1.4" />
<line x1="1908.78" y1="1232.6" x2="1908.78" y2="1241.6" stroke="#231f20" stroke-width="1.4" />
<line x1="1919.53" y1="1232.6" x2="1919.53" y2="1237.6" stroke="#231f20" stroke-width="1.4" />
<line x1="1930.29" y1="1232.6" x2="1930.29" y2="1241.6" stroke="#231f20" stroke-width="1.4" />
<line x1="1941.05" y1="1232.6" x2="1941.05" y2="1237.6" stroke="#231f20" stroke-width="1.4" />
<line x1="1951.81" y1="1232.6" x2="1951.81" y2="1241.6" stroke="#231f20" stroke-width="1.4" />
<text x="1693.62" y="1273.6" font-size="25" fill="#231f20" text-anchor="middle">2</text>
<text x="1736.65" y="1273.6" font-size="25" fill="#231f20" text-anchor="middle">6</text>
<text x="1779.68" y="1273.6" font-size="25" fill="#231f20" text-anchor="middle">10</text>
<text x="1822.71" y="1273.6" font-size="25" fill="#231f20" text-anchor="middle">14</text>
<text x="1865.74" y="1273.6" font-size="25" fill="#231f20" text-anchor="middle">18</text>
<text x="1908.78" y="1273.6" font-size="25" fill="#231f20" text-anchor="middle">22</text>
<text x="1951.81" y="1273.6" font-size="25" fill="#231f20" text-anchor="middle">26</text>
<text x="1812" y="1312" font-size="25" fill="#231f20" text-anchor="middle">Time (hpi)</text>
<text transform="translate(1592.7,1093) rotate(-90)" x="0" y="0" font-size="25" fill="#231f20" text-anchor="middle">Infected cells (%)</text>
<text x="1966.6" y="1013.9" font-size="25" fill="#231f20">Infected with</text>
<text x="1966.6" y="1042.6" font-size="25" fill="#231f20">virions</text>
<text x="1966.6" y="1071.5" font-size="25" fill="#231f20">containing:</text>
<line x1="1963.4" y1="1102" x2="2016.3" y2="1102" stroke="#111" stroke-width="8" />
<text x="2029" y="1110.4" font-size="25" fill="#231f20">1 vRNP</text>
<line x1="1963.4" y1="1136.4" x2="2016.3" y2="1136.4" stroke="#55575a" stroke-width="8" />
<text x="2029" y="1144.8" font-size="25" fill="#231f20">2 vRNPs</text>
<line x1="1963.4" y1="1173.6" x2="2016.3" y2="1173.6" stroke="#8a8c8f" stroke-width="8" />
<text x="2029" y="1182" font-size="25" fill="#231f20">&gt;2 vRNPs</text>
<text x="1950.5" y="1068" font-size="25" fill="#939598" text-anchor="end"><tspan font-style="italic">n</tspan> = 164</text>
<text x="1950.5" y="1092.7" font-size="25" fill="#58595b" text-anchor="end"><tspan font-style="italic">n</tspan> = 64</text>
<text x="1948.5" y="1124.5" font-size="25" fill="#231f20" text-anchor="end"><tspan font-style="italic">n</tspan> = 91</text>
<text x="1549.6" y="1333.1" font-size="34" fill="#231f20" font-weight="bold" stroke="#231f20" stroke-width="0.9">k</text>
<polygon points="1672.14,1622.72 1683.05,1618.55 1684.65,1615.34 1694.28,1615.34 1697.48,1610.53 1700.69,1604.12 1703.9,1599.31 1708.71,1596.1 1713.52,1591.29 1718.33,1584.87 1721.54,1578.46 1724.75,1570.44 1729.56,1564.03 1734.37,1557.61 1735.97,1549.59 1739.18,1543.18 1740.78,1527.14 1743.99,1514.31 1747.2,1506.29 1750.4,1495.07 1753.61,1487.05 1756.82,1472.61 1758.42,1462.99 1761.63,1453.37 1764.84,1443.75 1766.44,1430.92 1769.65,1421.3 1772.86,1408.47 1776.06,1400.45 1779.27,1395.64 1782.48,1387.62 1785.69,1382.81 1792.1,1378 1796.91,1374.79 1798.52,1365.17 1801.72,1357.15 1804.93,1353.94 1824.17,1353.94 1827.38,1350.73 1837,1349.13 1840.21,1345.92 1853.04,1345.92 1856.25,1342.72 1876.78,1342.07 1876.78,1350.09 1859.14,1350.73 1855.93,1353.94 1843.1,1353.94 1839.89,1357.15 1830.27,1358.75 1827.06,1361.96 1807.82,1361.96 1804.61,1365.17 1801.4,1373.19 1799.8,1382.81 1794.99,1386.02 1788.57,1390.83 1785.37,1395.64 1782.16,1403.66 1778.95,1408.47 1775.74,1416.49 1772.54,1429.31 1769.33,1438.94 1767.72,1451.77 1764.52,1461.39 1761.31,1471.01 1759.71,1480.63 1756.5,1495.07 1753.29,1503.08 1750.08,1514.31 1746.88,1522.33 1743.67,1535.16 1742.07,1551.2 1738.86,1557.61 1737.25,1565.63 1732.44,1572.04 1727.63,1578.46 1724.42,1586.48 1721.22,1592.89 1716.41,1599.31 1711.6,1604.12 1706.78,1607.33 1703.58,1612.14 1700.37,1618.55 1697.16,1623.36 1687.54,1623.36 1685.94,1626.57 1672.14,1622.72" fill="#d5c8e3" />
<polygon points="1672.14,1622.72 1732.44,1621.76 1764.52,1607.65 1783.76,1592.25 1799.8,1573.01 1812.63,1555.37 1830.27,1534.52 1847.91,1530.67 1873.57,1528.1 1873.57,1512.71 1915.26,1512.71 1915.26,1539.33 1873.57,1539.33 1873.57,1545.74 1847.91,1545.74 1830.27,1553.76 1812.63,1563.38 1799.8,1589.04 1783.76,1600.27 1764.52,1612.14 1732.44,1622.72 1672.14,1622.72" fill="#fbd8b6" />
<polyline points="1672.14,1622.72 1719.61,1622.72 1719.61,1622.72 1738.86,1622.72 1738.86,1621.12 1745.27,1621.12 1745.27,1616.31 1751.69,1616.31 1751.69,1614.7 1758.1,1614.7 1758.1,1613.1 1764.52,1613.1 1764.52,1609.89 1770.93,1609.89 1770.93,1606.68 1777.35,1606.68 1777.35,1601.87 1783.76,1601.87 1783.76,1595.46 1790.18,1595.46 1790.18,1590.65 1796.59,1590.65 1796.59,1585.84 1799.8,1585.84 1799.8,1576.21 1806.21,1576.21 1806.21,1566.59 1812.63,1566.59 1812.63,1558.57 1819.04,1558.57 1819.04,1556.33 1825.46,1556.33 1825.46,1553.12 1830.27,1553.12 1830.27,1547.35 1833.48,1547.35 1833.48,1541.57 1841.49,1541.57 1841.49,1540.93 1847.91,1540.93 1847.91,1537.72 1851.12,1537.72 1851.12,1535.16 1873.57,1535.16 1873.57,1535.16 1873.57,1535.16 1873.57,1525.54 1915.26,1525.54 1915.26,1525.54" stroke="#f08b2c" stroke-width="3" fill="none" stroke-linejoin="miter" stroke-linecap="butt" />
<polyline points="1672.14,1622.72 1684.33,1622.72 1684.33,1622.72 1685.94,1622.72 1685.94,1619.51 1695.56,1619.51 1695.56,1619.51 1698.77,1619.51 1698.77,1614.7 1701.97,1614.7 1701.97,1608.29 1705.18,1608.29 1705.18,1603.48 1709.99,1603.48 1709.99,1600.27 1714.8,1600.27 1714.8,1595.46 1719.61,1595.46 1719.61,1589.04 1722.82,1589.04 1722.82,1582.63 1726.03,1582.63 1726.03,1574.61 1730.84,1574.61 1730.84,1568.19 1735.65,1568.19 1735.65,1561.78 1737.25,1561.78 1737.25,1553.76 1740.46,1553.76 1740.46,1547.35 1742.07,1547.35 1742.07,1531.31 1745.27,1531.31 1745.27,1518.48 1748.48,1518.48 1748.48,1510.46 1751.69,1510.46 1751.69,1499.24 1754.9,1499.24 1754.9,1491.22 1758.1,1491.22 1758.1,1476.78 1759.71,1476.78 1759.71,1467.16 1762.91,1467.16 1762.91,1457.54 1766.12,1457.54 1766.12,1447.92 1767.72,1447.92 1767.72,1435.09 1770.93,1435.09 1770.93,1425.47 1774.14,1425.47 1774.14,1412.64 1777.35,1412.64 1777.35,1404.62 1780.55,1404.62 1780.55,1399.81 1783.76,1399.81 1783.76,1391.79 1786.97,1391.79 1786.97,1386.98 1793.38,1386.98 1793.38,1382.17 1798.19,1382.17 1798.19,1378.96 1799.8,1378.96 1799.8,1369.34 1803.01,1369.34 1803.01,1361.32 1806.21,1361.32 1806.21,1358.11 1825.46,1358.11 1825.46,1358.11 1828.67,1358.11 1828.67,1354.9 1838.29,1354.9 1838.29,1353.3 1841.49,1353.3 1841.49,1350.09 1854.32,1350.09 1854.32,1350.09 1857.53,1350.09 1857.53,1346.88 1876.78,1346.88 1876.78,1345.92" stroke="#6c3f97" stroke-width="3" fill="none" stroke-linejoin="miter" stroke-linecap="butt" />
<rect x="1672.1" y="1342.1" width="279.7" height="280.6" fill="none" stroke="#231f20" stroke-width="1.4" />
<line x1="1662.5" y1="1622.7" x2="1672.1" y2="1622.7" stroke="#231f20" stroke-width="1.4" />
<text x="1650.7" y="1631.65" font-size="25" fill="#231f20" text-anchor="end">0</text>
<line x1="1662.5" y1="1594.64" x2="1672.1" y2="1594.64" stroke="#231f20" stroke-width="1.4" />
<line x1="1662.5" y1="1566.58" x2="1672.1" y2="1566.58" stroke="#231f20" stroke-width="1.4" />
<text x="1650.7" y="1575.53" font-size="25" fill="#231f20" text-anchor="end">20</text>
<line x1="1662.5" y1="1538.52" x2="1672.1" y2="1538.52" stroke="#231f20" stroke-width="1.4" />
<line x1="1662.5" y1="1510.46" x2="1672.1" y2="1510.46" stroke="#231f20" stroke-width="1.4" />
<text x="1650.7" y="1519.41" font-size="25" fill="#231f20" text-anchor="end">40</text>
<line x1="1662.5" y1="1482.4" x2="1672.1" y2="1482.4" stroke="#231f20" stroke-width="1.4" />
<line x1="1662.5" y1="1454.34" x2="1672.1" y2="1454.34" stroke="#231f20" stroke-width="1.4" />
<text x="1650.7" y="1463.29" font-size="25" fill="#231f20" text-anchor="end">60</text>
<line x1="1662.5" y1="1426.28" x2="1672.1" y2="1426.28" stroke="#231f20" stroke-width="1.4" />
<line x1="1662.5" y1="1398.22" x2="1672.1" y2="1398.22" stroke="#231f20" stroke-width="1.4" />
<text x="1650.7" y="1407.17" font-size="25" fill="#231f20" text-anchor="end">80</text>
<line x1="1662.5" y1="1370.16" x2="1672.1" y2="1370.16" stroke="#231f20" stroke-width="1.4" />
<line x1="1662.5" y1="1342.1" x2="1672.1" y2="1342.1" stroke="#231f20" stroke-width="1.4" />
<text x="1650.7" y="1351.05" font-size="25" fill="#231f20" text-anchor="end">100</text>
<line x1="1672.1" y1="1622.7" x2="1672.1" y2="1631.7" stroke="#231f20" stroke-width="1.4" />
<line x1="1682.86" y1="1622.7" x2="1682.86" y2="1627.7" stroke="#231f20" stroke-width="1.4" />
<line x1="1693.62" y1="1622.7" x2="1693.62" y2="1631.7" stroke="#231f20" stroke-width="1.4" />
<line x1="1704.37" y1="1622.7" x2="1704.37" y2="1627.7" stroke="#231f20" stroke-width="1.4" />
<line x1="1715.13" y1="1622.7" x2="1715.13" y2="1631.7" stroke="#231f20" stroke-width="1.4" />
<line x1="1725.89" y1="1622.7" x2="1725.89" y2="1627.7" stroke="#231f20" stroke-width="1.4" />
<line x1="1736.65" y1="1622.7" x2="1736.65" y2="1631.7" stroke="#231f20" stroke-width="1.4" />
<line x1="1747.41" y1="1622.7" x2="1747.41" y2="1627.7" stroke="#231f20" stroke-width="1.4" />
<line x1="1758.16" y1="1622.7" x2="1758.16" y2="1631.7" stroke="#231f20" stroke-width="1.4" />
<line x1="1768.92" y1="1622.7" x2="1768.92" y2="1627.7" stroke="#231f20" stroke-width="1.4" />
<line x1="1779.68" y1="1622.7" x2="1779.68" y2="1631.7" stroke="#231f20" stroke-width="1.4" />
<line x1="1790.44" y1="1622.7" x2="1790.44" y2="1627.7" stroke="#231f20" stroke-width="1.4" />
<line x1="1801.2" y1="1622.7" x2="1801.2" y2="1631.7" stroke="#231f20" stroke-width="1.4" />
<line x1="1811.95" y1="1622.7" x2="1811.95" y2="1627.7" stroke="#231f20" stroke-width="1.4" />
<line x1="1822.71" y1="1622.7" x2="1822.71" y2="1631.7" stroke="#231f20" stroke-width="1.4" />
<line x1="1833.47" y1="1622.7" x2="1833.47" y2="1627.7" stroke="#231f20" stroke-width="1.4" />
<line x1="1844.23" y1="1622.7" x2="1844.23" y2="1631.7" stroke="#231f20" stroke-width="1.4" />
<line x1="1854.99" y1="1622.7" x2="1854.99" y2="1627.7" stroke="#231f20" stroke-width="1.4" />
<line x1="1865.74" y1="1622.7" x2="1865.74" y2="1631.7" stroke="#231f20" stroke-width="1.4" />
<line x1="1876.5" y1="1622.7" x2="1876.5" y2="1627.7" stroke="#231f20" stroke-width="1.4" />
<line x1="1887.26" y1="1622.7" x2="1887.26" y2="1631.7" stroke="#231f20" stroke-width="1.4" />
<line x1="1898.02" y1="1622.7" x2="1898.02" y2="1627.7" stroke="#231f20" stroke-width="1.4" />
<line x1="1908.78" y1="1622.7" x2="1908.78" y2="1631.7" stroke="#231f20" stroke-width="1.4" />
<line x1="1919.53" y1="1622.7" x2="1919.53" y2="1627.7" stroke="#231f20" stroke-width="1.4" />
<line x1="1930.29" y1="1622.7" x2="1930.29" y2="1631.7" stroke="#231f20" stroke-width="1.4" />
<line x1="1941.05" y1="1622.7" x2="1941.05" y2="1627.7" stroke="#231f20" stroke-width="1.4" />
<line x1="1951.81" y1="1622.7" x2="1951.81" y2="1631.7" stroke="#231f20" stroke-width="1.4" />
<text x="1693.62" y="1662.8" font-size="25" fill="#231f20" text-anchor="middle">2</text>
<text x="1736.65" y="1662.8" font-size="25" fill="#231f20" text-anchor="middle">6</text>
<text x="1779.68" y="1662.8" font-size="25" fill="#231f20" text-anchor="middle">10</text>
<text x="1822.71" y="1662.8" font-size="25" fill="#231f20" text-anchor="middle">14</text>
<text x="1865.74" y="1662.8" font-size="25" fill="#231f20" text-anchor="middle">18</text>
<text x="1908.78" y="1662.8" font-size="25" fill="#231f20" text-anchor="middle">22</text>
<text x="1951.81" y="1662.8" font-size="25" fill="#231f20" text-anchor="middle">26</text>
<text x="1812" y="1701" font-size="25" fill="#231f20" text-anchor="middle">Time (hpi)</text>
<text transform="translate(1588,1483) rotate(-90)" x="0" y="0" font-size="25" fill="#231f20" text-anchor="middle">Infected cells (%)</text>
<text x="1984.2" y="1401.4" font-size="25" fill="#231f20">Infected with</text>
<text x="1984.2" y="1430.3" font-size="25" fill="#231f20">virions</text>
<text x="1984.2" y="1459.2" font-size="25" fill="#231f20">containing:</text>
<line x1="1979.4" y1="1485.8" x2="2032.3" y2="1485.8" stroke="#6c3f97" stroke-width="8" />
<text x="2045.2" y="1494.5" font-size="25" fill="#231f20">DARPin-P<tspan dy="-9" font-size="17">+</tspan><tspan dy="9"></tspan></text>
<text x="2045.2" y="1524.9" font-size="25" fill="#231f20">vRNPs</text>
<line x1="1979.4" y1="1560.2" x2="2032.3" y2="1560.2" stroke="#f08b2c" stroke-width="8" />
<text x="2045.2" y="1568.5" font-size="25" fill="#231f20">DARPin-P<tspan dy="-9" font-size="17">−</tspan><tspan dy="9"></tspan></text>
<text x="2045.2" y="1598.5" font-size="25" fill="#231f20">vRNPs</text>
<text x="1873.6" y="1367.7" font-size="25" fill="#231f20"><tspan font-style="italic">n</tspan> = 78</text>
<text x="1873.6" y="1501.5" font-size="25" fill="#231f20"><tspan font-style="italic">n</tspan> = 241</text>
<text x="1.3" y="1687.2" font-size="34" fill="#231f20" font-weight="bold" stroke="#231f20" stroke-width="0.9">l</text>
<rect x="103.6" y="1693" width="27.3" height="27.6" fill="#0e72b6" stroke="#111" stroke-width="1.2" />
<text x="142.6" y="1716.4" font-size="25" fill="#231f20">Successful</text>
<rect x="316" y="1693" width="28.4" height="27.6" fill="#e62434" stroke="#111" stroke-width="1.2" />
<text x="355.3" y="1716.4" font-size="25" fill="#231f20">Stalled</text>
<line x1="101.2" y1="1729.1" x2="101.2" y2="2013.8" stroke="#231f20" stroke-width="1.4" />
<line x1="91.1" y1="2013.8" x2="101.2" y2="2013.8" stroke="#231f20" stroke-width="1.4" />
<text x="79.7" y="2022.75" font-size="25" fill="#231f20" text-anchor="end">0</text>
<line x1="91.1" y1="1985.33" x2="101.2" y2="1985.33" stroke="#231f20" stroke-width="1.4" />
<line x1="91.1" y1="1956.86" x2="101.2" y2="1956.86" stroke="#231f20" stroke-width="1.4" />
<text x="79.7" y="1965.81" font-size="25" fill="#231f20" text-anchor="end">20</text>
<line x1="91.1" y1="1928.39" x2="101.2" y2="1928.39" stroke="#231f20" stroke-width="1.4" />
<line x1="91.1" y1="1899.92" x2="101.2" y2="1899.92" stroke="#231f20" stroke-width="1.4" />
<text x="79.7" y="1908.87" font-size="25" fill="#231f20" text-anchor="end">40</text>
<line x1="91.1" y1="1871.45" x2="101.2" y2="1871.45" stroke="#231f20" stroke-width="1.4" />
<line x1="91.1" y1="1842.98" x2="101.2" y2="1842.98" stroke="#231f20" stroke-width="1.4" />
<text x="79.7" y="1851.93" font-size="25" fill="#231f20" text-anchor="end">60</text>
<line x1="91.1" y1="1814.51" x2="101.2" y2="1814.51" stroke="#231f20" stroke-width="1.4" />
<line x1="91.1" y1="1786.04" x2="101.2" y2="1786.04" stroke="#231f20" stroke-width="1.4" />
<text x="79.7" y="1794.99" font-size="25" fill="#231f20" text-anchor="end">80</text>
<line x1="91.1" y1="1757.57" x2="101.2" y2="1757.57" stroke="#231f20" stroke-width="1.4" />
<line x1="91.1" y1="1729.1" x2="101.2" y2="1729.1" stroke="#231f20" stroke-width="1.4" />
<text x="79.7" y="1738.05" font-size="25" fill="#231f20" text-anchor="end">100</text>
<rect x="106.2" y="1729.7" width="37.5" height="162" fill="#0e72b6" stroke="#111" stroke-width="1.2" />
<rect x="106.2" y="1891.7" width="37.5" height="122.1" fill="#e62434" stroke="#111" stroke-width="1.2" />
<rect x="153.5" y="1729.7" width="37.2" height="135.9" fill="#0e72b6" stroke="#111" stroke-width="1.2" />
<rect x="153.5" y="1865.6" width="37.2" height="148.2" fill="#e62434" stroke="#111" stroke-width="1.2" />
<line x1="124.8" y1="1729.7" x2="124.8" y2="1756.8" stroke="#111" stroke-width="1.4" />
<line x1="119.5" y1="1756.8" x2="130" y2="1756.8" stroke="#111" stroke-width="1.4" />
<line x1="124.8" y1="1891.7" x2="124.8" y2="1918.2" stroke="#111" stroke-width="1.4" />
<line x1="119.5" y1="1918.2" x2="130" y2="1918.2" stroke="#111" stroke-width="1.4" />
<line x1="172.1" y1="1729.7" x2="172.1" y2="1743" stroke="#111" stroke-width="1.4" />
<line x1="166.8" y1="1743" x2="177.3" y2="1743" stroke="#111" stroke-width="1.4" />
<line x1="172.1" y1="1865.6" x2="172.1" y2="1877.9" stroke="#111" stroke-width="1.4" />
<line x1="166.8" y1="1877.9" x2="177.3" y2="1877.9" stroke="#111" stroke-width="1.4" />
<line x1="91.1" y1="2013.8" x2="196.5" y2="2013.8" stroke="#231f20" stroke-width="1.4" />
<line x1="124.8" y1="2013.8" x2="124.8" y2="2023.1" stroke="#231f20" stroke-width="1.4" />
<line x1="172.1" y1="2013.8" x2="172.1" y2="2023.1" stroke="#231f20" stroke-width="1.4" />
<text x="122.8" y="2053.7" font-size="25" fill="#231f20" text-anchor="middle">#1</text>
<text x="170.1" y="2053.7" font-size="25" fill="#231f20" text-anchor="middle">#2</text>
<text transform="translate(132.3,1828.5) rotate(-90)" x="0" y="0" font-size="21" fill="#fff" text-anchor="middle">56.7 ± 7.9%</text>
<text transform="translate(179.6,1801.3) rotate(-90)" x="0" y="0" font-size="21" fill="#fff" text-anchor="middle">47.5 ± 3.5%</text>
<text transform="translate(132.3,1970.7) rotate(-90)" x="0" y="0" font-size="21" fill="#fff" text-anchor="middle"><tspan font-style="italic">n</tspan> = 150</text>
<text transform="translate(179.6,1962) rotate(-90)" x="0" y="0" font-size="21" fill="#fff" text-anchor="middle"><tspan font-style="italic">n</tspan> = 120</text>
<text x="214.6" y="1781.5" font-size="25" fill="#231f20">Clinical isolates:</text>
<text x="214.6" y="1814" font-size="25" fill="#231f20">#1 (03-036454)</text>
<text x="214.6" y="1846.8" font-size="25" fill="#231f20">#2 (18-001989)</text>
<text transform="translate(18.9,1872.5) rotate(-90)" x="0" y="0" font-size="25" fill="#231f20" text-anchor="middle">Infected cells (%)</text>
<text x="550.6" y="1688.2" font-size="34" fill="#231f20" font-weight="bold" stroke="#231f20" stroke-width="0.9">m</text>
<text x="614.4" y="1697.2" font-size="25" fill="#231f20">Successful infections (AbG<tspan dy="-9" font-size="17">+</tspan><tspan dy="9"> infections)</tspan></text>
<polygon points="664.72,2013.15 664.72,1951.12 693.03,1951.12 694.38,1944.38 702.02,1944.38 702.02,1919.66 706.52,1919.66 708.76,1901.69 713.26,1879.21 720,1865.73 726.74,1861.24 728.99,1838.76 735.73,1807.3 737.98,1789.33 744.72,1784.83 749.21,1764.61 758.2,1764.61 760.45,1753.37 771.69,1753.37 778.43,1739.89 789.66,1728.65 803.15,1728.65 803.15,1728.65 803.15,1766.85 794.16,1784.83 789.66,1816.29 778.43,1829.78 771.69,1843.26 762.7,1847.75 751.46,1861.24 744.72,1874.72 740.22,1901.69 735.73,1928.65 731.24,1951.12 726.74,1964.61 717.75,1982.58 713.26,1991.57 706.52,2000.56 702.02,2009.55 693.03,2013.15 664.72,2013.15" fill="#c9b8dc" opacity="0.85"/>
<polygon points="708.76,2013.15 717.75,1982.58 722.25,1960.11 726.74,1919.66 731.24,1883.71 735.73,1852.25 744.72,1838.76 753.71,1820.79 762.7,1798.31 771.69,1784.83 785.17,1757.87 798.65,1744.38 807.64,1730.9 816.63,1728.65 926.74,1728.65 926.74,1775.84 834.61,1775.84 830.11,1791.57 816.63,1798.31 812.13,1820.79 800.9,1820.79 794.16,1861.24 785.17,1870.22 771.69,1874.72 753.71,1883.71 744.72,1901.69 740.22,1937.64 735.73,1964.61 728.99,1991.57 726.74,2013.15 708.76,2013.15" fill="#ddd3e9" opacity="0.85"/>
<polygon points="690.79,2013.15 699.78,2005.06 717.75,1996.07 735.73,1973.6 753.71,1951.12 771.69,1937.64 789.66,1924.16 812.13,1908.43 834.61,1897.19 861.57,1879.21 879.55,1872.47 906.52,1861.24 928.99,1852.25 942.47,1841.01 942.47,1894.94 928.99,1903.93 906.52,1908.43 879.55,1915.17 861.57,1924.16 834.61,1951.12 812.13,1969.1 789.66,1984.83 771.69,1996.07 753.71,2002.81 735.73,2009.55 717.75,2013.15 690.79,2013.15" fill="#fcd5ae" opacity="0.85"/>
<polygon points="713.26,2013.15 726.74,2005.06 744.72,1987.08 762.7,1973.6 789.66,1955.62 812.13,1942.13 834.61,1933.15 861.57,1928.65 879.55,1919.66 906.52,1910.67 928.99,1901.69 942.47,1888.2 942.47,1937.64 928.99,1951.12 906.52,1964.61 879.55,1973.6 861.57,1980.34 834.61,1987.08 812.13,1993.82 789.66,2000.56 771.69,2007.3 744.72,2009.55 731.24,2013.15 713.26,2013.15" fill="#fde3c9" opacity="0.85"/>
<polyline points="657.08,2013.15 722.25,2013.15 722.25,2013.15 735.73,2013.15 735.73,2009.55 744.72,2009.55 744.72,2000.56 753.71,2000.56 753.71,1998.31 762.7,1998.31 762.7,1996.07 771.69,1996.07 771.69,1991.57 776.18,1991.57 776.18,1984.83 785.17,1984.83 785.17,1978.09 794.16,1978.09 794.16,1975.84 803.15,1975.84 803.15,1973.6 816.63,1973.6 816.63,1971.35 830.11,1971.35 830.11,1969.1 839.1,1969.1 839.1,1960.11 843.6,1960.11 843.6,1955.62 852.58,1955.62 852.58,1953.37 861.57,1953.37 861.57,1951.12 868.31,1951.12 868.31,1946.63 875.06,1946.63 875.06,1942.13 884.04,1942.13 884.04,1941.24 893.03,1941.24 893.03,1937.64 902.02,1937.64 902.02,1933.15 906.52,1933.15 906.52,1924.16 924.49,1924.16 924.49,1924.16 933.48,1924.16 933.48,1910.67 937.98,1910.67 937.98,1901.69 942.47,1901.69 942.47,1897.19" stroke="#f08b2c" stroke-width="3" fill="none" stroke-linejoin="miter" stroke-linecap="butt" stroke-dasharray="8 5" />
<polyline points="657.08,2013.15 690.79,2013.15 690.79,2013.15 717.75,2013.15 717.75,2011.8 726.74,2011.8 726.74,2005.06 735.73,2005.06 735.73,1993.82 744.72,1993.82 744.72,1982.58 753.71,1982.58 753.71,1973.6 764.94,1973.6 764.94,1966.85 771.69,1966.85 771.69,1960.11 780.67,1960.11 780.67,1960.11 785.17,1960.11 785.17,1951.12 794.16,1951.12 794.16,1946.63 800.9,1946.63 800.9,1942.13 803.15,1942.13 803.15,1935.39 807.64,1935.39 807.64,1933.15 816.63,1933.15 816.63,1930.9 821.12,1930.9 821.12,1926.4 830.11,1926.4 830.11,1919.66 834.61,1919.66 834.61,1915.17 839.1,1915.17 839.1,1910.67 843.6,1910.67 843.6,1906.18 852.58,1906.18 852.58,1901.69 861.57,1901.69 861.57,1892.7 879.55,1892.7 879.55,1892.7 884.04,1892.7 884.04,1888.2 902.02,1888.2 902.02,1883.71 920,1883.71 920,1881.46 928.99,1881.46 928.99,1879.21 937.98,1879.21 937.98,1870.22 942.47,1870.22 942.47,1863.48" stroke="#f08b2c" stroke-width="3" fill="none" stroke-linejoin="miter" stroke-linecap="butt" />
<polyline points="657.08,2013.15 713.26,2013.15 713.26,2013.15 717.75,2013.15 717.75,2005.06 720,2005.06 720,1955.62 726.74,1955.62 726.74,1953.37 727.64,1953.37 727.64,1928.65 731.24,1928.65 731.24,1901.69 734.83,1901.69 734.83,1879.21 737.98,1879.21 737.98,1854.49 749.21,1854.49 749.21,1852.25 753.71,1852.25 753.71,1852.25 755.96,1852.25 755.96,1843.26 760.45,1843.26 760.45,1832.02 762.7,1832.02 762.7,1818.54 771.69,1818.54 771.69,1818.54 791.91,1818.54 791.91,1818.54 796.4,1818.54 796.4,1793.82 800.9,1793.82 800.9,1784.83 807.64,1784.83 807.64,1773.6 812.13,1773.6 812.13,1766.85 816.63,1766.85 816.63,1753.37 821.12,1753.37 821.12,1748.88 830.11,1748.88 830.11,1748.88 834.61,1748.88 834.61,1742.13 839.1,1742.13 839.1,1739.89 926.74,1739.89 926.74,1739.89 928.09,1739.89 928.09,1730.9" stroke="#6c3f97" stroke-width="3" fill="none" stroke-linejoin="miter" stroke-linecap="butt" stroke-dasharray="8 5" />
<polyline points="657.08,2013.15 663.82,2013.15 663.82,2013.15 664.72,2013.15 664.72,2002.81 693.03,2002.81 693.03,2002.81 694.38,2002.81 694.38,1991.57 699.78,1991.57 699.78,1991.57 702.02,1991.57 702.02,1973.6 706.52,1973.6 706.52,1973.6 707.87,1973.6 707.87,1955.62 711.01,1955.62 711.01,1946.63 713.26,1946.63 713.26,1933.15 717.75,1933.15 717.75,1926.4 722.25,1926.4 722.25,1921.91 726.74,1921.91 726.74,1919.66 728.99,1919.66 728.99,1906.18 731.24,1906.18 731.24,1892.7 733.48,1892.7 733.48,1874.72 735.73,1874.72 735.73,1858.99 737.98,1858.99 737.98,1836.52 742.47,1836.52 742.47,1836.52 744.72,1836.52 744.72,1820.79 749.21,1820.79 749.21,1814.04 751.46,1814.04 751.46,1807.3 755.96,1807.3 755.96,1793.82 760.45,1793.82 760.45,1784.83 773.93,1784.83 773.93,1784.83 776.18,1784.83 776.18,1778.09 780.67,1778.09 780.67,1775.84 785.17,1775.84 785.17,1757.87 789.66,1757.87 789.66,1746.63 791.91,1746.63 791.91,1735.39 798.65,1735.39 798.65,1735.39 803.15,1735.39 803.15,1728.65" stroke="#6c3f97" stroke-width="3" fill="none" stroke-linejoin="miter" stroke-linecap="butt" />
<rect x="657.1" y="1728.7" width="285.4" height="284.4" fill="none" stroke="#231f20" stroke-width="1.4" />
<line x1="647.2" y1="2013.1" x2="657.1" y2="2013.1" stroke="#231f20" stroke-width="1.4" />
<text x="636" y="2022.05" font-size="25" fill="#231f20" text-anchor="end">0</text>
<line x1="647.2" y1="1984.66" x2="657.1" y2="1984.66" stroke="#231f20" stroke-width="1.4" />
<line x1="647.2" y1="1956.22" x2="657.1" y2="1956.22" stroke="#231f20" stroke-width="1.4" />
<text x="636" y="1965.17" font-size="25" fill="#231f20" text-anchor="end">20</text>
<line x1="647.2" y1="1927.78" x2="657.1" y2="1927.78" stroke="#231f20" stroke-width="1.4" />
<line x1="647.2" y1="1899.34" x2="657.1" y2="1899.34" stroke="#231f20" stroke-width="1.4" />
<text x="636" y="1908.29" font-size="25" fill="#231f20" text-anchor="end">40</text>
<line x1="647.2" y1="1870.9" x2="657.1" y2="1870.9" stroke="#231f20" stroke-width="1.4" />
<line x1="647.2" y1="1842.46" x2="657.1" y2="1842.46" stroke="#231f20" stroke-width="1.4" />
<text x="636" y="1851.41" font-size="25" fill="#231f20" text-anchor="end">60</text>
<line x1="647.2" y1="1814.02" x2="657.1" y2="1814.02" stroke="#231f20" stroke-width="1.4" />
<line x1="647.2" y1="1785.58" x2="657.1" y2="1785.58" stroke="#231f20" stroke-width="1.4" />
<text x="636" y="1794.53" font-size="25" fill="#231f20" text-anchor="end">80</text>
<line x1="647.2" y1="1757.14" x2="657.1" y2="1757.14" stroke="#231f20" stroke-width="1.4" />
<line x1="647.2" y1="1728.7" x2="657.1" y2="1728.7" stroke="#231f20" stroke-width="1.4" />
<text x="636" y="1737.65" font-size="25" fill="#231f20" text-anchor="end">100</text>
<line x1="657.1" y1="2013.1" x2="657.1" y2="2022.1" stroke="#231f20" stroke-width="1.4" />
<line x1="671.37" y1="2013.1" x2="671.37" y2="2018.1" stroke="#231f20" stroke-width="1.4" />
<line x1="685.64" y1="2013.1" x2="685.64" y2="2022.1" stroke="#231f20" stroke-width="1.4" />
<line x1="699.91" y1="2013.1" x2="699.91" y2="2018.1" stroke="#231f20" stroke-width="1.4" />
<line x1="714.18" y1="2013.1" x2="714.18" y2="2022.1" stroke="#231f20" stroke-width="1.4" />
<line x1="728.45" y1="2013.1" x2="728.45" y2="2018.1" stroke="#231f20" stroke-width="1.4" />
<line x1="742.72" y1="2013.1" x2="742.72" y2="2022.1" stroke="#231f20" stroke-width="1.4" />
<line x1="756.99" y1="2013.1" x2="756.99" y2="2018.1" stroke="#231f20" stroke-width="1.4" />
<line x1="771.26" y1="2013.1" x2="771.26" y2="2022.1" stroke="#231f20" stroke-width="1.4" />
<line x1="785.53" y1="2013.1" x2="785.53" y2="2018.1" stroke="#231f20" stroke-width="1.4" />
<line x1="799.8" y1="2013.1" x2="799.8" y2="2022.1" stroke="#231f20" stroke-width="1.4" />
<line x1="814.07" y1="2013.1" x2="814.07" y2="2018.1" stroke="#231f20" stroke-width="1.4" />
<line x1="828.34" y1="2013.1" x2="828.34" y2="2022.1" stroke="#231f20" stroke-width="1.4" />
<line x1="842.61" y1="2013.1" x2="842.61" y2="2018.1" stroke="#231f20" stroke-width="1.4" />
<line x1="856.88" y1="2013.1" x2="856.88" y2="2022.1" stroke="#231f20" stroke-width="1.4" />
<line x1="871.15" y1="2013.1" x2="871.15" y2="2018.1" stroke="#231f20" stroke-width="1.4" />
<line x1="885.42" y1="2013.1" x2="885.42" y2="2022.1" stroke="#231f20" stroke-width="1.4" />
<line x1="899.69" y1="2013.1" x2="899.69" y2="2018.1" stroke="#231f20" stroke-width="1.4" />
<line x1="913.96" y1="2013.1" x2="913.96" y2="2022.1" stroke="#231f20" stroke-width="1.4" />
<line x1="928.23" y1="2013.1" x2="928.23" y2="2018.1" stroke="#231f20" stroke-width="1.4" />
<line x1="942.5" y1="2013.1" x2="942.5" y2="2022.1" stroke="#231f20" stroke-width="1.4" />
<text transform="translate(665.5,2029.8) rotate(-90)" x="0" y="0" font-size="25" fill="#231f20" text-anchor="end">0</text>
<text transform="translate(722.58,2029.8) rotate(-90)" x="0" y="0" font-size="25" fill="#231f20" text-anchor="end">4</text>
<text transform="translate(779.66,2029.8) rotate(-90)" x="0" y="0" font-size="25" fill="#231f20" text-anchor="end">8</text>
<text transform="translate(836.74,2029.8) rotate(-90)" x="0" y="0" font-size="25" fill="#231f20" text-anchor="end">12</text>
<text transform="translate(893.82,2029.8) rotate(-90)" x="0" y="0" font-size="25" fill="#231f20" text-anchor="end">16</text>
<text transform="translate(950.9,2029.8) rotate(-90)" x="0" y="0" font-size="25" fill="#231f20" text-anchor="end">20</text>
<text x="798.6" y="2101" font-size="25" fill="#231f20" text-anchor="middle">Time (hpi)</text>
<text transform="translate(573.4,1871) rotate(-90)" x="0" y="0" font-size="25" fill="#231f20" text-anchor="middle">Infected cells (%)</text>
<text x="696.6" y="1751" font-size="25" fill="#231f20"><tspan font-style="italic">n</tspan> = 30</text>
<text x="929" y="1764.6" font-size="25" fill="#231f20" text-anchor="end"><tspan font-style="italic">n</tspan> = 25</text>
<text x="935.7" y="1838.8" font-size="25" fill="#231f20" text-anchor="end"><tspan font-style="italic">n</tspan> = 120</text>
<text x="937" y="1989.3" font-size="25" fill="#231f20" text-anchor="end"><tspan font-style="italic">n</tspan> = 95</text>
<text x="961.3" y="1793" font-size="25" fill="#231f20">Infected with virions from</text>
<text x="961.3" y="1824.5" font-size="25" fill="#231f20">clinical isolated containing:</text>
<text x="968.5" y="1865.7" font-size="25" fill="#231f20">03-036456</text>
<text x="1188.3" y="1865.7" font-size="25" fill="#231f20">18-001989</text>
<line x1="967.2" y1="1892.7" x2="1006.3" y2="1892.7" stroke="#6c3f97" stroke-width="3.5" />
<text x="1018.9" y="1901" font-size="25" fill="#231f20">DARPin-P<tspan dy="-9" font-size="17">+</tspan><tspan dy="9"></tspan></text>
<line x1="1184.3" y1="1892.7" x2="1227.9" y2="1892.7" stroke="#6c3f97" stroke-width="4" stroke-dasharray="10 6"/>
<text x="1239.1" y="1901" font-size="25" fill="#231f20">DARPin-P<tspan dy="-9" font-size="17">+</tspan><tspan dy="9"></tspan></text>
<line x1="967.2" y1="1939" x2="1006.3" y2="1939" stroke="#f08b2c" stroke-width="3.5" />
<text x="1018.9" y="1947.5" font-size="25" fill="#231f20">DARPin-P<tspan dy="-9" font-size="17">−</tspan><tspan dy="9"></tspan></text>
<line x1="1184.3" y1="1939" x2="1227.9" y2="1939" stroke="#f08b2c" stroke-width="4" stroke-dasharray="10 6"/>
<text x="1239.1" y="1947.5" font-size="25" fill="#231f20">DARPin-P<tspan dy="-9" font-size="17">−</tspan><tspan dy="9"></tspan></text>
<text x="1527.3" y="1755.8" font-size="34" fill="#231f20" font-weight="bold" stroke="#231f20" stroke-width="0.9">n</text>
<rect x="1654.5" y="1743.9" width="28" height="27.3" fill="#0e72b6" stroke="#111" stroke-width="1.2" />
<text x="1694.5" y="1766" font-size="25" fill="#231f20">Successful</text>
<rect x="1867.4" y="1743.9" width="28.4" height="27.3" fill="#e62434" stroke="#111" stroke-width="1.2" />
<text x="1906" y="1766" font-size="25" fill="#231f20">Stalled</text>
<line x1="1650.1" y1="1779" x2="1650.1" y2="2062.9" stroke="#231f20" stroke-width="1.4" />
<line x1="1639.9" y1="2062.9" x2="1650.1" y2="2062.9" stroke="#231f20" stroke-width="1.4" />
<text x="1629.6" y="2071.85" font-size="25" fill="#231f20" text-anchor="end">0</text>
<line x1="1639.9" y1="2034.51" x2="1650.1" y2="2034.51" stroke="#231f20" stroke-width="1.4" />
<line x1="1639.9" y1="2006.12" x2="1650.1" y2="2006.12" stroke="#231f20" stroke-width="1.4" />
<text x="1629.6" y="2015.07" font-size="25" fill="#231f20" text-anchor="end">20</text>
<line x1="1639.9" y1="1977.73" x2="1650.1" y2="1977.73" stroke="#231f20" stroke-width="1.4" />
<line x1="1639.9" y1="1949.34" x2="1650.1" y2="1949.34" stroke="#231f20" stroke-width="1.4" />
<text x="1629.6" y="1958.29" font-size="25" fill="#231f20" text-anchor="end">40</text>
<line x1="1639.9" y1="1920.95" x2="1650.1" y2="1920.95" stroke="#231f20" stroke-width="1.4" />
<line x1="1639.9" y1="1892.56" x2="1650.1" y2="1892.56" stroke="#231f20" stroke-width="1.4" />
<text x="1629.6" y="1901.51" font-size="25" fill="#231f20" text-anchor="end">60</text>
<line x1="1639.9" y1="1864.17" x2="1650.1" y2="1864.17" stroke="#231f20" stroke-width="1.4" />
<line x1="1639.9" y1="1835.78" x2="1650.1" y2="1835.78" stroke="#231f20" stroke-width="1.4" />
<text x="1629.6" y="1844.73" font-size="25" fill="#231f20" text-anchor="end">80</text>
<line x1="1639.9" y1="1807.39" x2="1650.1" y2="1807.39" stroke="#231f20" stroke-width="1.4" />
<line x1="1639.9" y1="1779" x2="1650.1" y2="1779" stroke="#231f20" stroke-width="1.4" />
<text x="1629.6" y="1787.95" font-size="25" fill="#231f20" text-anchor="end">100</text>
<rect x="1654.5" y="1779" width="29.7" height="140.6" fill="#0e72b6" stroke="#111" stroke-width="1.2" />
<rect x="1654.5" y="1919.6" width="29.7" height="143.3" fill="#e62434" stroke="#111" stroke-width="1.2" />
<line x1="1669.35" y1="1779" x2="1669.35" y2="1807" stroke="#111" stroke-width="1.4" />
<line x1="1663.85" y1="1807" x2="1674.85" y2="1807" stroke="#111" stroke-width="1.4" />
<line x1="1669.35" y1="1919.6" x2="1669.35" y2="1945" stroke="#111" stroke-width="1.4" />
<line x1="1663.85" y1="1945" x2="1674.85" y2="1945" stroke="#111" stroke-width="1.4" />
<line x1="1669.35" y1="2062.9" x2="1669.35" y2="2073.1" stroke="#231f20" stroke-width="1.4" />
<text x="1668.35" y="2102.1" font-size="25" fill="#231f20" text-anchor="middle">1</text>
<rect x="1692" y="1779" width="30.1" height="138.2" fill="#0e72b6" stroke="#111" stroke-width="1.2" />
<rect x="1692" y="1917.2" width="30.1" height="145.7" fill="#e62434" stroke="#111" stroke-width="1.2" />
<line x1="1707.05" y1="1917.2" x2="1707.05" y2="1949.5" stroke="#111" stroke-width="1.4" />
<line x1="1701.55" y1="1949.5" x2="1712.55" y2="1949.5" stroke="#111" stroke-width="1.4" />
<line x1="1707.05" y1="2062.9" x2="1707.05" y2="2073.1" stroke="#231f20" stroke-width="1.4" />
<text x="1706.05" y="2102.1" font-size="25" fill="#231f20" text-anchor="middle">2</text>
<rect x="1730.3" y="1779" width="29.7" height="204.4" fill="#0e72b6" stroke="#111" stroke-width="1.2" />
<rect x="1730.3" y="1983.4" width="29.7" height="79.5" fill="#e62434" stroke="#111" stroke-width="1.2" />
<line x1="1745.15" y1="1779" x2="1745.15" y2="1818" stroke="#111" stroke-width="1.4" />
<line x1="1739.65" y1="1818" x2="1750.65" y2="1818" stroke="#111" stroke-width="1.4" />
<line x1="1745.15" y1="1983.4" x2="1745.15" y2="2022" stroke="#111" stroke-width="1.4" />
<line x1="1739.65" y1="2022" x2="1750.65" y2="2022" stroke="#111" stroke-width="1.4" />
<line x1="1745.15" y1="2062.9" x2="1745.15" y2="2073.1" stroke="#231f20" stroke-width="1.4" />
<text x="1744.15" y="2102.1" font-size="25" fill="#231f20" text-anchor="middle">3</text>
<rect x="1768.5" y="1779" width="29.3" height="189.7" fill="#0e72b6" stroke="#111" stroke-width="1.2" />
<rect x="1768.5" y="1968.7" width="29.3" height="94.2" fill="#e62434" stroke="#111" stroke-width="1.2" />
<line x1="1783.15" y1="1779" x2="1783.15" y2="1802.6" stroke="#111" stroke-width="1.4" />
<line x1="1777.65" y1="1802.6" x2="1788.65" y2="1802.6" stroke="#111" stroke-width="1.4" />
<line x1="1783.15" y1="1968.7" x2="1783.15" y2="1991.2" stroke="#111" stroke-width="1.4" />
<line x1="1777.65" y1="1991.2" x2="1788.65" y2="1991.2" stroke="#111" stroke-width="1.4" />
<line x1="1783.15" y1="2062.9" x2="1783.15" y2="2073.1" stroke="#231f20" stroke-width="1.4" />
<text x="1782.15" y="2102.1" font-size="25" fill="#231f20" text-anchor="middle">4</text>
<rect x="1806.4" y="1779" width="29.3" height="122.5" fill="#0e72b6" stroke="#111" stroke-width="1.2" />
<rect x="1806.4" y="1901.5" width="29.3" height="161.4" fill="#e62434" stroke="#111" stroke-width="1.2" />
<line x1="1821.05" y1="1901.5" x2="1821.05" y2="1957.8" stroke="#111" stroke-width="1.4" />
<line x1="1815.55" y1="1957.8" x2="1826.55" y2="1957.8" stroke="#111" stroke-width="1.4" />
<line x1="1821.05" y1="2062.9" x2="1821.05" y2="2073.1" stroke="#231f20" stroke-width="1.4" />
<text x="1820.05" y="2102.1" font-size="25" fill="#231f20" text-anchor="middle">5</text>
<line x1="1669.4" y1="1779" x2="1669.4" y2="1792" stroke="#111" stroke-width="1.4" />
<line x1="1707" y1="1779" x2="1707" y2="1795" stroke="#111" stroke-width="1.4" />
<line x1="1821" y1="1779" x2="1821" y2="1790" stroke="#111" stroke-width="1.4" />
<text transform="translate(1676.9,1853.8) rotate(-90)" x="0" y="0" font-size="21.5" fill="#fff" text-anchor="middle">49.1 ± 9.5%</text>
<text transform="translate(1714.5,1848) rotate(-90)" x="0" y="0" font-size="21.5" fill="#fff" text-anchor="middle">48.3 ± 11.4%</text>
<text transform="translate(1752.7,1904.2) rotate(-90)" x="0" y="0" font-size="21.5" fill="#fff" text-anchor="middle">71.6 ± 13.8%</text>
<text transform="translate(1790.7,1892.3) rotate(-90)" x="0" y="0" font-size="21.5" fill="#fff" text-anchor="middle">66.4 ± 8.3%</text>
<text transform="translate(1828.5,1847) rotate(-90)" x="0" y="0" font-size="21.5" fill="#fff" text-anchor="middle">42.8 ± 20.1%</text>
<text transform="translate(1676.9,2030.5) rotate(-90)" x="0" y="0" font-size="21.5" fill="#fff" text-anchor="middle"><tspan font-style="italic">n</tspan> = 99</text>
<text transform="translate(1714.5,2030.5) rotate(-90)" x="0" y="0" font-size="21.5" fill="#fff" text-anchor="middle"><tspan font-style="italic">n</tspan> = 71</text>
<text transform="translate(1752.7,2030.5) rotate(-90)" x="0" y="0" font-size="21.5" fill="#fff" text-anchor="middle"><tspan font-style="italic">n</tspan> = 47</text>
<text transform="translate(1790.7,2030.5) rotate(-90)" x="0" y="0" font-size="21.5" fill="#fff" text-anchor="middle"><tspan font-style="italic">n</tspan> = 40</text>
<text transform="translate(1828.5,2030.5) rotate(-90)" x="0" y="0" font-size="21.5" fill="#fff" text-anchor="middle"><tspan font-style="italic">n</tspan> = 25</text>
<line x1="1639.9" y1="2062.9" x2="1840.1" y2="2062.9" stroke="#231f20" stroke-width="1.4" />
<text transform="translate(1539.4,1921.3) rotate(-90)" x="0" y="0" font-size="25" fill="#231f20" text-anchor="middle">Infected cells (%)</text>
<text transform="translate(1568.4,1921.3) rotate(-90)" x="0" y="0" font-size="25" fill="#231f20" text-anchor="middle">(MOI 0.05)</text>
<text x="1863.3" y="1845" font-size="25" fill="#231f20">RSV passaged in:</text>
<text x="1863.3" y="1877.4" font-size="25" fill="#231f20">1: HEp-2</text>
<text x="1863.3" y="1910.9" font-size="25" fill="#231f20">2: A549</text>
<text x="1863.3" y="1944.4" font-size="25" fill="#231f20">3: Vero</text>
<text x="1863.3" y="1977.9" font-size="25" fill="#231f20">4: ALI #1</text>
<text x="1863.3" y="2011.4" font-size="25" fill="#231f20">5: ALI #2</text></svg>
</body></html>
